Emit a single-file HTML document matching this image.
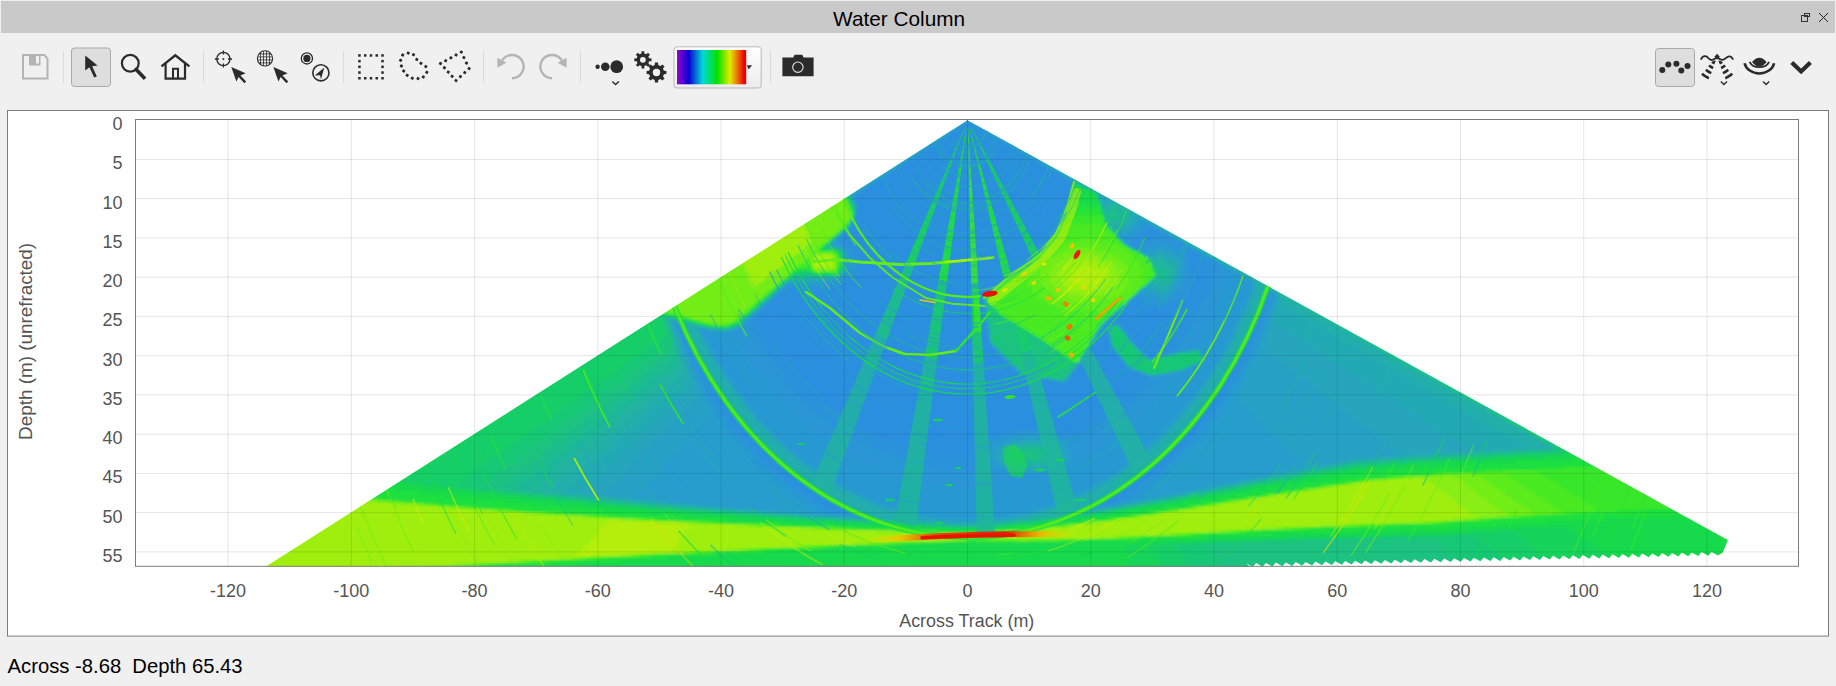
<!DOCTYPE html>
<html><head><meta charset="utf-8"><title>Water Column</title>
<style>
html,body{margin:0;padding:0;background:#f0f0f0;width:1836px;height:686px;overflow:hidden}
svg{display:block;font-family:"Liberation Sans",sans-serif}
</style></head><body>
<svg width="1836" height="686" viewBox="0 0 1836 686">
<defs><clipPath id="globeclip"><circle cx="265" cy="58.4" r="7.4"/></clipPath></defs>
<rect width="1836" height="686" fill="#f0f0f0"/>
<rect x="1" y="1" width="1834" height="32" fill="#c9c9c9"/>
<text x="899.1" y="25.9" font-size="21" text-anchor="middle" fill="#000" textLength="132" lengthAdjust="spacingAndGlyphs">Water Column</text>
<g fill="none" stroke="#333" stroke-width="1"><rect x="1804.5" y="13.5" width="5" height="3"/><rect x="1801.5" y="15.5" width="6" height="6"/></g>
<path d="M1819 13L1828 22M1828 13L1819 22" stroke="#222" stroke-width="1" fill="none"/>
<rect x="63" y="51" width="1" height="32" fill="#dadada"/>
<rect x="203" y="51" width="1" height="32" fill="#dadada"/>
<rect x="343" y="51" width="1" height="32" fill="#dadada"/>
<rect x="483" y="51" width="1" height="32" fill="#dadada"/>
<rect x="580" y="51" width="1" height="32" fill="#dadada"/>
<rect x="770" y="51" width="1" height="32" fill="#dadada"/>
<path d="M23 55H44.5L47.5 58.5V78.5H23Z" fill="none" stroke="#b4b4b4" stroke-width="2"/>
<rect x="29" y="55" width="11.5" height="10.5" fill="#b4b4b4"/><rect x="36" y="56" width="3" height="7.5" fill="#f0f0f0"/>
<rect x="71.5" y="48" width="39" height="38.5" rx="3" fill="#dedede" stroke="#a9a9a9" stroke-width="1"/>
<path d="M85.2 55.5L85.2 70.6L89.4 67.2L94.2 77.6L96.8 76.4L92.2 66.2L97.6 65.6Z" fill="#2b2b2b"/>
<circle cx="130.3" cy="63.3" r="8.4" fill="none" stroke="#2b2b2b" stroke-width="2.2"/>
<path d="M136.2 69.6L143.8 77.4" stroke="#2b2b2b" stroke-width="3.6" stroke-linecap="square"/>
<path d="M162.4 65.6L175.3 55.2L188.4 65.6" fill="none" stroke="#2b2b2b" stroke-width="2.4" stroke-linecap="square"/>
<path d="M165.6 63V78.6H185V63" fill="none" stroke="#2b2b2b" stroke-width="2.2"/>
<path d="M173 78.6V68.8H178V78.6" fill="none" stroke="#2b2b2b" stroke-width="2"/>
<circle cx="223.4" cy="59" r="6.6" fill="none" stroke="#2b2b2b" stroke-width="1.3"/>
<path d="M223.4 50.4V54.4M223.4 63.6V67.6M214.8 59H218.8M228 59H232" stroke="#2b2b2b" stroke-width="1.3"/>
<circle cx="223.4" cy="59" r="1" fill="#2b2b2b"/>
<path d="M231.30 66.90L236.40 81.40L238.60 76.90L244.40 83.20L246.20 81.40L240.40 75.40L245.70 73.20Z" fill="#2b2b2b"/>
<circle cx="265" cy="58.4" r="7.6" fill="none" stroke="#2b2b2b" stroke-width="1.1"/>
<path d="M260.5 51V66M263.5 51V66M266.5 51V66M269.5 51V66M257.5 53.9H272.5M257.5 56.9H272.5M257.5 59.9H272.5M257.5 62.9H272.5" stroke="#2b2b2b" stroke-width="0.8" clip-path="url(#globeclip)"/>
<path d="M273.35 66.90L278.45 81.40L280.65 76.90L286.45 83.20L288.25 81.40L282.45 75.40L287.75 73.20Z" fill="#2b2b2b"/>
<circle cx="306.9" cy="58.4" r="5.6" fill="none" stroke="#2b2b2b" stroke-width="1.3"/><circle cx="306.9" cy="58.4" r="3.6" fill="#2b2b2b"/>
<circle cx="320.9" cy="72.8" r="8.1" fill="none" stroke="#2b2b2b" stroke-width="1.6"/>
<path d="M324.3 67.6L314.8 75.4L320.1 75.2L320.9 79.4Z" fill="#2b2b2b"/>
<g fill="#2b2b2b"><rect x="358.20" y="54.20" width="2.5" height="2.5"/><rect x="358.20" y="59.90" width="2.5" height="2.5"/><rect x="358.20" y="65.60" width="2.5" height="2.5"/><rect x="358.20" y="71.30" width="2.5" height="2.5"/><rect x="358.20" y="77.00" width="2.5" height="2.5"/><rect x="363.97" y="54.20" width="2.5" height="2.5"/><rect x="363.97" y="77.00" width="2.5" height="2.5"/><rect x="369.74" y="54.20" width="2.5" height="2.5"/><rect x="369.74" y="77.00" width="2.5" height="2.5"/><rect x="375.51" y="54.20" width="2.5" height="2.5"/><rect x="375.51" y="77.00" width="2.5" height="2.5"/><rect x="381.28" y="54.20" width="2.5" height="2.5"/><rect x="381.28" y="59.90" width="2.5" height="2.5"/><rect x="381.28" y="65.60" width="2.5" height="2.5"/><rect x="381.28" y="71.30" width="2.5" height="2.5"/><rect x="381.28" y="77.00" width="2.5" height="2.5"/></g>
<g fill="#2b2b2b"><rect x="406.80" y="51.70" width="2.8" height="2.8" rx="0.5" transform="rotate(30 408.20 53.10)"/><rect x="412.10" y="53.30" width="2.8" height="2.8" rx="0.5" transform="rotate(30 413.50 54.70)"/><rect x="415.40" y="58.00" width="2.8" height="2.8" rx="0.5" transform="rotate(30 416.80 59.40)"/><rect x="419.50" y="61.90" width="2.8" height="2.8" rx="0.5" transform="rotate(30 420.90 63.30)"/><rect x="424.40" y="65.20" width="2.8" height="2.8" rx="0.5" transform="rotate(30 425.80 66.60)"/><rect x="425.40" y="70.90" width="2.8" height="2.8" rx="0.5" transform="rotate(30 426.80 72.30)"/><rect x="421.90" y="75.50" width="2.8" height="2.8" rx="0.5" transform="rotate(30 423.30 76.90)"/><rect x="416.60" y="77.20" width="2.8" height="2.8" rx="0.5" transform="rotate(30 418.00 78.60)"/><rect x="410.90" y="76.80" width="2.8" height="2.8" rx="0.5" transform="rotate(30 412.30 78.20)"/><rect x="405.80" y="73.90" width="2.8" height="2.8" rx="0.5" transform="rotate(30 407.20 75.30)"/><rect x="402.30" y="69.60" width="2.8" height="2.8" rx="0.5" transform="rotate(30 403.70 71.00)"/><rect x="400.00" y="64.60" width="2.8" height="2.8" rx="0.5" transform="rotate(30 401.40 66.00)"/><rect x="399.20" y="58.90" width="2.8" height="2.8" rx="0.5" transform="rotate(30 400.60 60.30)"/><rect x="401.30" y="53.60" width="2.8" height="2.8" rx="0.5" transform="rotate(30 402.70 55.00)"/></g>
<g fill="#2b2b2b"><rect x="439.10" y="62.10" width="2.8" height="2.8" rx="0.5" transform="rotate(30 440.50 63.50)"/><rect x="444.30" y="59.25" width="2.8" height="2.8" rx="0.5" transform="rotate(30 445.70 60.65)"/><rect x="449.50" y="56.40" width="2.8" height="2.8" rx="0.5" transform="rotate(30 450.90 57.80)"/><rect x="454.70" y="53.55" width="2.8" height="2.8" rx="0.5" transform="rotate(30 456.10 54.95)"/><rect x="459.90" y="50.70" width="2.8" height="2.8" rx="0.5" transform="rotate(30 461.30 52.10)"/><rect x="462.50" y="56.20" width="2.8" height="2.8" rx="0.5" transform="rotate(30 463.90 57.60)"/><rect x="465.10" y="61.70" width="2.8" height="2.8" rx="0.5" transform="rotate(30 466.50 63.10)"/><rect x="467.70" y="67.20" width="2.8" height="2.8" rx="0.5" transform="rotate(30 469.10 68.60)"/><rect x="463.33" y="71.20" width="2.8" height="2.8" rx="0.5" transform="rotate(30 464.73 72.60)"/><rect x="458.97" y="75.20" width="2.8" height="2.8" rx="0.5" transform="rotate(30 460.37 76.60)"/><rect x="454.60" y="79.20" width="2.8" height="2.8" rx="0.5" transform="rotate(30 456.00 80.60)"/><rect x="450.73" y="74.92" width="2.8" height="2.8" rx="0.5" transform="rotate(30 452.12 76.32)"/><rect x="446.85" y="70.65" width="2.8" height="2.8" rx="0.5" transform="rotate(30 448.25 72.05)"/><rect x="442.98" y="66.38" width="2.8" height="2.8" rx="0.5" transform="rotate(30 444.38 67.78)"/></g>
<path d="M502.2 60.4A11.6 11.6 0 1 1 512 78.2" fill="none" stroke="#b4b4b4" stroke-width="2.4"/>
<path d="M497.4 57.8L497.4 67.8L506.4 62.8Z" fill="#b4b4b4"/>
<path d="M561.8 60.4A11.6 11.6 0 1 0 552 78.2" fill="none" stroke="#b4b4b4" stroke-width="2.4"/>
<path d="M566.6 57.8L566.6 67.8L557.6 62.8Z" fill="#b4b4b4"/>
<circle cx="597.6" cy="66.7" r="2.2" fill="#2b2b2b"/><circle cx="605.3" cy="66.7" r="4.3" fill="#2b2b2b"/><circle cx="616.7" cy="66.7" r="6.4" fill="#2b2b2b"/>
<path d="M612.3 81.4L615.6 84.6L618.9 81.4" fill="none" stroke="#2b2b2b" stroke-width="1.4"/>
<path d="M649.12 58.31L651.49 58.44L651.49 61.16L649.12 61.29L648.36 63.14L649.94 64.91L648.01 66.84L646.24 65.26L644.39 66.02L644.26 68.39L641.54 68.39L641.41 66.02L639.56 65.26L637.79 66.84L635.86 64.91L637.44 63.14L636.68 61.29L634.31 61.16L634.31 58.44L636.68 58.31L637.44 56.46L635.86 54.69L637.79 52.76L639.56 54.34L641.41 53.58L641.54 51.21L644.26 51.21L644.39 53.58L646.24 54.34L648.01 52.76L649.94 54.69L648.36 56.46ZM645.80 59.80A2.9 2.9 0 1 0 640.00 59.80A2.9 2.9 0 1 0 645.80 59.80Z" fill="#2b2b2b" fill-rule="evenodd"/>
<path d="M663.89 70.73L666.38 70.94L666.38 74.06L663.89 74.27L662.98 76.47L664.59 78.38L662.38 80.59L660.47 78.98L658.27 79.89L658.06 82.38L654.94 82.38L654.73 79.89L652.53 78.98L650.62 80.59L648.41 78.38L650.02 76.47L649.11 74.27L646.62 74.06L646.62 70.94L649.11 70.73L650.02 68.53L648.41 66.62L650.62 64.41L652.53 66.02L654.73 65.11L654.94 62.62L658.06 62.62L658.27 65.11L660.47 66.02L662.38 64.41L664.59 66.62L662.98 68.53ZM660.20 72.50A3.7 3.7 0 1 0 652.80 72.50A3.7 3.7 0 1 0 660.20 72.50Z" fill="#2b2b2b" fill-rule="evenodd"/>
<defs><linearGradient id="cmapg" x1="0" x2="1" y1="0" y2="0"><stop offset="0" stop-color="#9a00d0"/><stop offset="0.17" stop-color="#0a00d4"/><stop offset="0.37" stop-color="#00d8d8"/><stop offset="0.58" stop-color="#00e000"/><stop offset="0.765" stop-color="#e0ec00"/><stop offset="0.97" stop-color="#f00000"/><stop offset="1" stop-color="#f00000"/></linearGradient><linearGradient id="btng" x1="0" x2="0" y1="0" y2="1"><stop offset="0" stop-color="#ffffff"/><stop offset="1" stop-color="#ececec"/></linearGradient></defs>
<rect x="674" y="46.8" width="87.2" height="41.2" rx="3" fill="url(#btng)" stroke="#b9b9b9" stroke-width="1"/>
<rect x="677" y="50" width="69.2" height="34.3" fill="url(#cmapg)"/>
<path d="M746.7 65.3H752.2L748.6 69.6Z" fill="#333"/>
<path d="M782.4 57.4H793.2L794.6 54.8H802.2L803.6 57.4H813.6V76.2H782.4Z" fill="#2b2b2b"/>
<circle cx="797.9" cy="67.2" r="5.2" fill="none" stroke="#e6e6e6" stroke-width="1.1"/>
<rect x="1655.5" y="48.5" width="39" height="38" rx="3" fill="#dedede" stroke="#a9a9a9" stroke-width="1"/>
<circle cx="1662.3" cy="69.9" r="3" fill="#2b2b2b"/>
<circle cx="1668.3" cy="64.6" r="3" fill="#2b2b2b"/>
<circle cx="1676.4" cy="63.7" r="3" fill="#2b2b2b"/>
<circle cx="1681.3" cy="70.4" r="3" fill="#2b2b2b"/>
<circle cx="1687.5" cy="65.9" r="3" fill="#2b2b2b"/>
<path d="M1700.8 59.6C1703 55 1706.5 55.5 1708.5 58.2S1713.5 60.5 1717 57.2C1720.5 60.5 1723.5 60.5 1725.8 58.2S1731 55 1733.2 59.6" fill="none" stroke="#2b2b2b" stroke-width="1.8"/>
<path d="M1717.1 53.8L1719.8 56.8L1717.1 59.8L1714.4 56.8Z" fill="#2b2b2b"/>
<path d="M1712.13 61.81Q1713.27 62.84 1714.67 63.39M1722.07 61.81Q1720.93 62.84 1719.53 63.39M1709.06 65.53Q1710.90 67.18 1713.14 68.07M1725.14 65.53Q1723.30 67.18 1721.06 68.07M1705.89 69.70Q1708.33 71.91 1711.31 73.10M1728.31 69.70Q1725.87 71.91 1722.89 73.10M1701.92 73.83Q1705.05 76.65 1708.88 78.17M1732.28 73.83Q1729.15 76.65 1725.32 78.17" fill="none" stroke="#2b2b2b" stroke-width="2.6"/>
<path d="M1713.2 60.8L1716 60.8L1714.4 63.6Z M1721 60.8L1718.2 60.8L1719.8 63.6Z" fill="#2b2b2b"/>
<path d="M1720.8 81.6L1723.9 84.6L1727 81.6" fill="none" stroke="#2b2b2b" stroke-width="1.4"/>
<path d="M1752 62Q1759.3 53.5 1766.6 62Q1759.3 71 1752 62Z" fill="#2b2b2b"/>
<path d="M1749.6 61.8A10.5 8.5 0 0 0 1769.1 61.8" fill="none" stroke="#2b2b2b" stroke-width="1.8"/>
<path d="M1744.6 63.2A15 12.5 0 0 0 1774.1 63.2" fill="none" stroke="#2b2b2b" stroke-width="2.6"/>
<path d="M1763 81.6L1766.1 84.6L1769.2 81.6" fill="none" stroke="#2b2b2b" stroke-width="1.4"/>
<path d="M1791.8 62.4L1801.1 71.4L1810.4 62.4" fill="none" stroke="#2b2b2b" stroke-width="4.2"/>
<rect x="7.5" y="110.5" width="1821" height="525.6" fill="#fff" stroke="#7c7c7c" stroke-width="1"/>
<defs><clipPath id="fanclip"><path d="M967.5 120.2L1727.9 540.1L1722.8 552.5L1718.0 555.5L1711.5 551.9L1708.1 555.7L1701.6 552.1L1698.2 556.0L1691.7 552.4L1688.3 556.2L1681.8 552.6L1678.4 556.5L1671.9 552.9L1668.5 556.7L1662.0 553.1L1658.6 557.0L1652.1 553.4L1648.7 557.2L1642.2 553.6L1638.8 557.4L1632.3 553.8L1628.9 557.7L1622.4 554.1L1619.0 557.9L1612.5 554.3L1609.1 558.2L1602.6 554.6L1599.2 558.4L1592.7 554.8L1589.3 558.7L1582.8 555.1L1579.4 558.9L1572.9 555.3L1569.5 559.2L1563.0 555.6L1559.6 559.4L1553.1 555.8L1549.7 559.6L1543.2 556.0L1539.8 559.9L1533.3 556.3L1529.9 560.1L1523.4 556.5L1520.0 560.4L1513.5 556.8L1510.1 560.6L1503.6 557.0L1500.2 560.9L1493.7 557.3L1490.3 561.1L1483.8 557.5L1480.4 561.3L1473.9 557.7L1470.5 561.6L1464.0 558.0L1460.6 561.8L1454.1 558.2L1450.7 562.1L1444.2 558.5L1440.8 562.3L1434.3 558.7L1430.9 562.6L1424.4 559.0L1421.0 562.8L1414.5 559.2L1411.1 563.0L1404.6 559.4L1401.2 563.3L1394.7 559.7L1391.3 563.5L1384.8 559.9L1381.4 563.8L1374.9 560.2L1371.5 564.0L1365.0 560.4L1361.6 564.3L1355.1 560.7L1351.7 564.5L1345.2 560.9L1341.8 564.8L1335.3 561.2L1331.9 565.0L1325.4 561.4L1322.0 565.2L1315.5 561.6L1312.1 565.5L1305.6 561.9L1302.2 565.7L1295.7 562.1L1292.3 566.0L1285.8 562.4L1282.4 566.2L1275.9 562.6L1272.5 566.5L1266.0 562.9L1262.6 566.7L1256.1 563.1L1252.7 566.9L1246.2 563.3L1250.0 567.0L266.0 566.5Z"/></clipPath><filter id="fblur" x="0" y="0" width="1" height="1"><feGaussianBlur stdDeviation="1.2"/></filter></defs>
<g clip-path="url(#fanclip)">
<g filter="url(#fblur)" shape-rendering="crispEdges">
<rect x="258" y="116" width="1476" height="453" fill="#72ed18"/>
<path fill="#2a8fdf" d="M966 122h3v3h-3zM963 125h12v3h-12zM957 128h21v3h-21zM954 131h30v3h-30zM948 134h42v3h-42zM945 137h51v3h-51zM939 140h60v3h-60zM933 143h72v3h-72zM930 146h81v3h-81zM924 149h93v3h-93zM921 152h99v3h-99zM915 155h111v3h-111zM912 158h120v3h-120zM906 161h132v3h-132zM903 164h138v3h-138zM897 167h150v3h-150zM894 170h159v3h-159zM888 173h171v3h-171zM885 176h177v3h-177zM879 179h189v3h-189zM876 182h195v3h-195zM870 185h201v3h-201zM867 188h204v3h-204zM861 191h210v3h-210zM858 194h210v3h-210zM855 197h213v3h-213zM858 200h210v3h-210zM858 203h210v3h-210zM858 206h207v3h-207zM858 209h207v3h-207zM858 212h204v3h-204zM858 215h204v3h-204zM855 218h207v3h-207zM855 221h204v3h-204zM852 224h207v3h-207zM852 227h204v3h-204zM849 230h207v3h-207zM1149 230h9v3h-9zM846 233h207v3h-207zM1146 233h12v3h-12zM843 236h207v3h-207zM1143 236h3v3h-3zM843 239h207v3h-207zM1140 239h3v3h-3zM849 242h198v3h-198zM1134 242h6v3h-6zM852 245h192v3h-192zM1131 245h6v3h-6zM855 248h186v3h-186zM1185 248h3v3h-3zM858 251h180v3h-180zM1188 251h6v3h-6zM858 254h177v3h-177zM1188 254h12v3h-12zM861 257h171v3h-171zM1191 257h12v3h-12zM861 260h168v3h-168zM1191 260h15v3h-15zM861 263h162v3h-162zM1191 263h15v3h-15zM861 266h159v3h-159zM1191 266h15v3h-15zM858 269h156v3h-156zM1191 269h12v3h-12zM855 272h156v3h-156zM1191 272h12v3h-12zM855 275h153v3h-153zM1191 275h9v3h-9zM849 278h156v3h-156zM1191 278h9v3h-9zM846 281h153v3h-153zM1191 281h9v3h-9zM840 284h156v3h-156zM1191 284h6v3h-6zM831 287h162v3h-162zM1188 287h9v3h-9zM783 290h15v3h-15zM813 290h177v3h-177zM1188 290h6v3h-6zM780 293h207v3h-207zM1185 293h9v3h-9zM777 296h207v3h-207zM1134 296h3v3h-3zM1182 296h9v3h-9zM1263 296h6v3h-6zM774 299h210v3h-210zM1131 299h9v3h-9zM1182 299h9v3h-9zM1263 299h3v3h-3zM771 302h213v3h-213zM1128 302h15v3h-15zM1176 302h12v3h-12zM1263 302h3v3h-3zM768 305h216v3h-216zM1125 305h21v3h-21zM1173 305h15v3h-15zM1260 305h6v3h-6zM762 308h222v3h-222zM1122 308h36v3h-36zM1164 308h21v3h-21zM1260 308h3v3h-3zM759 311h225v3h-225zM1116 311h69v3h-69zM1260 311h3v3h-3zM756 314h231v3h-231zM1113 314h69v3h-69zM1257 314h3v3h-3zM753 317h234v3h-234zM1110 317h72v3h-72zM1257 317h3v3h-3zM756 320h231v3h-231zM1107 320h72v3h-72zM1254 320h6v3h-6zM759 323h228v3h-228zM1104 323h9v3h-9zM1119 323h57v3h-57zM1254 323h3v3h-3zM681 326h3v3h-3zM759 326h228v3h-228zM1101 326h6v3h-6zM1122 326h54v3h-54zM1251 326h6v3h-6zM681 329h3v3h-3zM762 329h225v3h-225zM1101 329h6v3h-6zM1125 329h48v3h-48zM1251 329h3v3h-3zM684 332h3v3h-3zM762 332h225v3h-225zM1098 332h9v3h-9zM1128 332h45v3h-45zM1248 332h6v3h-6zM684 335h3v3h-3zM765 335h222v3h-222zM1095 335h15v3h-15zM1128 335h42v3h-42zM1248 335h6v3h-6zM687 338h3v3h-3zM768 338h222v3h-222zM1095 338h15v3h-15zM1131 338h36v3h-36zM1248 338h3v3h-3zM687 341h3v3h-3zM768 341h222v3h-222zM1092 341h18v3h-18zM1134 341h33v3h-33zM1245 341h6v3h-6zM771 344h219v3h-219zM1092 344h18v3h-18zM1137 344h27v3h-27zM1245 344h3v3h-3zM690 347h3v3h-3zM774 347h219v3h-219zM1089 347h24v3h-24zM1140 347h21v3h-21zM1242 347h6v3h-6zM693 350h3v3h-3zM777 350h219v3h-219zM1086 350h30v3h-30zM1143 350h15v3h-15zM1242 350h3v3h-3zM693 353h3v3h-3zM777 353h222v3h-222zM1086 353h30v3h-30zM1146 353h12v3h-12zM1239 353h6v3h-6zM696 356h3v3h-3zM780 356h222v3h-222zM1083 356h36v3h-36zM1149 356h6v3h-6zM1236 356h6v3h-6zM696 359h3v3h-3zM783 359h222v3h-222zM1083 359h39v3h-39zM1236 359h6v3h-6zM699 362h3v3h-3zM786 362h222v3h-222zM1080 362h45v3h-45zM1233 362h6v3h-6zM699 365h3v3h-3zM789 365h222v3h-222zM1077 365h51v3h-51zM1233 365h6v3h-6zM702 368h3v3h-3zM789 368h225v3h-225zM1077 368h54v3h-54zM1230 368h6v3h-6zM702 371h3v3h-3zM792 371h225v3h-225zM1074 371h66v3h-66zM1230 371h3v3h-3zM705 374h3v3h-3zM795 374h228v3h-228zM1071 374h69v3h-69zM1227 374h6v3h-6zM705 377h6v3h-6zM798 377h240v3h-240zM1068 377h69v3h-69zM1224 377h6v3h-6zM708 380h3v3h-3zM801 380h255v3h-255zM1065 380h69v3h-69zM1224 380h6v3h-6zM708 383h6v3h-6zM804 383h327v3h-327zM1221 383h6v3h-6zM711 386h6v3h-6zM807 386h321v3h-321zM1218 386h9v3h-9zM711 389h6v3h-6zM810 389h315v3h-315zM1218 389h6v3h-6zM714 392h6v3h-6zM813 392h309v3h-309zM1215 392h6v3h-6zM717 395h6v3h-6zM816 395h303v3h-303zM1212 395h9v3h-9zM717 398h6v3h-6zM822 398h294v3h-294zM1212 398h6v3h-6zM720 401h6v3h-6zM825 401h285v3h-285zM1209 401h6v3h-6zM723 404h6v3h-6zM828 404h279v3h-279zM1206 404h9v3h-9zM723 407h6v3h-6zM831 407h273v3h-273zM1206 407h6v3h-6zM726 410h6v3h-6zM837 410h261v3h-261zM1203 410h6v3h-6zM729 413h6v3h-6zM840 413h255v3h-255zM1200 413h6v3h-6zM729 416h9v3h-9zM843 416h249v3h-249zM1197 416h9v3h-9zM732 419h9v3h-9zM849 419h237v3h-237zM1194 419h9v3h-9zM735 422h6v3h-6zM855 422h228v3h-228zM1194 422h6v3h-6zM738 425h6v3h-6zM858 425h219v3h-219zM1191 425h6v3h-6zM741 428h6v3h-6zM864 428h147v3h-147zM1050 428h21v3h-21zM1188 428h6v3h-6zM741 431h9v3h-9zM870 431h129v3h-129zM1062 431h3v3h-3zM1185 431h9v3h-9zM744 434h9v3h-9zM876 434h114v3h-114zM1182 434h9v3h-9zM747 437h9v3h-9zM882 437h102v3h-102zM1179 437h9v3h-9zM750 440h9v3h-9zM891 440h87v3h-87zM1176 440h9v3h-9zM753 443h9v3h-9zM897 443h78v3h-78zM1173 443h9v3h-9zM756 446h9v3h-9zM906 446h66v3h-66zM1170 446h9v3h-9zM759 449h9v3h-9zM918 449h54v3h-54zM1167 449h9v3h-9zM762 452h9v3h-9zM933 452h39v3h-39zM1164 452h9v3h-9zM765 455h9v3h-9zM1161 455h9v3h-9zM768 458h9v3h-9zM1158 458h9v3h-9zM771 461h9v3h-9zM1155 461h9v3h-9zM774 464h9v3h-9zM1152 464h9v3h-9zM777 467h9v3h-9zM1149 467h9v3h-9zM780 470h9v3h-9zM1146 470h9v3h-9zM783 473h12v3h-12zM1140 473h12v3h-12zM789 476h9v3h-9zM1137 476h9v3h-9zM792 479h9v3h-9zM1134 479h9v3h-9zM795 482h12v3h-12zM1128 482h12v3h-12zM798 485h12v3h-12zM1125 485h12v3h-12zM804 488h12v3h-12zM1119 488h12v3h-12zM807 491h12v3h-12zM1116 491h12v3h-12zM813 494h12v3h-12zM1110 494h12v3h-12zM816 497h12v3h-12zM1107 497h12v3h-12zM822 500h12v3h-12zM1101 500h12v3h-12zM825 503h15v3h-15zM1095 503h3v3h-3zM831 506h15v3h-15zM837 509h15v3h-15zM852 512h6v3h-6z"/>
<path fill="#2992db" d="M969 122h3v3h-3zM960 125h3v3h-3zM978 128h3v3h-3zM951 131h3v3h-3zM984 131h3v3h-3zM990 134h3v3h-3zM942 137h3v3h-3zM936 140h3v3h-3zM999 140h3v3h-3zM1005 143h3v3h-3zM927 146h3v3h-3zM1011 146h3v3h-3zM918 152h3v3h-3zM1020 152h3v3h-3zM1026 155h3v3h-3zM909 158h3v3h-3zM1032 158h3v3h-3zM1038 161h3v3h-3zM900 164h3v3h-3zM1041 164h3v3h-3zM1047 167h3v3h-3zM891 170h3v3h-3zM1053 170h3v3h-3zM885 173h3v3h-3zM1059 173h3v3h-3zM882 176h3v3h-3zM1062 176h3v3h-3zM876 179h3v3h-3zM1068 179h3v3h-3zM873 182h3v3h-3zM867 185h3v3h-3zM864 188h3v3h-3zM858 191h3v3h-3zM855 194h3v3h-3zM855 200h3v3h-3zM855 215h3v3h-3zM852 221h3v3h-3zM1146 224h3v3h-3zM849 227h3v3h-3zM1146 227h9v3h-9zM846 230h3v3h-3zM1143 230h6v3h-6zM1158 230h3v3h-3zM843 233h3v3h-3zM1140 233h6v3h-6zM1158 233h9v3h-9zM840 236h3v3h-3zM1134 236h9v3h-9zM1146 236h24v3h-24zM837 239h6v3h-6zM1128 239h12v3h-12zM1143 239h9v3h-9zM1167 239h9v3h-9zM840 242h9v3h-9zM1125 242h9v3h-9zM1140 242h6v3h-6zM1173 242h9v3h-9zM846 245h6v3h-6zM1137 245h6v3h-6zM1176 245h12v3h-12zM849 248h6v3h-6zM1137 248h3v3h-3zM1179 248h6v3h-6zM1188 248h3v3h-3zM852 251h6v3h-6zM1182 251h6v3h-6zM1194 251h3v3h-3zM852 254h6v3h-6zM1185 254h3v3h-3zM1200 254h3v3h-3zM855 257h6v3h-6zM1185 257h6v3h-6zM1203 257h6v3h-6zM855 260h6v3h-6zM1185 260h6v3h-6zM1206 260h6v3h-6zM855 263h6v3h-6zM1188 263h3v3h-3zM1206 263h12v3h-12zM855 266h6v3h-6zM1188 266h3v3h-3zM1206 266h12v3h-12zM852 269h6v3h-6zM1188 269h3v3h-3zM1203 269h15v3h-15zM849 272h6v3h-6zM1188 272h3v3h-3zM1203 272h12v3h-12zM846 275h9v3h-9zM1188 275h3v3h-3zM1200 275h15v3h-15zM843 278h6v3h-6zM1188 278h3v3h-3zM1200 278h12v3h-12zM837 281h9v3h-9zM1185 281h6v3h-6zM1200 281h12v3h-12zM828 284h12v3h-12zM1185 284h6v3h-6zM1197 284h15v3h-15zM783 287h48v3h-48zM1185 287h3v3h-3zM1197 287h12v3h-12zM780 290h3v3h-3zM798 290h15v3h-15zM1182 290h6v3h-6zM1194 290h15v3h-15zM777 293h3v3h-3zM1137 293h3v3h-3zM1179 293h6v3h-6zM1194 293h12v3h-12zM1263 293h6v3h-6zM774 296h3v3h-3zM1137 296h6v3h-6zM1176 296h6v3h-6zM1191 296h15v3h-15zM771 299h3v3h-3zM1140 299h6v3h-6zM1173 299h9v3h-9zM1191 299h12v3h-12zM1266 299h3v3h-3zM768 302h3v3h-3zM1143 302h9v3h-9zM1167 302h9v3h-9zM1188 302h15v3h-15zM1260 302h3v3h-3zM1266 302h3v3h-3zM765 305h3v3h-3zM1146 305h27v3h-27zM1188 305h12v3h-12zM1158 308h6v3h-6zM1185 308h15v3h-15zM1263 308h3v3h-3zM1185 311h12v3h-12zM1257 311h3v3h-3zM1263 311h3v3h-3zM1182 314h15v3h-15zM1260 314h3v3h-3zM1182 317h12v3h-12zM1254 317h3v3h-3zM1260 317h3v3h-3zM750 320h6v3h-6zM1179 320h15v3h-15zM1260 320h3v3h-3zM678 323h3v3h-3zM747 323h12v3h-12zM1176 323h15v3h-15zM1251 323h3v3h-3zM1257 323h3v3h-3zM678 326h3v3h-3zM744 326h15v3h-15zM1176 326h15v3h-15zM1257 326h3v3h-3zM747 329h15v3h-15zM1173 329h15v3h-15zM1254 329h3v3h-3zM681 332h3v3h-3zM747 332h15v3h-15zM1173 332h15v3h-15zM1254 332h3v3h-3zM750 335h15v3h-15zM1170 335h15v3h-15zM1254 335h3v3h-3zM684 338h3v3h-3zM753 338h15v3h-15zM1167 338h15v3h-15zM1245 338h3v3h-3zM1251 338h3v3h-3zM684 341h3v3h-3zM753 341h15v3h-15zM1167 341h15v3h-15zM1251 341h3v3h-3zM687 344h6v3h-6zM756 344h15v3h-15zM1164 344h15v3h-15zM1242 344h3v3h-3zM1248 344h3v3h-3zM687 347h3v3h-3zM759 347h15v3h-15zM1161 347h15v3h-15zM1248 347h3v3h-3zM690 350h3v3h-3zM759 350h18v3h-18zM1158 350h18v3h-18zM1239 350h3v3h-3zM1245 350h3v3h-3zM690 353h3v3h-3zM762 353h15v3h-15zM1158 353h9v3h-9zM1245 353h3v3h-3zM693 356h3v3h-3zM765 356h15v3h-15zM1242 356h3v3h-3zM693 359h3v3h-3zM699 359h3v3h-3zM765 359h18v3h-18zM1242 359h3v3h-3zM696 362h3v3h-3zM768 362h18v3h-18zM1239 362h3v3h-3zM696 365h3v3h-3zM702 365h3v3h-3zM771 365h18v3h-18zM1230 365h3v3h-3zM1239 365h3v3h-3zM699 368h3v3h-3zM774 368h15v3h-15zM1236 368h3v3h-3zM699 371h3v3h-3zM705 371h3v3h-3zM777 371h15v3h-15zM1227 371h3v3h-3zM1233 371h6v3h-6zM702 374h3v3h-3zM777 374h18v3h-18zM1140 374h6v3h-6zM1233 374h3v3h-3zM702 377h3v3h-3zM780 377h18v3h-18zM1137 377h18v3h-18zM1230 377h6v3h-6zM705 380h3v3h-3zM711 380h3v3h-3zM783 380h18v3h-18zM1134 380h18v3h-18zM1221 380h3v3h-3zM1230 380h3v3h-3zM705 383h3v3h-3zM786 383h18v3h-18zM1131 383h18v3h-18zM1227 383h3v3h-3zM708 386h3v3h-3zM789 386h18v3h-18zM1128 386h18v3h-18zM1227 386h3v3h-3zM708 389h3v3h-3zM717 389h3v3h-3zM792 389h18v3h-18zM1125 389h18v3h-18zM1215 389h3v3h-3zM1224 389h3v3h-3zM711 392h3v3h-3zM795 392h18v3h-18zM1122 392h18v3h-18zM1221 392h6v3h-6zM711 395h6v3h-6zM798 395h18v3h-18zM1119 395h18v3h-18zM1221 395h3v3h-3zM714 398h3v3h-3zM723 398h3v3h-3zM801 398h21v3h-21zM1116 398h18v3h-18zM1209 398h3v3h-3zM1218 398h3v3h-3zM717 401h3v3h-3zM804 401h21v3h-21zM1110 401h21v3h-21zM1215 401h6v3h-6zM717 404h6v3h-6zM807 404h21v3h-21zM1107 404h21v3h-21zM1215 404h3v3h-3zM720 407h3v3h-3zM729 407h3v3h-3zM810 407h21v3h-21zM1104 407h21v3h-21zM1203 407h3v3h-3zM1212 407h3v3h-3zM723 410h3v3h-3zM732 410h3v3h-3zM813 410h24v3h-24zM1098 410h24v3h-24zM1200 410h3v3h-3zM1209 410h3v3h-3zM723 413h6v3h-6zM816 413h24v3h-24zM1095 413h24v3h-24zM1206 413h6v3h-6zM726 416h3v3h-3zM822 416h21v3h-21zM1092 416h24v3h-24zM1206 416h3v3h-3zM729 419h3v3h-3zM825 419h24v3h-24zM1086 419h24v3h-24zM1203 419h3v3h-3zM729 422h6v3h-6zM741 422h3v3h-3zM828 422h27v3h-27zM1083 422h24v3h-24zM1191 422h3v3h-3zM1200 422h3v3h-3zM732 425h6v3h-6zM744 425h3v3h-3zM831 425h27v3h-27zM1077 425h27v3h-27zM1188 425h3v3h-3zM1197 425h6v3h-6zM735 428h6v3h-6zM747 428h3v3h-3zM837 428h27v3h-27zM1011 428h39v3h-39zM1071 428h27v3h-27zM1185 428h3v3h-3zM1194 428h6v3h-6zM738 431h3v3h-3zM840 431h30v3h-30zM999 431h18v3h-18zM1044 431h18v3h-18zM1065 431h30v3h-30zM1194 431h3v3h-3zM741 434h3v3h-3zM846 434h30v3h-30zM990 434h12v3h-12zM1059 434h30v3h-30zM1191 434h3v3h-3zM744 437h3v3h-3zM852 437h30v3h-30zM984 437h9v3h-9zM1068 437h15v3h-15zM1188 437h3v3h-3zM744 440h6v3h-6zM855 440h36v3h-36zM978 440h9v3h-9zM1071 440h9v3h-9zM1185 440h6v3h-6zM747 443h6v3h-6zM861 443h36v3h-36zM975 443h9v3h-9zM1182 443h6v3h-6zM750 446h6v3h-6zM867 446h39v3h-39zM972 446h9v3h-9zM1179 446h6v3h-6zM753 449h6v3h-6zM873 449h45v3h-45zM972 449h6v3h-6zM1176 449h6v3h-6zM756 452h6v3h-6zM879 452h54v3h-54zM972 452h6v3h-6zM1173 452h6v3h-6zM759 455h6v3h-6zM888 455h90v3h-90zM1170 455h6v3h-6zM762 458h6v3h-6zM897 458h81v3h-81zM1167 458h6v3h-6zM765 461h6v3h-6zM780 461h3v3h-3zM906 461h75v3h-75zM1164 461h6v3h-6zM768 464h6v3h-6zM783 464h3v3h-3zM918 464h66v3h-66zM1149 464h3v3h-3zM1161 464h6v3h-6zM771 467h6v3h-6zM786 467h3v3h-3zM930 467h57v3h-57zM1146 467h3v3h-3zM1158 467h6v3h-6zM774 470h6v3h-6zM789 470h3v3h-3zM963 470h9v3h-9zM1143 470h3v3h-3zM1155 470h6v3h-6zM780 473h3v3h-3zM1152 473h3v3h-3zM783 476h6v3h-6zM798 476h3v3h-3zM1134 476h3v3h-3zM1146 476h6v3h-6zM786 479h6v3h-6zM801 479h3v3h-3zM1131 479h3v3h-3zM1143 479h6v3h-6zM789 482h6v3h-6zM1140 482h6v3h-6zM792 485h6v3h-6zM810 485h3v3h-3zM1122 485h3v3h-3zM1137 485h6v3h-6zM798 488h6v3h-6zM1131 488h6v3h-6zM801 491h6v3h-6zM819 491h3v3h-3zM1113 491h3v3h-3zM1128 491h6v3h-6zM804 494h9v3h-9zM1122 494h9v3h-9zM810 497h6v3h-6zM828 497h3v3h-3zM1104 497h3v3h-3zM1119 497h6v3h-6zM813 500h9v3h-9zM834 500h3v3h-3zM1098 500h3v3h-3zM1113 500h6v3h-6zM819 503h6v3h-6zM840 503h3v3h-3zM1092 503h3v3h-3zM1098 503h9v3h-9zM825 506h6v3h-6zM846 506h3v3h-3zM828 509h9v3h-9zM852 509h3v3h-3zM837 512h15v3h-15zM858 512h3v3h-3z"/>
<path fill="#2996d6" d="M963 122h3v3h-3zM975 125h3v3h-3zM954 128h3v3h-3zM945 134h3v3h-3zM996 137h3v3h-3zM1017 149h3v3h-3zM1023 152h3v3h-3zM912 155h3v3h-3zM903 161h3v3h-3zM1044 164h3v3h-3zM894 167h3v3h-3zM1065 176h3v3h-3zM1071 179h3v3h-3zM1071 182h3v3h-3zM861 188h3v3h-3zM852 194h3v3h-3zM855 203h3v3h-3zM855 212h3v3h-3zM1062 212h3v3h-3zM1143 224h3v3h-3zM1149 224h3v3h-3zM1140 227h6v3h-6zM1155 227h3v3h-3zM1137 230h6v3h-6zM1161 230h3v3h-3zM1134 233h6v3h-6zM1128 236h6v3h-6zM1170 236h3v3h-3zM1122 239h6v3h-6zM1152 239h15v3h-15zM1176 239h3v3h-3zM834 242h6v3h-6zM1146 242h12v3h-12zM1164 242h9v3h-9zM1182 242h3v3h-3zM843 245h3v3h-3zM1143 245h6v3h-6zM1170 245h6v3h-6zM846 248h3v3h-3zM1140 248h6v3h-6zM1176 248h3v3h-3zM1191 248h3v3h-3zM849 251h3v3h-3zM1179 251h3v3h-3zM1197 251h3v3h-3zM849 254h3v3h-3zM1179 254h6v3h-6zM1203 254h3v3h-3zM849 257h6v3h-6zM1182 257h3v3h-3zM852 260h3v3h-3zM1182 260h3v3h-3zM1212 260h3v3h-3zM852 263h3v3h-3zM1185 263h3v3h-3zM1218 263h3v3h-3zM849 266h6v3h-6zM1185 266h3v3h-3zM1218 266h6v3h-6zM849 269h3v3h-3zM1185 269h3v3h-3zM1218 269h12v3h-12zM846 272h3v3h-3zM1185 272h3v3h-3zM1215 272h15v3h-15zM1185 275h3v3h-3zM1215 275h15v3h-15zM840 278h3v3h-3zM1185 278h3v3h-3zM1212 278h15v3h-15zM831 281h6v3h-6zM1182 281h3v3h-3zM1212 281h15v3h-15zM786 284h6v3h-6zM816 284h12v3h-12zM1182 284h3v3h-3zM1212 284h15v3h-15zM1179 287h6v3h-6zM1209 287h15v3h-15zM1140 290h3v3h-3zM1179 290h3v3h-3zM1209 290h15v3h-15zM1266 290h3v3h-3zM1140 293h6v3h-6zM1176 293h3v3h-3zM1206 293h15v3h-15zM1269 293h3v3h-3zM1143 296h6v3h-6zM1170 296h6v3h-6zM1206 296h15v3h-15zM1269 296h3v3h-3zM1146 299h12v3h-12zM1164 299h9v3h-9zM1203 299h15v3h-15zM1269 299h3v3h-3zM1152 302h15v3h-15zM1203 302h15v3h-15zM1200 305h18v3h-18zM1266 305h3v3h-3zM759 308h3v3h-3zM1200 308h15v3h-15zM1257 308h3v3h-3zM1266 308h3v3h-3zM756 311h3v3h-3zM1197 311h18v3h-18zM753 314h3v3h-3zM1197 314h15v3h-15zM1263 314h3v3h-3zM750 317h3v3h-3zM1194 317h18v3h-18zM1263 317h3v3h-3zM747 320h3v3h-3zM1194 320h15v3h-15zM675 323h3v3h-3zM681 323h3v3h-3zM744 323h3v3h-3zM1191 323h18v3h-18zM1260 323h3v3h-3zM741 326h3v3h-3zM1191 326h15v3h-15zM1260 326h3v3h-3zM678 329h3v3h-3zM684 329h3v3h-3zM735 329h12v3h-12zM1188 329h18v3h-18zM1248 329h3v3h-3zM1257 329h3v3h-3zM732 332h15v3h-15zM1125 332h3v3h-3zM1188 332h15v3h-15zM1257 332h3v3h-3zM681 335h3v3h-3zM687 335h3v3h-3zM735 335h15v3h-15zM1185 335h15v3h-15zM1245 335h3v3h-3zM735 338h18v3h-18zM1182 338h18v3h-18zM1254 338h3v3h-3zM690 341h3v3h-3zM738 341h15v3h-15zM1131 341h3v3h-3zM1182 341h15v3h-15zM1242 341h3v3h-3zM684 344h3v3h-3zM738 344h18v3h-18zM990 344h3v3h-3zM1134 344h3v3h-3zM1179 344h18v3h-18zM1251 344h3v3h-3zM693 347h3v3h-3zM741 347h18v3h-18zM993 347h3v3h-3zM1137 347h3v3h-3zM1176 347h18v3h-18zM1239 347h3v3h-3zM1251 347h3v3h-3zM687 350h3v3h-3zM744 350h15v3h-15zM996 350h3v3h-3zM1140 350h3v3h-3zM1176 350h6v3h-6zM1248 350h3v3h-3zM696 353h3v3h-3zM744 353h18v3h-18zM999 353h3v3h-3zM1116 353h3v3h-3zM1236 353h3v3h-3zM1248 353h3v3h-3zM690 356h3v3h-3zM747 356h18v3h-18zM1002 356h3v3h-3zM1245 356h3v3h-3zM750 359h15v3h-15zM1005 359h3v3h-3zM1233 359h3v3h-3zM1245 359h3v3h-3zM693 362h3v3h-3zM750 362h18v3h-18zM1008 362h3v3h-3zM1242 362h3v3h-3zM693 365h3v3h-3zM753 365h18v3h-18zM1011 365h3v3h-3zM1242 365h3v3h-3zM696 368h3v3h-3zM756 368h18v3h-18zM1014 368h3v3h-3zM1074 368h3v3h-3zM1239 368h3v3h-3zM696 371h3v3h-3zM756 371h21v3h-21zM1017 371h3v3h-3zM1071 371h3v3h-3zM1176 371h3v3h-3zM1239 371h3v3h-3zM699 374h3v3h-3zM708 374h3v3h-3zM759 374h18v3h-18zM1023 374h3v3h-3zM1146 374h3v3h-3zM1161 374h15v3h-15zM1224 374h3v3h-3zM1236 374h3v3h-3zM699 377h3v3h-3zM762 377h18v3h-18zM1038 377h3v3h-3zM1155 377h18v3h-18zM1236 377h3v3h-3zM702 380h3v3h-3zM765 380h18v3h-18zM1152 380h18v3h-18zM1233 380h3v3h-3zM702 383h3v3h-3zM714 383h3v3h-3zM765 383h21v3h-21zM1149 383h21v3h-21zM1230 383h3v3h-3zM705 386h3v3h-3zM768 386h21v3h-21zM1146 386h21v3h-21zM1230 386h3v3h-3zM705 389h3v3h-3zM771 389h21v3h-21zM1143 389h21v3h-21zM1227 389h3v3h-3zM708 392h3v3h-3zM720 392h3v3h-3zM774 392h21v3h-21zM1140 392h21v3h-21zM1227 392h3v3h-3zM708 395h3v3h-3zM777 395h21v3h-21zM1137 395h21v3h-21zM1224 395h3v3h-3zM711 398h3v3h-3zM780 398h21v3h-21zM1134 398h21v3h-21zM1221 398h3v3h-3zM714 401h3v3h-3zM726 401h3v3h-3zM783 401h21v3h-21zM1131 401h21v3h-21zM1206 401h3v3h-3zM1221 401h3v3h-3zM714 404h3v3h-3zM786 404h21v3h-21zM1128 404h21v3h-21zM1218 404h3v3h-3zM717 407h3v3h-3zM789 407h21v3h-21zM1125 407h21v3h-21zM1215 407h3v3h-3zM717 410h6v3h-6zM792 410h21v3h-21zM1122 410h21v3h-21zM1212 410h6v3h-6zM720 413h3v3h-3zM735 413h3v3h-3zM795 413h21v3h-21zM1119 413h21v3h-21zM1197 413h3v3h-3zM1212 413h3v3h-3zM723 416h3v3h-3zM798 416h24v3h-24zM1116 416h21v3h-21zM1209 416h3v3h-3zM723 419h6v3h-6zM801 419h24v3h-24zM1110 419h24v3h-24zM1206 419h3v3h-3zM726 422h3v3h-3zM804 422h24v3h-24zM1107 422h24v3h-24zM1203 422h6v3h-6zM729 425h3v3h-3zM807 425h24v3h-24zM1104 425h24v3h-24zM1203 425h3v3h-3zM732 428h3v3h-3zM810 428h27v3h-27zM1098 428h27v3h-27zM1200 428h3v3h-3zM732 431h6v3h-6zM750 431h3v3h-3zM816 431h24v3h-24zM1017 431h27v3h-27zM1095 431h24v3h-24zM1182 431h3v3h-3zM1197 431h3v3h-3zM735 434h6v3h-6zM753 434h3v3h-3zM819 434h27v3h-27zM1002 434h12v3h-12zM1047 434h12v3h-12zM1089 434h27v3h-27zM1179 434h3v3h-3zM1194 434h6v3h-6zM738 437h6v3h-6zM756 437h3v3h-3zM822 437h30v3h-30zM993 437h9v3h-9zM1059 437h9v3h-9zM1083 437h30v3h-30zM1191 437h6v3h-6zM741 440h3v3h-3zM828 440h27v3h-27zM987 440h9v3h-9zM1065 440h6v3h-6zM1080 440h27v3h-27zM1191 440h3v3h-3zM744 443h3v3h-3zM831 443h30v3h-30zM984 443h6v3h-6zM1071 443h33v3h-33zM1188 443h3v3h-3zM747 446h3v3h-3zM834 446h33v3h-33zM981 446h6v3h-6zM1074 446h27v3h-27zM1185 446h3v3h-3zM750 449h3v3h-3zM840 449h33v3h-33zM978 449h6v3h-6zM1074 449h21v3h-21zM1182 449h3v3h-3zM753 452h3v3h-3zM846 452h33v3h-33zM978 452h6v3h-6zM1077 452h12v3h-12zM1179 452h3v3h-3zM756 455h3v3h-3zM774 455h3v3h-3zM849 455h39v3h-39zM978 455h6v3h-6zM1077 455h9v3h-9zM1158 455h3v3h-3zM1176 455h3v3h-3zM759 458h3v3h-3zM777 458h3v3h-3zM855 458h42v3h-42zM978 458h6v3h-6zM1077 458h3v3h-3zM1155 458h3v3h-3zM1173 458h3v3h-3zM762 461h3v3h-3zM861 461h45v3h-45zM981 461h6v3h-6zM1152 461h3v3h-3zM1170 461h3v3h-3zM765 464h3v3h-3zM867 464h51v3h-51zM984 464h6v3h-6zM1167 464h3v3h-3zM768 467h3v3h-3zM873 467h57v3h-57zM987 467h9v3h-9zM1164 467h3v3h-3zM771 470h3v3h-3zM882 470h81v3h-81zM972 470h30v3h-30zM1161 470h3v3h-3zM774 473h6v3h-6zM795 473h3v3h-3zM888 473h126v3h-126zM1137 473h3v3h-3zM1155 473h6v3h-6zM777 476h6v3h-6zM897 476h141v3h-141zM1152 476h6v3h-6zM780 479h6v3h-6zM909 479h117v3h-117zM1149 479h6v3h-6zM783 482h6v3h-6zM807 482h3v3h-3zM921 482h93v3h-93zM1125 482h3v3h-3zM1146 482h6v3h-6zM789 485h3v3h-3zM939 485h57v3h-57zM1143 485h3v3h-3zM792 488h6v3h-6zM816 488h3v3h-3zM1116 488h3v3h-3zM1137 488h6v3h-6zM795 491h6v3h-6zM1134 491h6v3h-6zM801 494h3v3h-3zM825 494h3v3h-3zM1107 494h3v3h-3zM1131 494h3v3h-3zM804 497h6v3h-6zM1125 497h6v3h-6zM807 500h6v3h-6zM1119 500h6v3h-6zM813 503h6v3h-6zM1107 503h6v3h-6zM816 506h9v3h-9zM1086 506h9v3h-9zM822 509h6v3h-6zM828 512h9v3h-9z"/>
<path fill="#2899d2" d="M981 128h3v3h-3zM1002 140h3v3h-3zM930 143h3v3h-3zM921 149h3v3h-3zM1029 155h3v3h-3zM1050 167h3v3h-3zM879 176h3v3h-3zM870 182h3v3h-3zM852 197h3v3h-3zM855 206h3v3h-3zM855 209h3v3h-3zM1140 221h9v3h-9zM1140 224h3v3h-3zM1137 227h3v3h-3zM1134 230h3v3h-3zM1053 233h3v3h-3zM1128 233h6v3h-6zM1167 233h3v3h-3zM1050 236h3v3h-3zM1119 236h9v3h-9zM1158 242h6v3h-6zM1149 245h9v3h-9zM1161 245h9v3h-9zM1188 245h3v3h-3zM1146 248h3v3h-3zM1170 248h6v3h-6zM1194 248h3v3h-3zM846 251h3v3h-3zM1038 251h3v3h-3zM1143 251h3v3h-3zM1173 251h6v3h-6zM846 254h3v3h-3zM1035 254h3v3h-3zM1176 254h3v3h-3zM1179 257h3v3h-3zM1209 257h3v3h-3zM849 260h3v3h-3zM1179 260h3v3h-3zM1215 260h3v3h-3zM849 263h3v3h-3zM1023 263h3v3h-3zM1182 263h3v3h-3zM846 266h3v3h-3zM1182 266h3v3h-3zM1224 266h3v3h-3zM846 269h3v3h-3zM1014 269h3v3h-3zM1182 269h3v3h-3zM1230 269h3v3h-3zM1182 272h3v3h-3zM1230 272h9v3h-9zM843 275h3v3h-3zM1182 275h3v3h-3zM1230 275h12v3h-12zM834 278h6v3h-6zM1182 278h3v3h-3zM1227 278h21v3h-21zM822 281h9v3h-9zM999 281h3v3h-3zM1179 281h3v3h-3zM1227 281h27v3h-27zM792 284h24v3h-24zM996 284h3v3h-3zM1179 284h3v3h-3zM1227 284h24v3h-24zM1176 287h3v3h-3zM1224 287h27v3h-27zM1143 290h3v3h-3zM1173 290h6v3h-6zM1224 290h27v3h-27zM1146 293h3v3h-3zM1170 293h6v3h-6zM1221 293h27v3h-27zM1272 293h3v3h-3zM1149 296h9v3h-9zM1161 296h9v3h-9zM1221 296h27v3h-27zM1272 296h3v3h-3zM1158 299h6v3h-6zM1218 299h27v3h-27zM1260 299h3v3h-3zM765 302h3v3h-3zM1218 302h27v3h-27zM1269 302h3v3h-3zM762 305h3v3h-3zM1122 305h3v3h-3zM1218 305h27v3h-27zM1269 305h3v3h-3zM1119 308h3v3h-3zM1215 308h27v3h-27zM984 311h3v3h-3zM1215 311h27v3h-27zM1266 311h3v3h-3zM1212 314h27v3h-27zM1254 314h3v3h-3zM1266 314h3v3h-3zM1212 317h27v3h-27zM1209 320h27v3h-27zM1263 320h3v3h-3zM1113 323h3v3h-3zM1209 323h27v3h-27zM1263 323h3v3h-3zM675 326h3v3h-3zM1206 326h30v3h-30zM702 329h3v3h-3zM1098 329h3v3h-3zM1122 329h3v3h-3zM1206 329h27v3h-27zM1260 329h3v3h-3zM678 332h3v3h-3zM702 332h30v3h-30zM1203 332h30v3h-30zM1260 332h3v3h-3zM705 335h30v3h-30zM1200 335h30v3h-30zM1257 335h3v3h-3zM681 338h3v3h-3zM705 338h30v3h-30zM1200 338h30v3h-30zM1257 338h3v3h-3zM708 341h30v3h-30zM1197 341h30v3h-30zM1254 341h3v3h-3zM711 344h27v3h-27zM1089 344h3v3h-3zM1197 344h27v3h-27zM1254 344h3v3h-3zM684 347h3v3h-3zM711 347h30v3h-30zM1194 347h30v3h-30zM714 350h30v3h-30zM1200 350h21v3h-21zM1251 350h3v3h-3zM687 353h3v3h-3zM714 353h30v3h-30zM1203 353h18v3h-18zM1251 353h3v3h-3zM717 356h30v3h-30zM1119 356h3v3h-3zM1155 356h3v3h-3zM1203 356h15v3h-15zM1248 356h3v3h-3zM690 359h3v3h-3zM717 359h33v3h-33zM1080 359h3v3h-3zM1206 359h12v3h-12zM1248 359h3v3h-3zM690 362h3v3h-3zM720 362h30v3h-30zM1200 362h15v3h-15zM1245 362h3v3h-3zM723 365h30v3h-30zM1194 365h18v3h-18zM1245 365h3v3h-3zM693 368h3v3h-3zM705 368h3v3h-3zM723 368h33v3h-33zM1185 368h27v3h-27zM1227 368h3v3h-3zM1242 368h3v3h-3zM726 371h30v3h-30zM1179 371h30v3h-30zM1242 371h3v3h-3zM696 374h3v3h-3zM726 374h33v3h-33zM1176 374h33v3h-33zM1239 374h3v3h-3zM729 377h33v3h-33zM1173 377h33v3h-33zM1239 377h3v3h-3zM699 380h3v3h-3zM732 380h33v3h-33zM1170 380h33v3h-33zM1236 380h3v3h-3zM732 383h33v3h-33zM1170 383h33v3h-33zM1218 383h3v3h-3zM1233 383h6v3h-6zM702 386h3v3h-3zM735 386h33v3h-33zM1167 386h33v3h-33zM1233 386h3v3h-3zM738 389h33v3h-33zM1164 389h33v3h-33zM1230 389h3v3h-3zM705 392h3v3h-3zM741 392h33v3h-33zM1161 392h33v3h-33zM1212 392h3v3h-3zM1230 392h3v3h-3zM705 395h3v3h-3zM741 395h36v3h-36zM1158 395h36v3h-36zM1227 395h3v3h-3zM708 398h3v3h-3zM744 398h36v3h-36zM1155 398h36v3h-36zM1224 398h6v3h-6zM711 401h3v3h-3zM747 401h36v3h-36zM1152 401h36v3h-36zM1224 401h3v3h-3zM711 404h3v3h-3zM729 404h3v3h-3zM750 404h36v3h-36zM1149 404h36v3h-36zM1221 404h3v3h-3zM714 407h3v3h-3zM753 407h36v3h-36zM1146 407h36v3h-36zM1218 407h6v3h-6zM714 410h3v3h-3zM753 410h39v3h-39zM1143 410h39v3h-39zM1218 410h3v3h-3zM717 413h3v3h-3zM756 413h39v3h-39zM1140 413h39v3h-39zM1215 413h3v3h-3zM717 416h6v3h-6zM738 416h3v3h-3zM759 416h39v3h-39zM1137 416h39v3h-39zM1194 416h3v3h-3zM1212 416h6v3h-6zM720 419h3v3h-3zM762 419h39v3h-39zM1134 419h39v3h-39zM1209 419h6v3h-6zM723 422h3v3h-3zM765 422h39v3h-39zM1131 422h39v3h-39zM1209 422h3v3h-3zM723 425h6v3h-6zM768 425h39v3h-39zM1128 425h39v3h-39zM1206 425h3v3h-3zM726 428h6v3h-6zM771 428h39v3h-39zM1125 428h39v3h-39zM1203 428h6v3h-6zM729 431h3v3h-3zM774 431h42v3h-42zM1119 431h42v3h-42zM1200 431h6v3h-6zM732 434h3v3h-3zM777 434h42v3h-42zM1014 434h33v3h-33zM1116 434h42v3h-42zM1200 434h3v3h-3zM732 437h6v3h-6zM780 437h42v3h-42zM1002 437h9v3h-9zM1050 437h9v3h-9zM1113 437h42v3h-42zM1176 437h3v3h-3zM1197 437h3v3h-3zM735 440h6v3h-6zM759 440h3v3h-3zM783 440h45v3h-45zM996 440h6v3h-6zM1059 440h6v3h-6zM1107 440h45v3h-45zM1173 440h3v3h-3zM1194 440h3v3h-3zM738 443h6v3h-6zM762 443h3v3h-3zM786 443h45v3h-45zM990 443h6v3h-6zM1065 443h6v3h-6zM1104 443h45v3h-45zM1170 443h3v3h-3zM1191 443h6v3h-6zM741 446h6v3h-6zM765 446h3v3h-3zM789 446h45v3h-45zM987 446h6v3h-6zM1068 446h6v3h-6zM1101 446h45v3h-45zM1167 446h3v3h-3zM1188 446h6v3h-6zM744 449h6v3h-6zM768 449h3v3h-3zM792 449h48v3h-48zM984 449h6v3h-6zM1071 449h3v3h-3zM1095 449h48v3h-48zM1164 449h3v3h-3zM1185 449h6v3h-6zM747 452h6v3h-6zM771 452h3v3h-3zM795 452h51v3h-51zM984 452h6v3h-6zM1071 452h6v3h-6zM1089 452h51v3h-51zM1161 452h3v3h-3zM1182 452h6v3h-6zM750 455h6v3h-6zM801 455h48v3h-48zM984 455h6v3h-6zM1071 455h6v3h-6zM1086 455h48v3h-48zM1179 455h6v3h-6zM753 458h6v3h-6zM804 458h51v3h-51zM984 458h6v3h-6zM1071 458h6v3h-6zM1080 458h51v3h-51zM1176 458h6v3h-6zM756 461h6v3h-6zM807 461h54v3h-54zM987 461h6v3h-6zM1068 461h60v3h-60zM1173 461h6v3h-6zM759 464h6v3h-6zM810 464h57v3h-57zM990 464h6v3h-6zM1065 464h60v3h-60zM1170 464h6v3h-6zM762 467h6v3h-6zM816 467h57v3h-57zM996 467h6v3h-6zM1059 467h60v3h-60zM1167 467h6v3h-6zM765 470h6v3h-6zM792 470h3v3h-3zM819 470h63v3h-63zM1002 470h9v3h-9zM1050 470h66v3h-66zM1140 470h3v3h-3zM1164 470h6v3h-6zM768 473h6v3h-6zM825 473h63v3h-63zM1014 473h96v3h-96zM1161 473h6v3h-6zM771 476h6v3h-6zM828 476h69v3h-69zM1038 476h69v3h-69zM1158 476h6v3h-6zM774 479h6v3h-6zM834 479h75v3h-75zM1026 479h75v3h-75zM1155 479h6v3h-6zM777 482h6v3h-6zM840 482h81v3h-81zM1014 482h81v3h-81zM1152 482h6v3h-6zM780 485h9v3h-9zM843 485h96v3h-96zM996 485h96v3h-96zM1146 485h9v3h-9zM786 488h6v3h-6zM849 488h237v3h-237zM1143 488h6v3h-6zM789 491h6v3h-6zM855 491h225v3h-225zM1140 491h6v3h-6zM792 494h9v3h-9zM861 494h213v3h-213zM1134 494h9v3h-9zM795 497h9v3h-9zM831 497h3v3h-3zM870 497h195v3h-195zM1101 497h3v3h-3zM1131 497h6v3h-6zM801 500h6v3h-6zM876 500h183v3h-183zM1125 500h6v3h-6zM804 503h9v3h-9zM885 503h165v3h-165zM1113 503h3v3h-3zM810 506h6v3h-6zM894 506h147v3h-147zM1095 506h3v3h-3zM813 509h9v3h-9zM903 509h129v3h-129zM822 512h6v3h-6zM861 512h3v3h-3zM918 512h99v3h-99zM855 515h15v3h-15zM936 515h66v3h-66z"/>
<path fill="#289dcd" d="M948 131h3v3h-3zM987 131h3v3h-3zM939 137h3v3h-3zM1008 143h3v3h-3zM906 158h3v3h-3zM1035 158h3v3h-3zM897 164h3v3h-3zM888 170h3v3h-3zM1056 170h3v3h-3zM855 191h3v3h-3zM1068 194h3v3h-3zM1140 218h3v3h-3zM1137 221h3v3h-3zM1137 224h3v3h-3zM1152 224h3v3h-3zM1134 227h3v3h-3zM1128 230h6v3h-6zM1116 233h12v3h-12zM837 236h3v3h-3zM1173 236h3v3h-3zM834 239h3v3h-3zM1179 239h3v3h-3zM831 242h3v3h-3zM840 245h3v3h-3zM1158 245h3v3h-3zM843 248h3v3h-3zM1149 248h9v3h-9zM1164 248h6v3h-6zM1146 251h3v3h-3zM1170 251h3v3h-3zM1200 251h3v3h-3zM1173 254h3v3h-3zM846 257h3v3h-3zM1176 257h3v3h-3zM846 260h3v3h-3zM1176 260h3v3h-3zM846 263h3v3h-3zM1179 263h3v3h-3zM1221 263h3v3h-3zM1179 266h3v3h-3zM1227 266h3v3h-3zM1179 269h3v3h-3zM1179 272h3v3h-3zM1179 275h3v3h-3zM1242 275h3v3h-3zM828 278h6v3h-6zM1179 278h3v3h-3zM1248 278h3v3h-3zM789 281h6v3h-6zM816 281h6v3h-6zM1176 281h3v3h-3zM1176 284h3v3h-3zM1251 284h3v3h-3zM1143 287h3v3h-3zM1173 287h3v3h-3zM1251 287h3v3h-3zM1146 290h3v3h-3zM1170 290h3v3h-3zM1263 290h3v3h-3zM1269 290h3v3h-3zM1149 293h9v3h-9zM1164 293h6v3h-6zM1248 293h3v3h-3zM771 296h3v3h-3zM1158 296h3v3h-3zM768 299h3v3h-3zM1245 299h3v3h-3zM1272 299h3v3h-3zM1245 302h3v3h-3zM1272 302h3v3h-3zM984 305h3v3h-3zM984 308h3v3h-3zM1242 308h3v3h-3zM1269 308h3v3h-3zM1269 311h3v3h-3zM1239 314h3v3h-3zM1266 317h3v3h-3zM1236 320h3v3h-3zM1251 320h3v3h-3zM1266 320h3v3h-3zM1236 323h3v3h-3zM738 326h3v3h-3zM1263 326h3v3h-3zM699 329h3v3h-3zM705 329h3v3h-3zM732 329h3v3h-3zM987 329h3v3h-3zM1233 329h3v3h-3zM1263 329h3v3h-3zM987 332h3v3h-3zM678 335h3v3h-3zM702 335h3v3h-3zM987 335h3v3h-3zM1230 335h3v3h-3zM1260 335h3v3h-3zM1260 338h3v3h-3zM681 341h3v3h-3zM705 341h3v3h-3zM1227 341h3v3h-3zM1257 341h3v3h-3zM708 344h3v3h-3zM1224 344h3v3h-3zM1257 344h3v3h-3zM1224 347h3v3h-3zM1254 347h3v3h-3zM684 350h3v3h-3zM711 350h3v3h-3zM1221 350h3v3h-3zM1254 350h3v3h-3zM1254 353h3v3h-3zM687 356h3v3h-3zM714 356h3v3h-3zM1218 356h3v3h-3zM1251 356h3v3h-3zM1203 359h3v3h-3zM1251 359h3v3h-3zM702 362h3v3h-3zM717 362h3v3h-3zM1215 362h3v3h-3zM1230 362h3v3h-3zM1248 362h3v3h-3zM690 365h3v3h-3zM720 365h3v3h-3zM1191 365h3v3h-3zM1212 365h3v3h-3zM1248 365h3v3h-3zM1245 368h3v3h-3zM693 371h3v3h-3zM723 371h3v3h-3zM1209 371h3v3h-3zM1245 371h3v3h-3zM1026 374h3v3h-3zM1068 374h3v3h-3zM1158 374h3v3h-3zM1242 374h6v3h-6zM696 377h3v3h-3zM711 377h3v3h-3zM1041 377h3v3h-3zM1221 377h3v3h-3zM1242 377h3v3h-3zM696 380h3v3h-3zM729 380h3v3h-3zM1056 380h3v3h-3zM1203 380h3v3h-3zM1239 380h6v3h-6zM699 383h3v3h-3zM1239 383h3v3h-3zM699 386h3v3h-3zM1236 386h6v3h-6zM702 389h3v3h-3zM735 389h3v3h-3zM1197 389h3v3h-3zM1233 389h6v3h-6zM702 392h3v3h-3zM738 392h3v3h-3zM1194 392h3v3h-3zM1233 392h6v3h-6zM702 395h3v3h-3zM723 395h3v3h-3zM1230 395h6v3h-6zM705 398h3v3h-3zM1230 398h9v3h-9zM705 401h6v3h-6zM744 401h3v3h-3zM1188 401h3v3h-3zM1227 401h15v3h-15zM708 404h3v3h-3zM747 404h3v3h-3zM1185 404h3v3h-3zM1203 404h3v3h-3zM1224 404h21v3h-21zM708 407h6v3h-6zM750 407h3v3h-3zM1182 407h3v3h-3zM1224 407h24v3h-24zM708 410h6v3h-6zM1221 410h30v3h-30zM708 413h9v3h-9zM1218 413h36v3h-36zM705 416h12v3h-12zM756 416h3v3h-3zM1176 416h3v3h-3zM1218 416h39v3h-39zM705 419h15v3h-15zM741 419h3v3h-3zM759 419h3v3h-3zM1173 419h3v3h-3zM1191 419h3v3h-3zM1215 419h45v3h-45zM702 422h21v3h-21zM762 422h3v3h-3zM1170 422h3v3h-3zM1212 422h51v3h-51zM699 425h24v3h-24zM765 425h3v3h-3zM1167 425h3v3h-3zM1209 425h54v3h-54zM696 428h30v3h-30zM768 428h3v3h-3zM1164 428h3v3h-3zM1209 428h57v3h-57zM693 431h36v3h-36zM771 431h3v3h-3zM1161 431h3v3h-3zM1206 431h63v3h-63zM690 434h42v3h-42zM774 434h3v3h-3zM1158 434h3v3h-3zM1203 434h69v3h-69zM687 437h45v3h-45zM777 437h3v3h-3zM1011 437h12v3h-12zM1038 437h12v3h-12zM1155 437h3v3h-3zM1200 437h75v3h-75zM684 440h51v3h-51zM780 440h3v3h-3zM1002 440h6v3h-6zM1053 440h6v3h-6zM1152 440h3v3h-3zM1197 440h81v3h-81zM681 443h57v3h-57zM783 443h3v3h-3zM996 443h6v3h-6zM1059 443h6v3h-6zM1149 443h3v3h-3zM1197 443h84v3h-84zM681 446h60v3h-60zM786 446h3v3h-3zM993 446h3v3h-3zM1065 446h3v3h-3zM1146 446h3v3h-3zM1194 446h90v3h-90zM678 449h66v3h-66zM789 449h3v3h-3zM990 449h3v3h-3zM1065 449h6v3h-6zM1143 449h3v3h-3zM1191 449h96v3h-96zM675 452h72v3h-72zM990 452h3v3h-3zM1068 452h3v3h-3zM1188 452h102v3h-102zM672 455h78v3h-78zM798 455h3v3h-3zM990 455h3v3h-3zM1068 455h3v3h-3zM1134 455h3v3h-3zM1185 455h108v3h-108zM669 458h84v3h-84zM801 458h3v3h-3zM990 458h3v3h-3zM1065 458h6v3h-6zM1131 458h3v3h-3zM1182 458h114v3h-114zM666 461h90v3h-90zM804 461h3v3h-3zM993 461h3v3h-3zM1065 461h3v3h-3zM1128 461h3v3h-3zM1179 461h120v3h-120zM663 464h96v3h-96zM996 464h6v3h-6zM1059 464h6v3h-6zM1176 464h126v3h-126zM660 467h102v3h-102zM789 467h3v3h-3zM813 467h3v3h-3zM1002 467h6v3h-6zM1053 467h6v3h-6zM1119 467h3v3h-3zM1173 467h123v3h-123zM660 470h105v3h-105zM816 470h3v3h-3zM1011 470h12v3h-12zM1038 470h12v3h-12zM1116 470h3v3h-3zM1170 470h111v3h-111zM657 473h111v3h-111zM822 473h3v3h-3zM1110 473h3v3h-3zM1167 473h102v3h-102zM654 476h117v3h-117zM825 476h3v3h-3zM1107 476h3v3h-3zM1164 476h90v3h-90zM651 479h123v3h-123zM804 479h3v3h-3zM831 479h3v3h-3zM1101 479h3v3h-3zM1128 479h3v3h-3zM1161 479h78v3h-78zM648 482h129v3h-129zM837 482h3v3h-3zM1095 482h3v3h-3zM1158 482h66v3h-66zM645 485h135v3h-135zM813 485h3v3h-3zM840 485h3v3h-3zM1092 485h3v3h-3zM1155 485h54v3h-54zM642 488h144v3h-144zM846 488h3v3h-3zM1086 488h3v3h-3zM1149 488h48v3h-48zM639 491h150v3h-150zM822 491h3v3h-3zM852 491h3v3h-3zM1080 491h3v3h-3zM1110 491h3v3h-3zM1146 491h36v3h-36zM639 494h153v3h-153zM858 494h3v3h-3zM1074 494h3v3h-3zM1143 494h21v3h-21zM645 497h150v3h-150zM864 497h6v3h-6zM1065 497h6v3h-6zM1137 497h12v3h-12zM669 500h132v3h-132zM837 500h3v3h-3zM873 500h3v3h-3zM1059 500h3v3h-3zM1095 500h3v3h-3zM1131 500h3v3h-3zM702 503h102v3h-102zM843 503h3v3h-3zM879 503h6v3h-6zM1050 503h6v3h-6zM1089 503h3v3h-3zM1116 503h3v3h-3zM735 506h75v3h-75zM849 506h3v3h-3zM888 506h6v3h-6zM1041 506h6v3h-6zM1098 506h3v3h-3zM771 509h42v3h-42zM855 509h3v3h-3zM897 509h6v3h-6zM1032 509h6v3h-6zM1080 509h3v3h-3zM810 512h12v3h-12zM909 512h9v3h-9zM1017 512h9v3h-9zM846 515h9v3h-9zM924 515h12v3h-12zM1002 515h9v3h-9zM948 518h39v3h-39z"/>
<path fill="#27a1c5" d="M957 125h3v3h-3zM993 134h3v3h-3zM1014 146h3v3h-3zM915 152h3v3h-3zM1041 161h3v3h-3zM1062 173h3v3h-3zM873 179h3v3h-3zM864 185h3v3h-3zM1098 194h3v3h-3zM1101 197h6v3h-6zM852 218h3v3h-3zM1137 218h3v3h-3zM1134 221h3v3h-3zM849 224h3v3h-3zM1131 224h6v3h-6zM1056 227h3v3h-3zM1128 227h6v3h-6zM1158 227h3v3h-3zM1122 230h6v3h-6zM1164 230h3v3h-3zM840 233h3v3h-3zM1185 242h3v3h-3zM837 245h3v3h-3zM1041 248h3v3h-3zM1134 248h3v3h-3zM1158 248h6v3h-6zM1149 251h6v3h-6zM1164 251h6v3h-6zM1170 254h3v3h-3zM1206 254h3v3h-3zM1032 257h3v3h-3zM1173 257h3v3h-3zM1212 257h3v3h-3zM1176 263h3v3h-3zM1176 266h3v3h-3zM1176 269h3v3h-3zM1233 269h3v3h-3zM843 272h3v3h-3zM1011 272h3v3h-3zM1176 272h3v3h-3zM840 275h3v3h-3zM1176 275h3v3h-3zM822 278h6v3h-6zM1176 278h3v3h-3zM795 281h21v3h-21zM1173 284h3v3h-3zM1146 287h3v3h-3zM1170 287h3v3h-3zM777 290h3v3h-3zM1149 290h6v3h-6zM1164 290h6v3h-6zM1251 290h3v3h-3zM774 293h3v3h-3zM1158 293h6v3h-6zM1275 293h3v3h-3zM1248 296h3v3h-3zM1275 296h3v3h-3zM1275 299h3v3h-3zM1245 305h3v3h-3zM1257 305h3v3h-3zM1272 305h3v3h-3zM1272 308h3v3h-3zM1242 311h3v3h-3zM1269 314h3v3h-3zM747 317h3v3h-3zM1239 317h3v3h-3zM1269 317h3v3h-3zM672 320h6v3h-6zM744 320h3v3h-3zM1269 320h3v3h-3zM672 323h3v3h-3zM741 323h3v3h-3zM1266 323h3v3h-3zM684 326h3v3h-3zM1107 326h3v3h-3zM1248 326h3v3h-3zM1266 326h3v3h-3zM675 329h3v3h-3zM708 329h6v3h-6zM729 329h3v3h-3zM1266 329h3v3h-3zM687 332h3v3h-3zM1107 332h3v3h-3zM1233 332h3v3h-3zM1263 332h3v3h-3zM1263 335h3v3h-3zM678 338h3v3h-3zM1092 338h3v3h-3zM1230 338h3v3h-3zM1263 338h3v3h-3zM1260 341h6v3h-6zM681 344h3v3h-3zM1110 344h3v3h-3zM1260 344h3v3h-3zM708 347h3v3h-3zM1257 347h6v3h-6zM696 350h3v3h-3zM1257 350h12v3h-12zM684 353h3v3h-3zM711 353h3v3h-3zM1083 353h3v3h-3zM1143 353h3v3h-3zM1167 353h3v3h-3zM1200 353h3v3h-3zM1221 353h3v3h-3zM1257 353h15v3h-15zM699 356h3v3h-3zM1146 356h3v3h-3zM1233 356h3v3h-3zM1254 356h21v3h-21zM687 359h3v3h-3zM714 359h3v3h-3zM1122 359h3v3h-3zM1218 359h3v3h-3zM1254 359h27v3h-27zM687 362h3v3h-3zM1197 362h3v3h-3zM1251 362h33v3h-33zM1251 365h36v3h-36zM690 368h3v3h-3zM720 368h3v3h-3zM1131 368h3v3h-3zM1212 368h3v3h-3zM1248 368h42v3h-42zM1173 371h3v3h-3zM1248 371h48v3h-48zM693 374h3v3h-3zM723 374h3v3h-3zM1155 374h3v3h-3zM1209 374h3v3h-3zM1248 374h51v3h-51zM693 377h3v3h-3zM726 377h3v3h-3zM1044 377h3v3h-3zM1206 377h3v3h-3zM1245 377h57v3h-57zM1059 380h3v3h-3zM1245 380h63v3h-63zM696 383h3v3h-3zM729 383h3v3h-3zM1203 383h3v3h-3zM1242 383h69v3h-69zM696 386h3v3h-3zM717 386h3v3h-3zM732 386h3v3h-3zM1200 386h3v3h-3zM1215 386h3v3h-3zM1242 386h72v3h-72zM696 389h6v3h-6zM1239 389h78v3h-78zM699 392h3v3h-3zM1239 392h84v3h-84zM699 395h3v3h-3zM738 395h3v3h-3zM1194 395h3v3h-3zM1209 395h3v3h-3zM1236 395h90v3h-90zM696 398h9v3h-9zM741 398h3v3h-3zM1191 398h3v3h-3zM1239 398h90v3h-90zM693 401h12v3h-12zM1242 401h93v3h-93zM690 404h18v3h-18zM1245 404h93v3h-93zM687 407h21v3h-21zM732 407h3v3h-3zM747 407h3v3h-3zM1185 407h3v3h-3zM1200 407h3v3h-3zM1248 407h93v3h-93zM684 410h24v3h-24zM750 410h3v3h-3zM1182 410h3v3h-3zM1251 410h96v3h-96zM681 413h27v3h-27zM753 413h3v3h-3zM1179 413h3v3h-3zM1254 413h96v3h-96zM678 416h27v3h-27zM1257 416h96v3h-96zM675 419h30v3h-30zM1260 419h96v3h-96zM672 422h30v3h-30zM744 422h3v3h-3zM1188 422h3v3h-3zM1263 422h99v3h-99zM669 425h30v3h-30zM1263 425h102v3h-102zM666 428h30v3h-30zM1266 428h102v3h-102zM663 431h30v3h-30zM1164 431h3v3h-3zM1269 431h105v3h-105zM660 434h30v3h-30zM771 434h3v3h-3zM1161 434h3v3h-3zM1272 434h105v3h-105zM657 437h30v3h-30zM774 437h3v3h-3zM1023 437h15v3h-15zM1158 437h3v3h-3zM1275 437h105v3h-105zM654 440h30v3h-30zM1008 440h6v3h-6zM1047 440h6v3h-6zM1155 440h3v3h-3zM1278 440h108v3h-108zM651 443h30v3h-30zM1002 443h3v3h-3zM1053 443h6v3h-6zM1281 443h108v3h-108zM648 446h33v3h-33zM996 446h6v3h-6zM1059 446h6v3h-6zM1284 446h108v3h-108zM645 449h33v3h-33zM993 449h6v3h-6zM1062 449h3v3h-3zM1287 449h108v3h-108zM642 452h33v3h-33zM792 452h3v3h-3zM993 452h3v3h-3zM1065 452h3v3h-3zM1140 452h3v3h-3zM1290 452h111v3h-111zM639 455h33v3h-33zM795 455h3v3h-3zM993 455h3v3h-3zM1065 455h3v3h-3zM1137 455h3v3h-3zM1293 455h87v3h-87zM636 458h33v3h-33zM798 458h3v3h-3zM993 458h6v3h-6zM1062 458h3v3h-3zM1134 458h3v3h-3zM1296 458h54v3h-54zM633 461h33v3h-33zM996 461h6v3h-6zM1059 461h6v3h-6zM1299 461h36v3h-36zM630 464h33v3h-33zM786 464h3v3h-3zM807 464h3v3h-3zM1002 464h3v3h-3zM1053 464h6v3h-6zM1125 464h3v3h-3zM1302 464h18v3h-18zM627 467h33v3h-33zM810 467h3v3h-3zM1008 467h6v3h-6zM1047 467h6v3h-6zM1122 467h3v3h-3zM1143 467h3v3h-3zM1296 467h9v3h-9zM627 470h33v3h-33zM1023 470h15v3h-15zM1281 470h9v3h-9zM624 473h33v3h-33zM819 473h3v3h-3zM1113 473h3v3h-3zM1269 473h6v3h-6zM621 476h33v3h-33zM801 476h3v3h-3zM1131 476h3v3h-3zM1254 476h6v3h-6zM618 479h33v3h-33zM828 479h3v3h-3zM1104 479h3v3h-3zM1239 479h6v3h-6zM615 482h33v3h-33zM834 482h3v3h-3zM1098 482h3v3h-3zM1224 482h6v3h-6zM612 485h33v3h-33zM1095 485h3v3h-3zM1119 485h3v3h-3zM1209 485h6v3h-6zM609 488h33v3h-33zM843 488h3v3h-3zM1089 488h3v3h-3zM1197 488h3v3h-3zM606 491h33v3h-33zM849 491h3v3h-3zM1083 491h3v3h-3zM1182 491h3v3h-3zM609 494h30v3h-30zM855 494h3v3h-3zM1077 494h3v3h-3zM1164 494h6v3h-6zM630 497h15v3h-15zM861 497h3v3h-3zM1071 497h3v3h-3zM1149 497h6v3h-6zM660 500h9v3h-9zM870 500h3v3h-3zM1062 500h3v3h-3zM1134 500h6v3h-6zM690 503h12v3h-12zM876 503h3v3h-3zM1056 503h3v3h-3zM1119 503h3v3h-3zM723 506h12v3h-12zM885 506h3v3h-3zM1047 506h3v3h-3zM1083 506h3v3h-3zM1101 506h3v3h-3zM759 509h12v3h-12zM894 509h3v3h-3zM1038 509h3v3h-3zM1077 509h3v3h-3zM1083 509h3v3h-3zM798 512h12v3h-12zM903 512h6v3h-6zM1026 512h6v3h-6zM840 515h6v3h-6zM870 515h3v3h-3zM918 515h6v3h-6zM1011 515h6v3h-6zM936 518h12v3h-12zM987 518h12v3h-12z"/>
<path fill="#25a5bd" d="M966 119h3v3h-3zM972 122h3v3h-3zM942 134h3v3h-3zM999 137h3v3h-3zM933 140h3v3h-3zM924 146h3v3h-3zM1020 149h3v3h-3zM1047 164h3v3h-3zM891 167h3v3h-3zM882 173h3v3h-3zM1068 176h3v3h-3zM1071 185h3v3h-3zM852 200h3v3h-3zM1101 200h6v3h-6zM1065 206h3v3h-3zM1134 215h6v3h-6zM1134 218h3v3h-3zM1143 218h3v3h-3zM1131 221h3v3h-3zM1128 224h3v3h-3zM1122 227h6v3h-6zM843 230h3v3h-3zM1116 230h6v3h-6zM1170 233h3v3h-3zM834 245h3v3h-3zM1191 245h3v3h-3zM843 251h3v3h-3zM1140 251h3v3h-3zM1155 251h9v3h-9zM1146 254h9v3h-9zM1164 254h6v3h-6zM1170 257h3v3h-3zM1173 260h3v3h-3zM1218 260h3v3h-3zM1173 263h3v3h-3zM1173 266h3v3h-3zM1239 272h3v3h-3zM1173 275h3v3h-3zM1245 275h3v3h-3zM816 278h6v3h-6zM1173 278h3v3h-3zM1173 281h3v3h-3zM1254 281h3v3h-3zM783 284h3v3h-3zM1170 284h3v3h-3zM1254 284h3v3h-3zM780 287h3v3h-3zM1149 287h6v3h-6zM1164 287h6v3h-6zM1266 287h3v3h-3zM1155 290h9v3h-9zM1251 293h3v3h-3zM1260 296h3v3h-3zM1248 299h3v3h-3zM1275 302h3v3h-3zM1275 305h3v3h-3zM1245 308h3v3h-3zM1275 308h3v3h-3zM1254 311h3v3h-3zM1272 311h3v3h-3zM750 314h3v3h-3zM1242 314h3v3h-3zM1272 314h3v3h-3zM1272 317h3v3h-3zM678 320h3v3h-3zM1239 320h3v3h-3zM1272 320h3v3h-3zM1116 323h3v3h-3zM1269 323h9v3h-9zM672 326h3v3h-3zM696 326h6v3h-6zM1236 326h3v3h-3zM1269 326h15v3h-15zM714 329h3v3h-3zM726 329h3v3h-3zM1107 329h3v3h-3zM1269 329h18v3h-18zM675 332h3v3h-3zM699 332h3v3h-3zM1245 332h3v3h-3zM1266 332h27v3h-27zM1266 335h30v3h-30zM690 338h3v3h-3zM702 338h3v3h-3zM1128 338h3v3h-3zM1242 338h3v3h-3zM1266 338h36v3h-36zM678 341h3v3h-3zM1266 341h39v3h-39zM693 344h3v3h-3zM705 344h3v3h-3zM1227 344h3v3h-3zM1239 344h3v3h-3zM1263 344h48v3h-48zM681 347h3v3h-3zM1263 347h51v3h-51zM681 350h3v3h-3zM708 350h3v3h-3zM1182 350h6v3h-6zM1224 350h3v3h-3zM1236 350h3v3h-3zM1269 350h51v3h-51zM1272 353h51v3h-51zM684 356h3v3h-3zM711 356h3v3h-3zM1221 356h3v3h-3zM1275 356h54v3h-54zM1281 359h51v3h-51zM714 362h3v3h-3zM1218 362h3v3h-3zM1284 362h54v3h-54zM687 365h3v3h-3zM717 365h3v3h-3zM1215 365h3v3h-3zM1287 365h57v3h-57zM1290 368h57v3h-57zM690 371h3v3h-3zM708 371h3v3h-3zM720 371h3v3h-3zM1140 371h3v3h-3zM1170 371h3v3h-3zM1212 371h3v3h-3zM1224 371h3v3h-3zM1296 371h57v3h-57zM690 374h3v3h-3zM1149 374h3v3h-3zM1299 374h57v3h-57zM690 377h3v3h-3zM1302 377h60v3h-60zM693 380h3v3h-3zM726 380h3v3h-3zM1206 380h3v3h-3zM1308 380h57v3h-57zM693 383h3v3h-3zM1311 383h60v3h-60zM690 386h6v3h-6zM1314 386h60v3h-60zM687 389h9v3h-9zM732 389h3v3h-3zM1200 389h3v3h-3zM1317 389h63v3h-63zM684 392h15v3h-15zM735 392h3v3h-3zM1197 392h3v3h-3zM1323 392h60v3h-60zM681 395h18v3h-18zM1326 395h63v3h-63zM678 398h18v3h-18zM726 398h3v3h-3zM1194 398h3v3h-3zM1206 398h3v3h-3zM1329 398h63v3h-63zM675 401h18v3h-18zM741 401h3v3h-3zM1191 401h3v3h-3zM1335 401h63v3h-63zM672 404h18v3h-18zM744 404h3v3h-3zM1188 404h3v3h-3zM1338 404h63v3h-63zM669 407h18v3h-18zM1341 407h66v3h-66zM666 410h18v3h-18zM735 410h3v3h-3zM1197 410h3v3h-3zM1347 410h63v3h-63zM663 413h18v3h-18zM1182 413h3v3h-3zM1350 413h66v3h-66zM660 416h18v3h-18zM753 416h3v3h-3zM1179 416h3v3h-3zM1353 416h66v3h-66zM657 419h18v3h-18zM756 419h3v3h-3zM1176 419h3v3h-3zM1356 419h69v3h-69zM654 422h18v3h-18zM759 422h3v3h-3zM1173 422h3v3h-3zM1362 422h66v3h-66zM651 425h18v3h-18zM747 425h3v3h-3zM762 425h3v3h-3zM1170 425h3v3h-3zM1185 425h3v3h-3zM1365 425h69v3h-69zM648 428h18v3h-18zM750 428h3v3h-3zM765 428h3v3h-3zM1167 428h3v3h-3zM1368 428h69v3h-69zM645 431h18v3h-18zM768 431h3v3h-3zM1374 431h69v3h-69zM642 434h18v3h-18zM1377 434h72v3h-72zM639 437h18v3h-18zM1380 437h72v3h-72zM636 440h18v3h-18zM777 440h3v3h-3zM1014 440h12v3h-12zM1035 440h12v3h-12zM1386 440h72v3h-72zM633 443h18v3h-18zM780 443h3v3h-3zM1005 443h6v3h-6zM1050 443h3v3h-3zM1152 443h3v3h-3zM1389 443h72v3h-72zM630 446h18v3h-18zM783 446h3v3h-3zM1002 446h3v3h-3zM1056 446h3v3h-3zM1149 446h3v3h-3zM1392 446h75v3h-75zM627 449h18v3h-18zM786 449h3v3h-3zM999 449h3v3h-3zM1059 449h3v3h-3zM1146 449h3v3h-3zM1395 449h72v3h-72zM621 452h21v3h-21zM789 452h3v3h-3zM996 452h3v3h-3zM1059 452h6v3h-6zM1143 452h3v3h-3zM1401 452h33v3h-33zM618 455h21v3h-21zM792 455h3v3h-3zM996 455h3v3h-3zM1059 455h6v3h-6zM1140 455h3v3h-3zM1380 455h15v3h-15zM615 458h21v3h-21zM999 458h3v3h-3zM1059 458h3v3h-3zM1350 458h9v3h-9zM612 461h21v3h-21zM783 461h3v3h-3zM801 461h3v3h-3zM1002 461h3v3h-3zM1056 461h3v3h-3zM1131 461h3v3h-3zM1149 461h3v3h-3zM1335 461h6v3h-6zM609 464h21v3h-21zM804 464h3v3h-3zM1005 464h6v3h-6zM1050 464h3v3h-3zM1128 464h3v3h-3zM1146 464h3v3h-3zM1320 464h6v3h-6zM606 467h21v3h-21zM1014 467h12v3h-12zM1035 467h12v3h-12zM1125 467h3v3h-3zM1305 467h6v3h-6zM603 470h24v3h-24zM813 470h3v3h-3zM1119 470h3v3h-3zM1290 470h6v3h-6zM600 473h24v3h-24zM816 473h3v3h-3zM1116 473h3v3h-3zM1275 473h6v3h-6zM597 476h24v3h-24zM822 476h3v3h-3zM1110 476h3v3h-3zM1260 476h6v3h-6zM594 479h24v3h-24zM825 479h3v3h-3zM1107 479h3v3h-3zM1245 479h6v3h-6zM591 482h24v3h-24zM810 482h3v3h-3zM831 482h3v3h-3zM1101 482h3v3h-3zM1122 482h3v3h-3zM1230 482h6v3h-6zM588 485h24v3h-24zM837 485h3v3h-3zM1215 485h6v3h-6zM585 488h24v3h-24zM819 488h3v3h-3zM840 488h3v3h-3zM1092 488h3v3h-3zM1200 488h6v3h-6zM582 491h24v3h-24zM846 491h3v3h-3zM1086 491h3v3h-3zM1185 491h6v3h-6zM597 494h12v3h-12zM828 494h3v3h-3zM852 494h3v3h-3zM1080 494h3v3h-3zM1104 494h3v3h-3zM1170 494h3v3h-3zM621 497h9v3h-9zM858 497h3v3h-3zM1074 497h3v3h-3zM1155 497h3v3h-3zM651 500h9v3h-9zM864 500h6v3h-6zM1065 500h6v3h-6zM1140 500h3v3h-3zM681 503h9v3h-9zM873 503h3v3h-3zM1059 503h3v3h-3zM1122 503h3v3h-3zM714 506h9v3h-9zM879 506h6v3h-6zM1050 506h6v3h-6zM1104 506h6v3h-6zM750 509h9v3h-9zM888 509h6v3h-6zM1041 509h6v3h-6zM1086 509h6v3h-6zM789 512h9v3h-9zM864 512h3v3h-3zM900 512h3v3h-3zM1032 512h3v3h-3zM831 515h9v3h-9zM909 515h9v3h-9zM1017 515h9v3h-9zM924 518h12v3h-12zM999 518h12v3h-12zM951 521h33v3h-33z"/>
<path fill="#24aab4" d="M960 122h3v3h-3zM978 125h3v3h-3zM951 128h3v3h-3zM1005 140h3v3h-3zM1026 152h3v3h-3zM909 155h3v3h-3zM900 161h3v3h-3zM1053 167h3v3h-3zM1074 179h3v3h-3zM1077 182h3v3h-3zM1083 185h3v3h-3zM858 188h3v3h-3zM1101 194h3v3h-3zM1068 197h3v3h-3zM1107 200h6v3h-6zM1101 203h6v3h-6zM1131 212h3v3h-3zM1131 215h3v3h-3zM1131 218h3v3h-3zM1128 221h3v3h-3zM1149 221h3v3h-3zM1125 224h3v3h-3zM846 227h3v3h-3zM1113 227h9v3h-9zM1113 230h3v3h-3zM1176 236h3v3h-3zM831 245h3v3h-3zM1044 245h3v3h-3zM1128 245h3v3h-3zM1197 248h3v3h-3zM1203 251h3v3h-3zM843 254h3v3h-3zM1155 254h9v3h-9zM1152 257h3v3h-3zM1167 257h3v3h-3zM1170 260h3v3h-3zM1170 263h3v3h-3zM1224 263h3v3h-3zM843 266h3v3h-3zM1020 266h3v3h-3zM843 269h3v3h-3zM1173 269h3v3h-3zM1173 272h3v3h-3zM837 275h3v3h-3zM792 278h24v3h-24zM1170 278h3v3h-3zM1251 278h3v3h-3zM786 281h3v3h-3zM1170 281h3v3h-3zM1146 284h9v3h-9zM1167 284h3v3h-3zM993 287h3v3h-3zM1155 287h9v3h-9zM1254 287h3v3h-3zM1263 287h3v3h-3zM990 290h3v3h-3zM1272 290h3v3h-3zM1251 296h3v3h-3zM1278 296h3v3h-3zM1128 299h3v3h-3zM1278 299h3v3h-3zM984 302h3v3h-3zM1125 302h3v3h-3zM1248 302h3v3h-3zM1257 302h3v3h-3zM1278 302h3v3h-3zM1248 305h3v3h-3zM1278 305h9v3h-9zM756 308h3v3h-3zM1278 308h12v3h-12zM753 311h3v3h-3zM1245 311h3v3h-3zM1275 311h21v3h-21zM1275 314h27v3h-27zM1242 317h3v3h-3zM1251 317h3v3h-3zM1275 317h30v3h-30zM669 320h3v3h-3zM1104 320h3v3h-3zM1275 320h36v3h-36zM684 323h3v3h-3zM1101 323h3v3h-3zM1239 323h3v3h-3zM1278 323h39v3h-39zM735 326h3v3h-3zM1119 326h3v3h-3zM1284 326h39v3h-39zM672 329h3v3h-3zM696 329h3v3h-3zM717 329h9v3h-9zM1236 329h3v3h-3zM1287 329h39v3h-39zM1236 332h3v3h-3zM1293 332h39v3h-39zM675 335h3v3h-3zM699 335h3v3h-3zM1233 335h3v3h-3zM1296 335h42v3h-42zM1233 338h3v3h-3zM1302 338h39v3h-39zM702 341h3v3h-3zM1230 341h3v3h-3zM1305 341h42v3h-42zM678 344h3v3h-3zM1311 344h42v3h-42zM705 347h3v3h-3zM1227 347h3v3h-3zM1314 347h45v3h-45zM1320 350h42v3h-42zM681 353h3v3h-3zM708 353h3v3h-3zM1224 353h3v3h-3zM1323 353h45v3h-45zM1329 356h45v3h-45zM684 359h3v3h-3zM702 359h3v3h-3zM711 359h3v3h-3zM1221 359h3v3h-3zM1332 359h45v3h-45zM684 362h3v3h-3zM1338 362h45v3h-45zM705 365h3v3h-3zM714 365h3v3h-3zM1218 365h3v3h-3zM1227 365h3v3h-3zM1344 365h45v3h-45zM687 368h3v3h-3zM717 368h3v3h-3zM1182 368h3v3h-3zM1215 368h3v3h-3zM1347 368h48v3h-48zM687 371h3v3h-3zM1353 371h45v3h-45zM687 374h3v3h-3zM720 374h3v3h-3zM1029 374h3v3h-3zM1212 374h3v3h-3zM1356 374h48v3h-48zM687 377h3v3h-3zM723 377h3v3h-3zM1209 377h3v3h-3zM1362 377h48v3h-48zM684 380h9v3h-9zM714 380h3v3h-3zM1062 380h3v3h-3zM1218 380h3v3h-3zM1365 380h48v3h-48zM681 383h12v3h-12zM726 383h3v3h-3zM1206 383h3v3h-3zM1371 383h48v3h-48zM678 386h12v3h-12zM729 386h3v3h-3zM1203 386h3v3h-3zM1374 386h51v3h-51zM675 389h12v3h-12zM720 389h3v3h-3zM1212 389h3v3h-3zM1380 389h51v3h-51zM672 392h12v3h-12zM732 392h3v3h-3zM1200 392h3v3h-3zM1383 392h51v3h-51zM666 395h15v3h-15zM735 395h3v3h-3zM1197 395h3v3h-3zM1389 395h51v3h-51zM663 398h15v3h-15zM738 398h3v3h-3zM1392 398h54v3h-54zM660 401h15v3h-15zM729 401h3v3h-3zM1398 401h51v3h-51zM657 404h15v3h-15zM741 404h3v3h-3zM1191 404h3v3h-3zM1401 404h54v3h-54zM654 407h15v3h-15zM744 407h3v3h-3zM1188 407h3v3h-3zM1407 407h54v3h-54zM651 410h15v3h-15zM747 410h3v3h-3zM1185 410h3v3h-3zM1410 410h54v3h-54zM648 413h15v3h-15zM738 413h3v3h-3zM750 413h3v3h-3zM1194 413h3v3h-3zM1416 413h54v3h-54zM645 416h15v3h-15zM1419 416h57v3h-57zM642 419h15v3h-15zM1179 419h3v3h-3zM1425 419h57v3h-57zM639 422h15v3h-15zM756 422h3v3h-3zM1176 422h3v3h-3zM1428 422h57v3h-57zM636 425h15v3h-15zM759 425h3v3h-3zM1173 425h3v3h-3zM1434 425h57v3h-57zM633 428h15v3h-15zM762 428h3v3h-3zM1170 428h3v3h-3zM1182 428h3v3h-3zM1437 428h60v3h-60zM627 431h18v3h-18zM753 431h3v3h-3zM765 431h3v3h-3zM1167 431h3v3h-3zM1179 431h3v3h-3zM1443 431h57v3h-57zM624 434h18v3h-18zM756 434h3v3h-3zM768 434h3v3h-3zM1164 434h3v3h-3zM1176 434h3v3h-3zM1449 434h57v3h-57zM621 437h18v3h-18zM771 437h3v3h-3zM1161 437h3v3h-3zM1452 437h60v3h-60zM618 440h18v3h-18zM774 440h3v3h-3zM1026 440h9v3h-9zM1158 440h3v3h-3zM1458 440h60v3h-60zM615 443h18v3h-18zM777 443h3v3h-3zM1011 443h6v3h-6zM1044 443h6v3h-6zM1155 443h3v3h-3zM1461 443h60v3h-60zM612 446h18v3h-18zM780 446h3v3h-3zM1005 446h3v3h-3zM1050 446h6v3h-6zM1152 446h3v3h-3zM1467 446h60v3h-60zM609 449h18v3h-18zM783 449h3v3h-3zM1002 449h3v3h-3zM1056 449h3v3h-3zM1149 449h3v3h-3zM1467 449h27v3h-27zM606 452h15v3h-15zM774 452h3v3h-3zM786 452h3v3h-3zM999 452h6v3h-6zM1056 452h3v3h-3zM1146 452h3v3h-3zM1434 452h15v3h-15zM603 455h15v3h-15zM777 455h3v3h-3zM999 455h6v3h-6zM1056 455h3v3h-3zM1155 455h3v3h-3zM1395 455h12v3h-12zM600 458h15v3h-15zM780 458h3v3h-3zM795 458h3v3h-3zM1002 458h3v3h-3zM1056 458h3v3h-3zM1137 458h3v3h-3zM1152 458h3v3h-3zM1359 458h12v3h-12zM597 461h15v3h-15zM798 461h3v3h-3zM1005 461h3v3h-3zM1050 461h6v3h-6zM1134 461h3v3h-3zM1341 461h6v3h-6zM591 464h18v3h-18zM801 464h3v3h-3zM1011 464h6v3h-6zM1044 464h6v3h-6zM1131 464h3v3h-3zM1326 464h3v3h-3zM588 467h18v3h-18zM807 467h3v3h-3zM1026 467h9v3h-9zM1311 467h3v3h-3zM585 470h18v3h-18zM810 470h3v3h-3zM1122 470h3v3h-3zM1296 470h3v3h-3zM582 473h18v3h-18zM798 473h3v3h-3zM813 473h3v3h-3zM1119 473h3v3h-3zM1134 473h3v3h-3zM1281 473h3v3h-3zM579 476h18v3h-18zM819 476h3v3h-3zM1113 476h3v3h-3zM1266 476h3v3h-3zM576 479h18v3h-18zM822 479h3v3h-3zM1110 479h3v3h-3zM1251 479h3v3h-3zM573 482h18v3h-18zM828 482h3v3h-3zM1104 482h3v3h-3zM1236 482h3v3h-3zM570 485h18v3h-18zM834 485h3v3h-3zM1098 485h6v3h-6zM1221 485h3v3h-3zM567 488h18v3h-18zM837 488h3v3h-3zM1095 488h3v3h-3zM1113 488h3v3h-3zM1206 488h3v3h-3zM567 491h15v3h-15zM843 491h3v3h-3zM1089 491h3v3h-3zM1191 491h3v3h-3zM585 494h12v3h-12zM849 494h3v3h-3zM1083 494h3v3h-3zM1173 494h6v3h-6zM612 497h9v3h-9zM834 497h3v3h-3zM855 497h3v3h-3zM1077 497h3v3h-3zM1098 497h3v3h-3zM1158 497h3v3h-3zM642 500h9v3h-9zM840 500h3v3h-3zM861 500h3v3h-3zM1071 500h3v3h-3zM1092 500h3v3h-3zM1143 500h3v3h-3zM672 503h9v3h-9zM846 503h3v3h-3zM867 503h6v3h-6zM1062 503h6v3h-6zM1086 503h3v3h-3zM1125 503h3v3h-3zM705 506h9v3h-9zM852 506h3v3h-3zM876 506h3v3h-3zM1056 506h3v3h-3zM1080 506h3v3h-3zM1110 506h3v3h-3zM741 509h9v3h-9zM858 509h3v3h-3zM885 509h3v3h-3zM1047 509h3v3h-3zM1074 509h3v3h-3zM1092 509h3v3h-3zM780 512h9v3h-9zM894 512h6v3h-6zM1035 512h6v3h-6zM1071 512h3v3h-3zM822 515h9v3h-9zM873 515h3v3h-3zM903 515h6v3h-6zM1026 515h6v3h-6zM870 518h12v3h-12zM915 518h9v3h-9zM1011 518h9v3h-9zM933 521h18v3h-18zM984 521h12v3h-12z"/>
<path fill="#22aeab" d="M969 119h3v3h-3zM984 128h3v3h-3zM990 131h3v3h-3zM936 137h3v3h-3zM927 143h3v3h-3zM1011 143h3v3h-3zM918 149h3v3h-3zM1032 155h3v3h-3zM1038 158h3v3h-3zM885 170h3v3h-3zM1059 170h3v3h-3zM876 176h3v3h-3zM867 182h3v3h-3zM1080 182h3v3h-3zM1086 185h3v3h-3zM1089 188h3v3h-3zM849 194h3v3h-3zM1098 197h3v3h-3zM1107 197h3v3h-3zM1107 203h9v3h-9zM1104 206h3v3h-3zM1128 212h3v3h-3zM1128 215h3v3h-3zM1128 218h3v3h-3zM1125 221h3v3h-3zM1110 224h15v3h-15zM1155 224h3v3h-3zM1161 227h3v3h-3zM1182 239h3v3h-3zM828 245h3v3h-3zM840 248h3v3h-3zM1209 254h3v3h-3zM843 257h3v3h-3zM1155 257h12v3h-12zM843 260h3v3h-3zM1152 260h3v3h-3zM1164 260h6v3h-6zM843 263h3v3h-3zM1167 263h3v3h-3zM1170 266h3v3h-3zM1230 266h3v3h-3zM1170 269h3v3h-3zM1236 269h3v3h-3zM1170 272h3v3h-3zM1170 275h3v3h-3zM789 278h3v3h-3zM1167 278h3v3h-3zM1152 281h3v3h-3zM1164 281h6v3h-6zM1155 284h12v3h-12zM1257 284h6v3h-6zM1257 287h6v3h-6zM1254 290h9v3h-9zM1254 293h9v3h-9zM1278 293h3v3h-3zM1254 296h6v3h-6zM1281 296h3v3h-3zM1251 299h9v3h-9zM1281 299h9v3h-9zM762 302h3v3h-3zM1251 302h6v3h-6zM1281 302h15v3h-15zM759 305h3v3h-3zM1251 305h6v3h-6zM1287 305h15v3h-15zM1248 308h9v3h-9zM1290 308h15v3h-15zM1248 311h6v3h-6zM1296 311h15v3h-15zM1245 314h9v3h-9zM1302 314h15v3h-15zM1245 317h6v3h-6zM1305 317h18v3h-18zM681 320h3v3h-3zM1242 320h9v3h-9zM1311 320h18v3h-18zM669 323h3v3h-3zM687 323h3v3h-3zM987 323h3v3h-3zM1242 323h9v3h-9zM1317 323h15v3h-15zM687 326h9v3h-9zM702 326h3v3h-3zM987 326h3v3h-3zM1239 326h9v3h-9zM1323 326h15v3h-15zM687 329h9v3h-9zM1239 329h9v3h-9zM1326 329h18v3h-18zM672 332h3v3h-3zM690 332h9v3h-9zM1239 332h6v3h-6zM1332 332h18v3h-18zM690 335h9v3h-9zM1236 335h9v3h-9zM1338 335h15v3h-15zM675 338h3v3h-3zM693 338h9v3h-9zM1236 338h6v3h-6zM1341 338h18v3h-18zM693 341h9v3h-9zM1233 341h9v3h-9zM1347 341h18v3h-18zM696 344h9v3h-9zM1230 344h9v3h-9zM1353 344h18v3h-18zM678 347h3v3h-3zM696 347h9v3h-9zM1230 347h9v3h-9zM1359 347h18v3h-18zM699 350h9v3h-9zM1197 350h3v3h-3zM1227 350h9v3h-9zM1362 350h18v3h-18zM699 353h9v3h-9zM1227 353h9v3h-9zM1368 353h18v3h-18zM681 356h3v3h-3zM702 356h9v3h-9zM1158 356h3v3h-3zM1224 356h9v3h-9zM1374 356h18v3h-18zM681 359h3v3h-3zM705 359h6v3h-6zM1224 359h9v3h-9zM1377 359h21v3h-21zM705 362h9v3h-9zM1077 362h3v3h-3zM1221 362h9v3h-9zM1383 362h21v3h-21zM684 365h3v3h-3zM708 365h6v3h-6zM1074 365h3v3h-3zM1188 365h3v3h-3zM1221 365h6v3h-6zM1389 365h18v3h-18zM684 368h3v3h-3zM708 368h9v3h-9zM1218 368h9v3h-9zM1395 368h18v3h-18zM681 371h6v3h-6zM711 371h9v3h-9zM1215 371h9v3h-9zM1398 371h21v3h-21zM678 374h9v3h-9zM711 374h9v3h-9zM1032 374h3v3h-3zM1215 374h9v3h-9zM1404 374h21v3h-21zM675 377h12v3h-12zM714 377h9v3h-9zM1047 377h3v3h-3zM1065 377h3v3h-3zM1212 377h9v3h-9zM1410 377h18v3h-18zM672 380h12v3h-12zM717 380h9v3h-9zM1209 380h9v3h-9zM1413 380h21v3h-21zM669 383h12v3h-12zM717 383h9v3h-9zM1209 383h9v3h-9zM1419 383h21v3h-21zM666 386h12v3h-12zM720 386h9v3h-9zM1206 386h9v3h-9zM1425 386h21v3h-21zM660 389h15v3h-15zM723 389h9v3h-9zM1203 389h9v3h-9zM1431 389h21v3h-21zM657 392h15v3h-15zM723 392h9v3h-9zM1203 392h9v3h-9zM1434 392h21v3h-21zM654 395h12v3h-12zM726 395h9v3h-9zM1200 395h9v3h-9zM1440 395h21v3h-21zM651 398h12v3h-12zM729 398h9v3h-9zM1197 398h9v3h-9zM1446 398h21v3h-21zM648 401h12v3h-12zM732 401h9v3h-9zM1194 401h12v3h-12zM1449 401h24v3h-24zM645 404h12v3h-12zM732 404h9v3h-9zM1194 404h9v3h-9zM1455 404h21v3h-21zM642 407h12v3h-12zM735 407h9v3h-9zM1191 407h9v3h-9zM1461 407h21v3h-21zM636 410h15v3h-15zM738 410h9v3h-9zM1188 410h9v3h-9zM1464 410h24v3h-24zM633 413h15v3h-15zM741 413h9v3h-9zM1185 413h9v3h-9zM1470 413h24v3h-24zM630 416h15v3h-15zM741 416h12v3h-12zM1182 416h12v3h-12zM1476 416h24v3h-24zM627 419h15v3h-15zM744 419h12v3h-12zM1182 419h9v3h-9zM1482 419h21v3h-21zM624 422h15v3h-15zM747 422h9v3h-9zM1179 422h9v3h-9zM1485 422h24v3h-24zM621 425h15v3h-15zM750 425h9v3h-9zM1176 425h9v3h-9zM1491 425h24v3h-24zM618 428h15v3h-15zM753 428h9v3h-9zM1173 428h9v3h-9zM1497 428h24v3h-24zM615 431h12v3h-12zM756 431h9v3h-9zM1170 431h9v3h-9zM1500 431h27v3h-27zM609 434h15v3h-15zM759 434h9v3h-9zM1167 434h9v3h-9zM1506 434h24v3h-24zM606 437h15v3h-15zM759 437h12v3h-12zM1164 437h12v3h-12zM1512 437h24v3h-24zM603 440h15v3h-15zM762 440h12v3h-12zM1161 440h12v3h-12zM1518 440h24v3h-24zM600 443h15v3h-15zM765 443h12v3h-12zM1017 443h27v3h-27zM1158 443h12v3h-12zM1521 443h27v3h-27zM597 446h15v3h-15zM768 446h12v3h-12zM1008 446h6v3h-6zM1047 446h3v3h-3zM1155 446h12v3h-12zM1527 446h24v3h-24zM594 449h15v3h-15zM771 449h12v3h-12zM1005 449h3v3h-3zM1050 449h6v3h-6zM1152 449h12v3h-12zM1494 449h18v3h-18zM591 452h15v3h-15zM777 452h9v3h-9zM1005 452h3v3h-3zM1053 452h3v3h-3zM1149 452h12v3h-12zM1449 452h15v3h-15zM585 455h18v3h-18zM780 455h12v3h-12zM1005 455h3v3h-3zM1053 455h3v3h-3zM1143 455h12v3h-12zM1407 455h12v3h-12zM582 458h18v3h-18zM783 458h12v3h-12zM1005 458h3v3h-3zM1050 458h6v3h-6zM1140 458h12v3h-12zM1371 458h9v3h-9zM579 461h18v3h-18zM786 461h12v3h-12zM1008 461h6v3h-6zM1047 461h3v3h-3zM1137 461h12v3h-12zM1347 461h3v3h-3zM576 464h15v3h-15zM789 464h12v3h-12zM1017 464h27v3h-27zM1134 464h12v3h-12zM1329 464h6v3h-6zM573 467h15v3h-15zM792 467h15v3h-15zM1128 467h15v3h-15zM1314 467h6v3h-6zM570 470h15v3h-15zM795 470h15v3h-15zM1125 470h15v3h-15zM1299 470h6v3h-6zM567 473h15v3h-15zM801 473h12v3h-12zM1122 473h12v3h-12zM1284 473h3v3h-3zM564 476h15v3h-15zM804 476h15v3h-15zM1116 476h15v3h-15zM1269 476h3v3h-3zM558 479h18v3h-18zM807 479h15v3h-15zM1113 479h15v3h-15zM1254 479h3v3h-3zM555 482h18v3h-18zM813 482h15v3h-15zM1107 482h15v3h-15zM1239 482h3v3h-3zM552 485h18v3h-18zM816 485h18v3h-18zM1104 485h15v3h-15zM1224 485h3v3h-3zM549 488h18v3h-18zM822 488h15v3h-15zM1098 488h15v3h-15zM1209 488h3v3h-3zM555 491h12v3h-12zM825 491h18v3h-18zM1092 491h18v3h-18zM1194 491h3v3h-3zM579 494h6v3h-6zM831 494h18v3h-18zM1086 494h18v3h-18zM1179 494h3v3h-3zM606 497h6v3h-6zM837 497h18v3h-18zM1080 497h18v3h-18zM1161 497h6v3h-6zM633 500h9v3h-9zM843 500h18v3h-18zM1074 500h18v3h-18zM1146 500h3v3h-3zM666 503h6v3h-6zM849 503h18v3h-18zM1068 503h18v3h-18zM1128 503h6v3h-6zM699 506h6v3h-6zM855 506h21v3h-21zM1059 506h21v3h-21zM1113 506h3v3h-3zM735 509h6v3h-6zM861 509h24v3h-24zM1050 509h24v3h-24zM1095 509h3v3h-3zM771 512h9v3h-9zM867 512h27v3h-27zM1041 512h30v3h-30zM1074 512h3v3h-3zM816 515h6v3h-6zM876 515h27v3h-27zM1032 515h18v3h-18zM861 518h9v3h-9zM882 518h33v3h-33zM1020 518h9v3h-9zM921 521h12v3h-12zM996 521h6v3h-6z"/>
<path fill="#21b2a2" d="M906 116h123v3h-123zM906 119h60v3h-60zM972 119h57v3h-57zM906 122h54v3h-54zM975 122h54v3h-54zM906 125h51v3h-51zM981 125h48v3h-48zM906 128h45v3h-45zM987 128h42v3h-42zM906 131h42v3h-42zM993 131h36v3h-36zM906 134h36v3h-36zM996 134h33v3h-33zM909 137h27v3h-27zM1002 137h24v3h-24zM909 140h24v3h-24zM1008 140h18v3h-18zM909 143h18v3h-18zM1014 143h12v3h-12zM909 146h15v3h-15zM1017 146h9v3h-9zM912 149h6v3h-6zM1023 149h3v3h-3zM912 152h3v3h-3zM1029 152h3v3h-3zM903 158h3v3h-3zM1044 161h3v3h-3zM894 164h3v3h-3zM1050 164h3v3h-3zM1065 173h3v3h-3zM1071 176h3v3h-3zM870 179h3v3h-3zM861 185h3v3h-3zM1092 188h3v3h-3zM852 191h3v3h-3zM1095 191h3v3h-3zM1113 200h3v3h-3zM852 203h3v3h-3zM1116 203h3v3h-3zM1107 206h6v3h-6zM1116 206h9v3h-9zM1104 209h3v3h-3zM1122 209h9v3h-9zM1125 212h3v3h-3zM1134 212h3v3h-3zM1125 215h3v3h-3zM1140 215h3v3h-3zM1122 218h6v3h-6zM1059 221h3v3h-3zM1107 221h6v3h-6zM1116 221h9v3h-9zM1107 224h3v3h-3zM1110 227h3v3h-3zM1167 230h3v3h-3zM1188 242h3v3h-3zM1215 257h3v3h-3zM1155 260h9v3h-9zM1152 263h3v3h-3zM1164 263h3v3h-3zM1167 266h3v3h-3zM1167 269h3v3h-3zM840 272h3v3h-3zM1167 272h3v3h-3zM1242 272h3v3h-3zM831 275h6v3h-6zM1167 275h3v3h-3zM1164 278h3v3h-3zM1149 281h3v3h-3zM1155 281h9v3h-9zM1257 281h3v3h-3zM1263 284h3v3h-3zM1284 296h3v3h-3zM765 299h3v3h-3zM1290 299h3v3h-3zM1305 308h3v3h-3zM1311 311h3v3h-3zM666 317h6v3h-6zM1107 317h3v3h-3zM987 320h3v3h-3zM690 323h3v3h-3zM738 323h3v3h-3zM1332 323h3v3h-3zM669 326h3v3h-3zM1338 326h3v3h-3zM1095 332h3v3h-3zM672 335h3v3h-3zM1125 335h3v3h-3zM1353 335h3v3h-3zM1359 338h3v3h-3zM675 341h3v3h-3zM1110 341h3v3h-3zM1365 341h3v3h-3zM675 344h3v3h-3zM1086 347h3v3h-3zM1113 347h3v3h-3zM678 350h3v3h-3zM1188 350h6v3h-6zM1380 350h3v3h-3zM678 353h3v3h-3zM1170 353h3v3h-3zM1386 353h3v3h-3zM678 356h3v3h-3zM1149 359h3v3h-3zM681 362h3v3h-3zM1125 362h3v3h-3zM1194 362h3v3h-3zM678 365h6v3h-6zM1128 365h3v3h-3zM1407 365h3v3h-3zM675 368h9v3h-9zM1134 368h3v3h-3zM1413 368h3v3h-3zM669 371h12v3h-12zM1167 371h3v3h-3zM666 374h12v3h-12zM1152 374h3v3h-3zM663 377h12v3h-12zM1428 377h3v3h-3zM660 380h12v3h-12zM1434 380h3v3h-3zM657 383h12v3h-12zM1440 383h3v3h-3zM654 386h12v3h-12zM648 389h12v3h-12zM645 392h12v3h-12zM1455 392h3v3h-3zM642 395h12v3h-12zM1461 395h3v3h-3zM639 398h12v3h-12zM636 401h12v3h-12zM630 404h15v3h-15zM1476 404h3v3h-3zM627 407h15v3h-15zM1482 407h3v3h-3zM624 410h12v3h-12zM1488 410h3v3h-3zM621 413h12v3h-12zM618 416h12v3h-12zM615 419h12v3h-12zM1503 419h3v3h-3zM609 422h15v3h-15zM1509 422h3v3h-3zM606 425h15v3h-15zM1515 425h3v3h-3zM603 428h15v3h-15zM600 431h15v3h-15zM597 434h12v3h-12zM1530 434h3v3h-3zM594 437h12v3h-12zM1536 437h3v3h-3zM588 440h15v3h-15zM585 443h15v3h-15zM582 446h15v3h-15zM1014 446h6v3h-6zM1041 446h6v3h-6zM1551 446h3v3h-3zM579 449h15v3h-15zM1008 449h6v3h-6zM1047 449h3v3h-3zM1512 449h15v3h-15zM576 452h15v3h-15zM1008 452h3v3h-3zM1050 452h3v3h-3zM1464 452h12v3h-12zM570 455h15v3h-15zM1008 455h3v3h-3zM1050 455h3v3h-3zM1419 455h12v3h-12zM567 458h15v3h-15zM1008 458h6v3h-6zM1047 458h3v3h-3zM1380 458h12v3h-12zM564 461h15v3h-15zM1014 461h6v3h-6zM1041 461h6v3h-6zM1350 461h6v3h-6zM561 464h15v3h-15zM1335 464h6v3h-6zM558 467h15v3h-15zM1320 467h3v3h-3zM555 470h15v3h-15zM1305 470h3v3h-3zM549 473h18v3h-18zM1287 473h6v3h-6zM546 476h18v3h-18zM1272 476h6v3h-6zM543 479h15v3h-15zM1257 479h6v3h-6zM540 482h15v3h-15zM1242 482h6v3h-6zM537 485h15v3h-15zM1227 485h3v3h-3zM531 488h18v3h-18zM1212 488h3v3h-3zM543 491h12v3h-12zM1197 491h3v3h-3zM570 494h9v3h-9zM1182 494h3v3h-3zM597 497h9v3h-9zM1167 497h3v3h-3zM624 500h9v3h-9zM1149 500h3v3h-3zM657 503h9v3h-9zM1134 503h3v3h-3zM690 506h9v3h-9zM1116 506h3v3h-3zM726 509h9v3h-9zM1098 509h3v3h-3zM765 512h6v3h-6zM1077 512h6v3h-6zM807 515h9v3h-9zM1050 515h9v3h-9zM852 518h9v3h-9zM1029 518h6v3h-6zM906 521h15v3h-15zM1002 521h6v3h-6zM960 524h12v3h-12z"/>
<path fill="#1fb798" d="M837 116h69v3h-69zM1029 116h87v3h-87zM837 119h69v3h-69zM1029 119h87v3h-87zM837 122h69v3h-69zM1029 122h87v3h-87zM837 125h69v3h-69zM1029 125h87v3h-87zM837 128h69v3h-69zM1029 128h87v3h-87zM837 131h69v3h-69zM1029 131h87v3h-87zM837 134h69v3h-69zM1029 134h87v3h-87zM837 137h72v3h-72zM1026 137h90v3h-90zM837 140h72v3h-72zM1026 140h90v3h-90zM837 143h72v3h-72zM1026 143h90v3h-90zM837 146h72v3h-72zM1026 146h90v3h-90zM837 149h75v3h-75zM1026 149h90v3h-90zM840 152h72v3h-72zM1032 152h84v3h-84zM840 155h69v3h-69zM1035 155h78v3h-78zM840 158h63v3h-63zM1041 158h72v3h-72zM840 161h60v3h-60zM1047 161h66v3h-66zM840 164h54v3h-54zM1053 164h60v3h-60zM840 167h51v3h-51zM1056 167h57v3h-57zM843 170h42v3h-42zM1062 170h51v3h-51zM843 173h39v3h-39zM1068 173h42v3h-42zM843 176h33v3h-33zM1074 176h36v3h-36zM846 179h24v3h-24zM1077 179h33v3h-33zM846 182h21v3h-21zM1083 182h27v3h-27zM846 185h15v3h-15zM1089 185h18v3h-18zM849 188h9v3h-9zM1095 188h12v3h-12zM849 191h3v3h-3zM1098 191h9v3h-9zM1104 194h3v3h-3zM849 197h3v3h-3zM1110 197h3v3h-3zM1119 203h3v3h-3zM1101 206h3v3h-3zM1113 206h3v3h-3zM1125 206h3v3h-3zM1107 209h15v3h-15zM1131 209h3v3h-3zM1104 212h6v3h-6zM1119 212h6v3h-6zM1062 215h3v3h-3zM1104 215h6v3h-6zM1119 215h6v3h-6zM1107 218h15v3h-15zM1146 218h3v3h-3zM1113 221h3v3h-3zM1152 221h3v3h-3zM1173 233h3v3h-3zM1179 236h3v3h-3zM828 242h3v3h-3zM1194 245h3v3h-3zM1200 248h3v3h-3zM1149 257h3v3h-3zM1221 260h3v3h-3zM1155 263h9v3h-9zM1227 263h3v3h-3zM1155 266h3v3h-3zM1161 266h6v3h-6zM1164 269h3v3h-3zM1164 272h3v3h-3zM792 275h39v3h-39zM1161 275h6v3h-6zM1248 275h3v3h-3zM1152 278h12v3h-12zM1269 287h3v3h-3zM1275 290h3v3h-3zM771 293h3v3h-3zM768 296h3v3h-3zM1296 302h3v3h-3zM1317 314h3v3h-3zM672 317h3v3h-3zM744 317h3v3h-3zM1323 317h3v3h-3zM666 320h3v3h-3zM741 320h3v3h-3zM693 323h3v3h-3zM705 326h3v3h-3zM732 326h3v3h-3zM1110 326h3v3h-3zM669 329h3v3h-3zM1344 329h3v3h-3zM1350 332h3v3h-3zM672 338h3v3h-3zM1110 338h3v3h-3zM990 341h3v3h-3zM993 344h3v3h-3zM1371 344h3v3h-3zM675 347h3v3h-3zM996 347h3v3h-3zM675 350h3v3h-3zM999 350h3v3h-3zM1002 353h3v3h-3zM1173 353h3v3h-3zM675 356h3v3h-3zM1005 356h3v3h-3zM1161 356h3v3h-3zM1392 356h3v3h-3zM672 359h9v3h-9zM1008 359h3v3h-3zM1398 359h3v3h-3zM669 362h12v3h-12zM1011 362h3v3h-3zM666 365h12v3h-12zM1014 365h3v3h-3zM663 368h12v3h-12zM1017 368h3v3h-3zM1071 368h3v3h-3zM660 371h9v3h-9zM1020 371h3v3h-3zM1143 371h3v3h-3zM1419 371h3v3h-3zM654 374h12v3h-12zM1425 374h3v3h-3zM651 377h12v3h-12zM1050 377h3v3h-3zM648 380h12v3h-12zM645 383h12v3h-12zM639 386h15v3h-15zM1446 386h3v3h-3zM636 389h12v3h-12zM633 392h12v3h-12zM630 395h12v3h-12zM627 398h12v3h-12zM1467 398h3v3h-3zM621 401h15v3h-15zM1473 401h3v3h-3zM618 404h12v3h-12zM615 407h12v3h-12zM612 410h12v3h-12zM606 413h15v3h-15zM1494 413h3v3h-3zM603 416h15v3h-15zM1500 416h3v3h-3zM600 419h15v3h-15zM597 422h12v3h-12zM594 425h12v3h-12zM588 428h15v3h-15zM1521 428h3v3h-3zM585 431h15v3h-15zM582 434h15v3h-15zM579 437h15v3h-15zM573 440h15v3h-15zM1542 440h3v3h-3zM570 443h15v3h-15zM1548 443h3v3h-3zM567 446h15v3h-15zM1020 446h21v3h-21zM564 449h15v3h-15zM1014 449h6v3h-6zM1041 449h6v3h-6zM1527 449h18v3h-18zM561 452h15v3h-15zM1011 452h3v3h-3zM1044 452h6v3h-6zM1476 452h15v3h-15zM555 455h15v3h-15zM1011 455h3v3h-3zM1044 455h6v3h-6zM1431 455h15v3h-15zM552 458h15v3h-15zM1014 458h6v3h-6zM1041 458h6v3h-6zM1392 458h12v3h-12zM549 461h15v3h-15zM1020 461h21v3h-21zM1356 461h12v3h-12zM546 464h15v3h-15zM1341 464h6v3h-6zM540 467h18v3h-18zM1323 467h6v3h-6zM537 470h18v3h-18zM1308 470h6v3h-6zM534 473h15v3h-15zM1293 473h6v3h-6zM531 476h15v3h-15zM1278 476h3v3h-3zM525 479h18v3h-18zM1263 479h3v3h-3zM522 482h18v3h-18zM1248 482h3v3h-3zM519 485h18v3h-18zM1230 485h6v3h-6zM516 488h15v3h-15zM1215 488h6v3h-6zM534 491h9v3h-9zM1200 491h3v3h-3zM561 494h9v3h-9zM1185 494h3v3h-3zM588 497h9v3h-9zM1170 497h3v3h-3zM615 500h9v3h-9zM1152 500h6v3h-6zM648 503h9v3h-9zM1137 503h3v3h-3zM681 506h9v3h-9zM1119 506h3v3h-3zM717 509h9v3h-9zM1101 509h3v3h-3zM756 512h9v3h-9zM1083 512h3v3h-3zM798 515h9v3h-9zM1059 515h6v3h-6zM843 518h9v3h-9zM1035 518h6v3h-6zM894 521h12v3h-12zM1008 521h6v3h-6zM948 524h12v3h-12zM972 524h6v3h-6z"/>
<path fill="#1dbd8c" d="M834 116h3v3h-3zM1116 116h90v3h-90zM834 119h3v3h-3zM1116 119h90v3h-90zM834 122h3v3h-3zM1116 122h90v3h-90zM834 125h3v3h-3zM1116 125h90v3h-90zM834 128h3v3h-3zM1116 128h90v3h-90zM834 131h3v3h-3zM1116 131h90v3h-90zM1116 134h90v3h-90zM1116 137h90v3h-90zM1116 140h90v3h-90zM1116 143h87v3h-87zM1116 146h87v3h-87zM1116 149h87v3h-87zM837 152h3v3h-3zM1116 152h87v3h-87zM837 155h3v3h-3zM1113 155h90v3h-90zM1113 158h90v3h-90zM1113 161h90v3h-90zM1113 164h90v3h-90zM1113 167h90v3h-90zM840 170h3v3h-3zM1113 170h90v3h-90zM1110 173h90v3h-90zM1110 176h90v3h-90zM843 179h3v3h-3zM1110 179h90v3h-90zM1110 182h90v3h-90zM1107 185h93v3h-93zM846 188h3v3h-3zM1071 188h3v3h-3zM1107 188h93v3h-93zM1107 191h90v3h-90zM1107 194h90v3h-90zM1113 197h84v3h-84zM1116 200h81v3h-81zM1122 203h75v3h-75zM1128 206h66v3h-66zM1134 209h60v3h-60zM1110 212h9v3h-9zM1137 212h57v3h-57zM852 215h3v3h-3zM1110 215h9v3h-9zM1143 215h51v3h-51zM1149 218h42v3h-42zM1155 221h36v3h-36zM1158 224h33v3h-33zM1164 227h24v3h-24zM1170 230h18v3h-18zM1176 233h12v3h-12zM1182 236h6v3h-6zM831 239h3v3h-3zM1185 239h3v3h-3zM1191 242h3v3h-3zM825 245h3v3h-3zM837 248h3v3h-3zM840 251h3v3h-3zM1206 251h3v3h-3zM1212 254h3v3h-3zM1158 266h3v3h-3zM1233 266h3v3h-3zM1155 269h9v3h-9zM1239 269h3v3h-3zM1155 272h9v3h-9zM1008 275h3v3h-3zM1155 275h6v3h-6zM1254 278h3v3h-3zM1260 281h3v3h-3zM774 290h3v3h-3zM1281 293h3v3h-3zM1287 296h3v3h-3zM984 299h3v3h-3zM1302 305h3v3h-3zM1308 308h3v3h-3zM747 314h3v3h-3zM663 317h3v3h-3zM684 320h3v3h-3zM1329 320h3v3h-3zM666 323h3v3h-3zM1335 323h3v3h-3zM1098 326h3v3h-3zM669 332h3v3h-3zM1356 335h3v3h-3zM672 341h3v3h-3zM672 344h3v3h-3zM672 347h3v3h-3zM1377 347h3v3h-3zM672 350h3v3h-3zM1383 350h3v3h-3zM669 353h9v3h-9zM666 356h9v3h-9zM1200 356h3v3h-3zM663 359h9v3h-9zM1200 359h3v3h-3zM657 362h12v3h-12zM1404 362h3v3h-3zM654 365h12v3h-12zM1410 365h3v3h-3zM651 368h12v3h-12zM1179 368h3v3h-3zM645 371h15v3h-15zM1164 371h3v3h-3zM642 374h12v3h-12zM639 377h12v3h-12zM1431 377h3v3h-3zM636 380h12v3h-12zM630 383h15v3h-15zM627 386h12v3h-12zM624 389h12v3h-12zM1452 389h3v3h-3zM621 392h12v3h-12zM1458 392h3v3h-3zM615 395h15v3h-15zM612 398h15v3h-15zM609 401h12v3h-12zM603 404h15v3h-15zM1479 404h3v3h-3zM600 407h15v3h-15zM1485 407h3v3h-3zM597 410h15v3h-15zM594 413h12v3h-12zM588 416h15v3h-15zM585 419h15v3h-15zM1506 419h3v3h-3zM582 422h15v3h-15zM579 425h15v3h-15zM573 428h15v3h-15zM570 431h15v3h-15zM1527 431h3v3h-3zM567 434h15v3h-15zM1533 434h3v3h-3zM561 437h18v3h-18zM558 440h15v3h-15zM555 443h15v3h-15zM552 446h15v3h-15zM1554 446h3v3h-3zM546 449h18v3h-18zM1020 449h21v3h-21zM1545 449h15v3h-15zM543 452h18v3h-18zM1014 452h6v3h-6zM1038 452h6v3h-6zM1491 452h18v3h-18zM540 455h15v3h-15zM1014 455h6v3h-6zM1038 455h6v3h-6zM1446 455h15v3h-15zM537 458h15v3h-15zM1020 458h21v3h-21zM1404 458h12v3h-12zM531 461h18v3h-18zM1368 461h12v3h-12zM528 464h18v3h-18zM1347 464h3v3h-3zM525 467h15v3h-15zM1329 467h6v3h-6zM519 470h18v3h-18zM1314 470h6v3h-6zM516 473h18v3h-18zM1299 473h3v3h-3zM513 476h18v3h-18zM1281 476h6v3h-6zM510 479h15v3h-15zM1266 479h6v3h-6zM504 482h18v3h-18zM1251 482h3v3h-3zM501 485h18v3h-18zM1236 485h3v3h-3zM504 488h12v3h-12zM1221 488h3v3h-3zM525 491h9v3h-9zM1203 491h6v3h-6zM549 494h12v3h-12zM1188 494h6v3h-6zM576 497h12v3h-12zM1173 497h3v3h-3zM606 500h9v3h-9zM1158 500h3v3h-3zM636 503h12v3h-12zM1140 503h3v3h-3zM672 506h9v3h-9zM1122 506h3v3h-3zM708 509h9v3h-9zM1104 509h3v3h-3zM747 512h9v3h-9zM1086 512h3v3h-3zM789 515h9v3h-9zM1065 515h3v3h-3zM834 518h9v3h-9zM1041 518h3v3h-3zM885 521h9v3h-9zM1014 521h6v3h-6zM939 524h9v3h-9zM978 524h6v3h-6z"/>
<path fill="#1bc280" d="M1206 116h87v3h-87zM1206 119h87v3h-87zM1206 122h87v3h-87zM1206 125h87v3h-87zM1206 128h87v3h-87zM1206 131h87v3h-87zM834 134h3v3h-3zM1206 134h87v3h-87zM834 137h3v3h-3zM1206 137h87v3h-87zM834 140h3v3h-3zM1206 140h87v3h-87zM1203 143h90v3h-90zM1203 146h90v3h-90zM1203 149h90v3h-90zM1203 152h90v3h-90zM1203 155h90v3h-90zM837 158h3v3h-3zM1203 158h90v3h-90zM1203 161h90v3h-90zM1203 164h87v3h-87zM1203 167h87v3h-87zM1203 170h87v3h-87zM840 173h3v3h-3zM1200 173h90v3h-90zM1200 176h90v3h-90zM1200 179h90v3h-90zM843 182h3v3h-3zM1200 182h90v3h-90zM1200 185h90v3h-90zM1200 188h90v3h-90zM846 191h3v3h-3zM1197 191h90v3h-90zM1197 194h90v3h-90zM1197 197h90v3h-90zM1197 200h90v3h-90zM1197 203h90v3h-90zM852 206h3v3h-3zM1194 206h93v3h-93zM1065 209h3v3h-3zM1194 209h90v3h-90zM1194 212h90v3h-90zM1194 215h90v3h-90zM1104 218h3v3h-3zM1191 218h93v3h-93zM849 221h3v3h-3zM1191 221h93v3h-93zM1191 224h93v3h-93zM1188 227h93v3h-93zM1188 230h93v3h-93zM1188 233h93v3h-93zM834 236h3v3h-3zM1188 236h93v3h-93zM1188 239h90v3h-90zM1194 242h84v3h-84zM1197 245h81v3h-81zM1203 248h75v3h-75zM1209 251h66v3h-66zM1215 254h60v3h-60zM1218 257h57v3h-57zM1029 260h3v3h-3zM1224 260h51v3h-51zM1230 263h42v3h-42zM1236 266h36v3h-36zM840 269h3v3h-3zM1242 269h30v3h-30zM1245 272h24v3h-24zM1251 275h18v3h-18zM1257 278h12v3h-12zM1263 281h3v3h-3zM780 284h3v3h-3zM1266 284h3v3h-3zM777 287h3v3h-3zM1272 287h3v3h-3zM1278 290h3v3h-3zM1131 296h3v3h-3zM1293 299h3v3h-3zM1299 302h3v3h-3zM987 305h3v3h-3zM753 308h3v3h-3zM987 308h6v3h-6zM750 311h3v3h-3zM987 311h9v3h-9zM1314 311h3v3h-3zM987 314h15v3h-15zM1320 314h3v3h-3zM675 317h3v3h-3zM987 317h18v3h-18zM663 320h3v3h-3zM990 320h21v3h-21zM696 323h3v3h-3zM990 323h27v3h-27zM666 326h3v3h-3zM708 326h3v3h-3zM729 326h3v3h-3zM990 326h30v3h-30zM1341 326h3v3h-3zM666 329h3v3h-3zM990 329h36v3h-36zM990 332h42v3h-42zM1122 332h3v3h-3zM669 335h3v3h-3zM990 335h45v3h-45zM669 338h3v3h-3zM990 338h51v3h-51zM1362 338h3v3h-3zM669 341h3v3h-3zM993 341h51v3h-51zM1368 341h3v3h-3zM669 344h3v3h-3zM996 344h54v3h-54zM1131 344h3v3h-3zM663 347h9v3h-9zM999 347h54v3h-54zM1134 347h3v3h-3zM660 350h12v3h-12zM1002 350h57v3h-57zM1116 350h3v3h-3zM1137 350h3v3h-3zM1194 350h3v3h-3zM657 353h12v3h-12zM1005 353h57v3h-57zM1119 353h3v3h-3zM1389 353h3v3h-3zM651 356h15v3h-15zM1008 356h60v3h-60zM648 359h15v3h-15zM1011 359h60v3h-60zM645 362h12v3h-12zM1014 362h63v3h-63zM639 365h15v3h-15zM1017 365h57v3h-57zM636 368h15v3h-15zM1020 368h51v3h-51zM1416 368h3v3h-3zM633 371h12v3h-12zM1023 371h48v3h-48zM627 374h15v3h-15zM1035 374h33v3h-33zM624 377h15v3h-15zM1053 377h12v3h-12zM621 380h15v3h-15zM1437 380h3v3h-3zM615 383h15v3h-15zM1443 383h3v3h-3zM612 386h15v3h-15zM609 389h15v3h-15zM603 392h18v3h-18zM600 395h15v3h-15zM1464 395h3v3h-3zM597 398h15v3h-15zM591 401h18v3h-18zM588 404h15v3h-15zM585 407h15v3h-15zM579 410h18v3h-18zM1491 410h3v3h-3zM576 413h18v3h-18zM573 416h15v3h-15zM567 419h18v3h-18zM564 422h18v3h-18zM1512 422h3v3h-3zM561 425h18v3h-18zM1518 425h3v3h-3zM555 428h18v3h-18zM552 431h18v3h-18zM549 434h18v3h-18zM543 437h18v3h-18zM1539 437h3v3h-3zM540 440h18v3h-18zM537 443h18v3h-18zM531 446h21v3h-21zM528 449h18v3h-18zM1560 449h3v3h-3zM525 452h18v3h-18zM1020 452h18v3h-18zM1509 452h18v3h-18zM519 455h21v3h-21zM1020 455h18v3h-18zM1461 455h15v3h-15zM516 458h21v3h-21zM1416 458h15v3h-15zM513 461h18v3h-18zM1380 461h12v3h-12zM507 464h21v3h-21zM1350 464h9v3h-9zM504 467h21v3h-21zM1335 467h6v3h-6zM501 470h18v3h-18zM1320 470h3v3h-3zM495 473h21v3h-21zM1302 473h6v3h-6zM492 476h21v3h-21zM1287 476h6v3h-6zM489 479h21v3h-21zM1272 479h3v3h-3zM486 482h18v3h-18zM1254 482h6v3h-6zM480 485h21v3h-21zM1239 485h6v3h-6zM492 488h12v3h-12zM1224 488h3v3h-3zM513 491h12v3h-12zM1209 491h3v3h-3zM540 494h9v3h-9zM1194 494h3v3h-3zM567 497h9v3h-9zM1176 497h6v3h-6zM597 500h9v3h-9zM1161 500h3v3h-3zM627 503h9v3h-9zM1143 503h6v3h-6zM660 506h12v3h-12zM1125 506h6v3h-6zM696 509h12v3h-12zM1107 509h6v3h-6zM735 512h12v3h-12zM1089 512h3v3h-3zM777 515h12v3h-12zM1068 515h6v3h-6zM825 518h9v3h-9zM1044 518h6v3h-6zM876 521h9v3h-9zM1020 521h3v3h-3zM930 524h9v3h-9zM984 524h6v3h-6zM1302 539h135v3h-135zM1221 542h219v3h-219zM1209 545h234v3h-234zM1209 548h237v3h-237zM1212 551h237v3h-237zM1212 554h240v3h-240zM1215 557h240v3h-240zM1218 560h243v3h-243zM1218 563h246v3h-246zM1221 566h246v3h-246z"/>
<path fill="#19c874" d="M1293 116h6v3h-6zM1293 119h6v3h-6zM1293 122h6v3h-6zM1293 125h6v3h-6zM1293 128h6v3h-6zM1293 131h6v3h-6zM1293 134h6v3h-6zM1293 137h6v3h-6zM1293 140h6v3h-6zM834 143h3v3h-3zM1293 143h6v3h-6zM1293 146h6v3h-6zM1293 149h6v3h-6zM1293 152h6v3h-6zM1293 155h6v3h-6zM1293 158h6v3h-6zM837 161h3v3h-3zM1293 161h6v3h-6zM1290 164h9v3h-9zM1290 167h9v3h-9zM1290 170h9v3h-9zM1290 173h9v3h-9zM1290 176h9v3h-9zM1290 179h9v3h-9zM1074 182h3v3h-3zM1290 182h9v3h-9zM1080 185h3v3h-3zM1290 185h9v3h-9zM1086 188h3v3h-3zM1290 188h9v3h-9zM1287 191h12v3h-12zM1287 194h12v3h-12zM1287 197h12v3h-12zM849 200h3v3h-3zM1068 200h3v3h-3zM1098 200h3v3h-3zM1287 200h12v3h-12zM1287 203h12v3h-12zM1287 206h12v3h-12zM1101 209h3v3h-3zM1284 209h15v3h-15zM1284 212h15v3h-15zM1284 215h15v3h-15zM1284 218h15v3h-15zM1284 221h15v3h-15zM1284 224h12v3h-12zM1281 227h15v3h-15zM1056 230h3v3h-3zM1281 230h15v3h-15zM837 233h3v3h-3zM1281 233h15v3h-15zM1281 236h15v3h-15zM1278 239h18v3h-18zM1278 242h21v3h-21zM1278 245h21v3h-21zM834 248h3v3h-3zM1278 248h24v3h-24zM1275 251h36v3h-36zM840 254h3v3h-3zM1143 254h3v3h-3zM1275 254h45v3h-45zM840 257h3v3h-3zM1275 257h51v3h-51zM840 260h3v3h-3zM1275 260h60v3h-60zM840 263h3v3h-3zM1272 263h69v3h-69zM840 266h3v3h-3zM1152 266h3v3h-3zM1272 266h78v3h-78zM1272 269h84v3h-84zM795 272h15v3h-15zM837 272h3v3h-3zM1269 272h93v3h-93zM1269 275h93v3h-93zM1005 278h3v3h-3zM1269 278h93v3h-93zM783 281h3v3h-3zM1266 281h96v3h-96zM1269 284h90v3h-90zM1275 287h84v3h-84zM1281 290h78v3h-78zM987 293h3v3h-3zM1284 293h75v3h-75zM984 296h3v3h-3zM1290 296h66v3h-66zM1296 299h60v3h-60zM1302 302h54v3h-54zM756 305h3v3h-3zM1305 305h51v3h-51zM1311 308h42v3h-42zM1317 311h36v3h-36zM1110 314h3v3h-3zM1323 314h30v3h-30zM660 317h3v3h-3zM1326 317h24v3h-24zM687 320h3v3h-3zM1332 320h18v3h-18zM663 323h3v3h-3zM735 323h3v3h-3zM1338 323h12v3h-12zM663 326h3v3h-3zM711 326h3v3h-3zM1113 326h6v3h-6zM1344 326h3v3h-3zM1110 329h12v3h-12zM1347 329h3v3h-3zM666 332h3v3h-3zM1110 332h12v3h-12zM1353 332h3v3h-3zM663 335h6v3h-6zM1110 335h15v3h-15zM1359 335h3v3h-3zM660 338h9v3h-9zM1113 338h15v3h-15zM657 341h12v3h-12zM1044 341h3v3h-3zM1089 341h3v3h-3zM1113 341h18v3h-18zM651 344h18v3h-18zM1113 344h18v3h-18zM1374 344h3v3h-3zM648 347h15v3h-15zM1116 347h18v3h-18zM1380 347h3v3h-3zM642 350h18v3h-18zM1119 350h18v3h-18zM639 353h18v3h-18zM1122 353h21v3h-21zM1176 353h24v3h-24zM636 356h15v3h-15zM1080 356h3v3h-3zM1122 356h24v3h-24zM1164 356h36v3h-36zM1395 356h3v3h-3zM630 359h18v3h-18zM1125 359h24v3h-24zM1152 359h48v3h-48zM1401 359h3v3h-3zM627 362h18v3h-18zM1128 362h66v3h-66zM1407 362h3v3h-3zM621 365h18v3h-18zM1131 365h57v3h-57zM618 368h18v3h-18zM1137 368h42v3h-42zM615 371h18v3h-18zM1146 371h18v3h-18zM1422 371h3v3h-3zM609 374h18v3h-18zM1428 374h3v3h-3zM606 377h18v3h-18zM600 380h21v3h-21zM597 383h18v3h-18zM594 386h18v3h-18zM1449 386h3v3h-3zM588 389h21v3h-21zM585 392h18v3h-18zM579 395h21v3h-21zM576 398h21v3h-21zM1470 398h3v3h-3zM573 401h18v3h-18zM1476 401h3v3h-3zM567 404h21v3h-21zM564 407h21v3h-21zM558 410h21v3h-21zM555 413h21v3h-21zM1497 413h3v3h-3zM549 416h24v3h-24zM1503 416h3v3h-3zM546 419h21v3h-21zM543 422h21v3h-21zM537 425h24v3h-24zM534 428h21v3h-21zM1524 428h3v3h-3zM528 431h24v3h-24zM525 434h24v3h-24zM522 437h21v3h-21zM516 440h24v3h-24zM1545 440h3v3h-3zM513 443h24v3h-24zM1551 443h3v3h-3zM507 446h24v3h-24zM504 449h24v3h-24zM501 452h24v3h-24zM1527 452h21v3h-21zM495 455h24v3h-24zM1476 455h18v3h-18zM492 458h24v3h-24zM1431 458h15v3h-15zM486 461h27v3h-27zM1392 461h15v3h-15zM483 464h24v3h-24zM1359 464h9v3h-9zM480 467h24v3h-24zM1341 467h6v3h-6zM474 470h27v3h-27zM1323 470h9v3h-9zM471 473h24v3h-24zM1308 473h6v3h-6zM465 476h27v3h-27zM1293 476h6v3h-6zM462 479h27v3h-27zM1275 479h6v3h-6zM459 482h27v3h-27zM1260 482h6v3h-6zM459 485h21v3h-21zM1245 485h3v3h-3zM477 488h15v3h-15zM1227 488h6v3h-6zM501 491h12v3h-12zM1212 491h6v3h-6zM528 494h12v3h-12zM1197 494h3v3h-3zM555 497h12v3h-12zM1182 497h3v3h-3zM585 500h12v3h-12zM1164 500h6v3h-6zM615 503h12v3h-12zM1149 503h3v3h-3zM648 506h12v3h-12zM1131 506h3v3h-3zM684 509h12v3h-12zM1113 509h3v3h-3zM723 512h12v3h-12zM1092 512h6v3h-6zM768 515h9v3h-9zM1074 515h3v3h-3zM813 518h12v3h-12zM1050 518h6v3h-6zM864 521h12v3h-12zM1023 521h6v3h-6zM921 524h9v3h-9zM990 524h9v3h-9zM1371 536h105v3h-105zM1266 539h36v3h-36zM1437 539h42v3h-42zM1194 542h27v3h-27zM1440 542h45v3h-45zM1179 545h30v3h-30zM1443 545h45v3h-45zM1179 548h30v3h-30zM1446 548h45v3h-45zM1182 551h30v3h-30zM1449 551h45v3h-45zM1182 554h30v3h-30zM1452 554h45v3h-45zM1185 557h30v3h-30zM1455 557h48v3h-48zM1185 560h33v3h-33zM1461 560h45v3h-45zM1188 563h30v3h-30zM1464 563h45v3h-45zM1188 566h33v3h-33zM1467 566h45v3h-45z"/>
<path fill="#18ce68" d="M834 146h3v3h-3zM837 164h3v3h-3zM840 176h3v3h-3zM843 185h3v3h-3zM1092 191h3v3h-3zM846 194h3v3h-3zM1296 224h3v3h-3zM1296 227h3v3h-3zM840 230h3v3h-3zM1296 230h3v3h-3zM1296 233h3v3h-3zM1116 236h3v3h-3zM1296 236h3v3h-3zM1050 239h3v3h-3zM1119 239h3v3h-3zM1296 239h3v3h-3zM1047 242h3v3h-3zM1122 242h3v3h-3zM1299 242h6v3h-6zM1299 245h15v3h-15zM831 248h3v3h-3zM1302 248h18v3h-18zM1311 251h18v3h-18zM1320 254h18v3h-18zM1326 257h18v3h-18zM1335 260h18v3h-18zM1341 263h21v3h-21zM1350 266h21v3h-21zM1017 269h3v3h-3zM1356 269h21v3h-21zM1362 272h24v3h-24zM1362 275h33v3h-33zM786 278h3v3h-3zM1362 278h42v3h-42zM1362 281h48v3h-48zM1359 284h60v3h-60zM1359 287h69v3h-69zM1137 290h3v3h-3zM1359 290h78v3h-78zM1134 293h3v3h-3zM1359 293h84v3h-84zM1356 296h93v3h-93zM762 299h3v3h-3zM1356 299h93v3h-93zM759 302h3v3h-3zM987 302h3v3h-3zM1356 302h93v3h-93zM990 305h3v3h-3zM1356 305h93v3h-93zM993 308h3v3h-3zM1353 308h93v3h-93zM996 311h3v3h-3zM1113 311h3v3h-3zM1353 311h93v3h-93zM660 314h6v3h-6zM1353 314h93v3h-93zM654 317h6v3h-6zM678 317h3v3h-3zM1005 317h3v3h-3zM1350 317h96v3h-96zM648 320h15v3h-15zM1350 320h93v3h-93zM645 323h18v3h-18zM699 323h3v3h-3zM1350 323h93v3h-93zM639 326h24v3h-24zM714 326h3v3h-3zM726 326h3v3h-3zM1020 326h3v3h-3zM1347 326h96v3h-96zM633 329h33v3h-33zM1350 329h90v3h-90zM630 332h36v3h-36zM1356 332h84v3h-84zM624 335h39v3h-39zM1035 335h3v3h-3zM1362 335h78v3h-78zM621 338h39v3h-39zM1365 338h75v3h-75zM615 341h42v3h-42zM1371 341h66v3h-66zM612 344h39v3h-39zM1377 344h60v3h-60zM606 347h42v3h-42zM1053 347h3v3h-3zM1383 347h54v3h-54zM600 350h42v3h-42zM1386 350h48v3h-48zM597 353h42v3h-42zM1062 353h3v3h-3zM1392 353h42v3h-42zM591 356h45v3h-45zM1398 356h36v3h-36zM588 359h42v3h-42zM1404 359h27v3h-27zM582 362h45v3h-45zM1410 362h21v3h-21zM576 365h45v3h-45zM1413 365h18v3h-18zM573 368h45v3h-45zM1419 368h12v3h-12zM567 371h48v3h-48zM1425 371h3v3h-3zM564 374h45v3h-45zM558 377h48v3h-48zM1434 377h3v3h-3zM552 380h48v3h-48zM1440 380h3v3h-3zM549 383h48v3h-48zM1446 383h3v3h-3zM543 386h51v3h-51zM540 389h48v3h-48zM1455 389h3v3h-3zM534 392h51v3h-51zM1461 392h3v3h-3zM528 395h51v3h-51zM1467 395h3v3h-3zM525 398h51v3h-51zM519 401h54v3h-54zM516 404h51v3h-51zM1482 404h3v3h-3zM513 407h51v3h-51zM1488 407h3v3h-3zM510 410h48v3h-48zM507 413h48v3h-48zM501 416h48v3h-48zM498 419h48v3h-48zM1509 419h3v3h-3zM492 422h51v3h-51zM1515 422h3v3h-3zM489 425h48v3h-48zM483 428h51v3h-51zM477 431h51v3h-51zM1530 431h3v3h-3zM474 434h51v3h-51zM1536 434h3v3h-3zM468 437h54v3h-54zM465 440h51v3h-51zM459 443h54v3h-54zM456 446h51v3h-51zM1557 446h3v3h-3zM450 449h54v3h-54zM447 452h54v3h-54zM1548 452h18v3h-18zM441 455h54v3h-54zM1494 455h21v3h-21zM438 458h54v3h-54zM1446 458h21v3h-21zM432 461h54v3h-54zM1407 461h15v3h-15zM429 464h54v3h-54zM1368 464h15v3h-15zM423 467h57v3h-57zM1347 467h9v3h-9zM417 470h57v3h-57zM1332 470h6v3h-6zM414 473h57v3h-57zM1314 473h6v3h-6zM408 476h57v3h-57zM1299 476h6v3h-6zM405 479h57v3h-57zM1281 479h6v3h-6zM420 482h39v3h-39zM1266 482h6v3h-6zM441 485h18v3h-18zM1248 485h6v3h-6zM465 488h12v3h-12zM1233 488h6v3h-6zM489 491h12v3h-12zM1218 491h6v3h-6zM516 494h12v3h-12zM1200 494h6v3h-6zM543 497h12v3h-12zM1185 497h6v3h-6zM570 500h15v3h-15zM1170 500h3v3h-3zM603 503h12v3h-12zM1152 503h6v3h-6zM636 506h12v3h-12zM1134 506h6v3h-6zM672 509h12v3h-12zM1116 509h6v3h-6zM711 512h12v3h-12zM1098 512h6v3h-6zM753 515h15v3h-15zM1077 515h6v3h-6zM801 518h12v3h-12zM1056 518h6v3h-6zM852 521h12v3h-12zM1029 521h6v3h-6zM906 524h15v3h-15zM999 524h6v3h-6zM1500 530h12v3h-12zM1449 533h66v3h-66zM1329 536h42v3h-42zM1476 536h45v3h-45zM1242 539h24v3h-24zM1479 539h45v3h-45zM1170 542h24v3h-24zM1485 542h42v3h-42zM1152 545h27v3h-27zM1488 545h45v3h-45zM1155 548h24v3h-24zM1491 548h45v3h-45zM1155 551h27v3h-27zM1494 551h45v3h-45zM1158 554h24v3h-24zM1497 554h48v3h-48zM1158 557h27v3h-27zM1503 557h45v3h-45zM1161 560h24v3h-24zM1506 560h45v3h-45zM1161 563h27v3h-27zM1509 563h45v3h-45zM1161 566h27v3h-27zM1512 566h48v3h-48z"/>
<path fill="#19d35a" d="M834 149h3v3h-3zM852 209h3v3h-3zM852 212h3v3h-3zM1101 212h3v3h-3zM1104 221h3v3h-3zM1059 224h3v3h-3zM1299 236h6v3h-6zM1299 239h15v3h-15zM1305 242h15v3h-15zM1314 245h15v3h-15zM822 248h9v3h-9zM1320 248h18v3h-18zM1329 251h18v3h-18zM1338 254h18v3h-18zM1344 257h21v3h-21zM1353 260h21v3h-21zM1362 263h18v3h-18zM1371 266h18v3h-18zM1377 269h21v3h-21zM792 272h3v3h-3zM810 272h3v3h-3zM834 272h3v3h-3zM1386 272h21v3h-21zM789 275h3v3h-3zM1395 275h21v3h-21zM1404 278h21v3h-21zM1002 281h3v3h-3zM1410 281h24v3h-24zM1419 284h24v3h-24zM1140 287h3v3h-3zM1428 287h21v3h-21zM1437 290h21v3h-21zM1443 293h24v3h-24zM765 296h3v3h-3zM1449 296h27v3h-27zM1449 299h36v3h-36zM1449 302h45v3h-45zM1449 305h54v3h-54zM1446 308h63v3h-63zM1446 311h72v3h-72zM657 314h3v3h-3zM666 314h3v3h-3zM1446 314h81v3h-81zM651 317h3v3h-3zM741 317h3v3h-3zM1446 317h87v3h-87zM645 320h3v3h-3zM690 320h3v3h-3zM738 320h3v3h-3zM1443 320h93v3h-93zM642 323h3v3h-3zM1443 323h93v3h-93zM636 326h3v3h-3zM717 326h9v3h-9zM1443 326h90v3h-90zM1440 329h93v3h-93zM627 332h3v3h-3zM1440 332h93v3h-93zM621 335h3v3h-3zM1440 335h93v3h-93zM618 338h3v3h-3zM1440 338h93v3h-93zM612 341h3v3h-3zM1437 341h93v3h-93zM609 344h3v3h-3zM1437 344h93v3h-93zM603 347h3v3h-3zM1437 347h93v3h-93zM597 350h3v3h-3zM1434 350h96v3h-96zM594 353h3v3h-3zM1434 353h93v3h-93zM588 356h3v3h-3zM1434 356h93v3h-93zM585 359h3v3h-3zM1071 359h3v3h-3zM1431 359h96v3h-96zM579 362h3v3h-3zM1431 362h96v3h-96zM573 365h3v3h-3zM1431 365h93v3h-93zM570 368h3v3h-3zM1431 368h93v3h-93zM564 371h3v3h-3zM1428 371h96v3h-96zM561 374h3v3h-3zM1431 374h90v3h-90zM555 377h3v3h-3zM1437 377h84v3h-84zM549 380h3v3h-3zM1443 380h78v3h-78zM546 383h3v3h-3zM1449 383h72v3h-72zM540 386h3v3h-3zM1452 386h66v3h-66zM537 389h3v3h-3zM1458 389h60v3h-60zM531 392h3v3h-3zM1464 392h54v3h-54zM525 395h3v3h-3zM1470 395h45v3h-45zM522 398h3v3h-3zM1473 398h42v3h-42zM516 401h3v3h-3zM1479 401h36v3h-36zM513 404h3v3h-3zM1485 404h27v3h-27zM507 407h6v3h-6zM1491 407h21v3h-21zM504 410h6v3h-6zM1494 410h18v3h-18zM498 413h9v3h-9zM1500 413h9v3h-9zM492 416h9v3h-9zM1506 416h3v3h-3zM489 419h9v3h-9zM1512 419h3v3h-3zM483 422h9v3h-9zM480 425h9v3h-9zM1521 425h3v3h-3zM474 428h9v3h-9zM1527 428h3v3h-3zM468 431h9v3h-9zM465 434h9v3h-9zM459 437h9v3h-9zM1542 437h3v3h-3zM456 440h9v3h-9zM1548 440h3v3h-3zM450 443h9v3h-9zM447 446h9v3h-9zM441 449h9v3h-9zM1563 449h3v3h-3zM438 452h9v3h-9zM1566 452h3v3h-3zM438 455h3v3h-3zM1515 455h30v3h-30zM432 458h6v3h-6zM1467 458h24v3h-24zM429 461h3v3h-3zM1422 461h24v3h-24zM423 464h6v3h-6zM1383 464h21v3h-21zM420 467h3v3h-3zM1356 467h12v3h-12zM414 470h3v3h-3zM1338 470h9v3h-9zM411 473h3v3h-3zM1320 473h9v3h-9zM405 476h3v3h-3zM1305 476h9v3h-9zM402 479h3v3h-3zM1287 479h9v3h-9zM402 482h18v3h-18zM1272 482h9v3h-9zM423 485h18v3h-18zM1254 485h9v3h-9zM447 488h18v3h-18zM1239 488h9v3h-9zM471 491h18v3h-18zM1224 491h6v3h-6zM498 494h18v3h-18zM1206 494h9v3h-9zM525 497h18v3h-18zM1191 497h6v3h-6zM555 500h15v3h-15zM1173 500h9v3h-9zM585 503h18v3h-18zM1158 503h6v3h-6zM618 506h18v3h-18zM1140 506h6v3h-6zM654 509h18v3h-18zM1122 509h6v3h-6zM693 512h18v3h-18zM1104 512h6v3h-6zM738 515h15v3h-15zM1083 515h6v3h-6zM783 518h18v3h-18zM1062 518h6v3h-6zM834 521h18v3h-18zM1035 521h9v3h-9zM891 524h15v3h-15zM1005 524h9v3h-9zM951 527h24v3h-24zM1518 527h51v3h-51zM1470 530h30v3h-30zM1512 530h60v3h-60zM1395 533h54v3h-54zM1515 533h63v3h-63zM1287 536h42v3h-42zM1521 536h60v3h-60zM1212 539h30v3h-30zM1524 539h63v3h-63zM1143 542h27v3h-27zM1527 542h63v3h-63zM1125 545h27v3h-27zM1533 545h63v3h-63zM1125 548h30v3h-30zM1536 548h63v3h-63zM1125 551h30v3h-30zM1539 551h66v3h-66zM1128 554h30v3h-30zM1545 554h63v3h-63zM1128 557h30v3h-30zM1548 557h66v3h-66zM1131 560h30v3h-30zM1551 560h66v3h-66zM1131 563h30v3h-30zM1554 563h69v3h-69zM1131 566h30v3h-30zM1560 566h66v3h-66z"/>
<path fill="#19d94c" d="M1299 146h3v3h-3zM1299 149h3v3h-3zM834 152h3v3h-3zM1299 152h3v3h-3zM1299 155h3v3h-3zM1299 158h3v3h-3zM1299 161h3v3h-3zM1299 164h3v3h-3zM837 167h3v3h-3zM1299 167h3v3h-3zM1299 170h3v3h-3zM1299 173h3v3h-3zM1299 176h3v3h-3zM840 179h3v3h-3zM1299 179h3v3h-3zM1299 182h3v3h-3zM1074 185h6v3h-6zM1299 185h3v3h-3zM843 188h3v3h-3zM1074 188h12v3h-12zM1299 188h3v3h-3zM1071 191h21v3h-21zM1071 194h27v3h-27zM1071 197h27v3h-27zM1071 200h27v3h-27zM849 203h3v3h-3zM846 224h3v3h-3zM1299 224h3v3h-3zM843 227h3v3h-3zM1299 227h3v3h-3zM1299 230h3v3h-3zM1299 233h12v3h-12zM1305 236h15v3h-15zM1314 239h15v3h-15zM1320 242h18v3h-18zM1329 245h18v3h-18zM1131 248h3v3h-3zM1338 248h18v3h-18zM837 251h3v3h-3zM1137 251h3v3h-3zM1347 251h18v3h-18zM1356 254h18v3h-18zM1365 257h18v3h-18zM1149 260h3v3h-3zM1374 260h18v3h-18zM1026 263h3v3h-3zM1380 263h21v3h-21zM1389 266h21v3h-21zM798 269h12v3h-12zM1398 269h21v3h-21zM813 272h3v3h-3zM1407 272h21v3h-21zM1416 275h21v3h-21zM1425 278h21v3h-21zM1434 281h21v3h-21zM1443 284h21v3h-21zM1449 287h24v3h-24zM771 290h3v3h-3zM1458 290h24v3h-24zM768 293h3v3h-3zM1467 293h24v3h-24zM1476 296h24v3h-24zM1485 299h24v3h-24zM1494 302h24v3h-24zM1503 305h24v3h-24zM1509 308h27v3h-27zM1518 311h27v3h-27zM654 314h3v3h-3zM669 314h3v3h-3zM744 314h3v3h-3zM1527 314h27v3h-27zM681 317h3v3h-3zM1533 317h30v3h-30zM1011 320h3v3h-3zM1536 320h36v3h-36zM639 323h3v3h-3zM702 323h3v3h-3zM732 323h3v3h-3zM1536 323h45v3h-45zM1533 326h57v3h-57zM630 329h3v3h-3zM1026 329h3v3h-3zM1533 329h66v3h-66zM1533 332h75v3h-75zM1533 335h84v3h-84zM615 338h3v3h-3zM1041 338h3v3h-3zM1533 338h90v3h-90zM1530 341h93v3h-93zM606 344h3v3h-3zM1530 344h93v3h-93zM1530 347h90v3h-90zM1530 350h90v3h-90zM591 353h3v3h-3zM1527 353h93v3h-93zM1527 356h93v3h-93zM582 359h3v3h-3zM1527 359h93v3h-93zM1527 362h90v3h-90zM1524 365h93v3h-93zM567 368h3v3h-3zM1524 368h93v3h-93zM1524 371h93v3h-93zM558 374h3v3h-3zM1521 374h93v3h-93zM1521 377h93v3h-93zM1521 380h93v3h-93zM543 383h3v3h-3zM1521 383h93v3h-93zM1518 386h93v3h-93zM534 389h3v3h-3zM1518 389h93v3h-93zM528 392h3v3h-3zM1518 392h93v3h-93zM1515 395h96v3h-96zM519 398h3v3h-3zM1515 398h93v3h-93zM1515 401h93v3h-93zM510 404h3v3h-3zM1512 404h96v3h-96zM504 407h3v3h-3zM1512 407h93v3h-93zM501 410h3v3h-3zM1512 410h93v3h-93zM495 413h3v3h-3zM1509 413h96v3h-96zM1509 416h96v3h-96zM486 419h3v3h-3zM1515 419h87v3h-87zM480 422h3v3h-3zM1518 422h84v3h-84zM477 425h3v3h-3zM1524 425h78v3h-78zM471 428h3v3h-3zM1530 428h69v3h-69zM1533 431h66v3h-66zM462 434h3v3h-3zM1539 434h60v3h-60zM456 437h3v3h-3zM1545 437h54v3h-54zM453 440h3v3h-3zM1551 440h45v3h-45zM447 443h3v3h-3zM1554 443h42v3h-42zM444 446h3v3h-3zM1560 446h36v3h-36zM438 449h3v3h-3zM1566 449h27v3h-27zM432 452h6v3h-6zM1569 452h24v3h-24zM429 455h9v3h-9zM1545 455h48v3h-48zM423 458h9v3h-9zM1491 458h81v3h-81zM420 461h9v3h-9zM1446 461h69v3h-69zM414 464h9v3h-9zM1404 464h63v3h-63zM411 467h9v3h-9zM1368 467h54v3h-54zM405 470h9v3h-9zM1347 470h39v3h-39zM399 473h12v3h-12zM1329 473h30v3h-30zM396 476h9v3h-9zM1314 476h27v3h-27zM390 479h12v3h-12zM1296 479h27v3h-27zM387 482h15v3h-15zM1281 482h24v3h-24zM384 485h39v3h-39zM1263 485h24v3h-24zM396 488h51v3h-51zM1248 488h21v3h-21zM420 491h51v3h-51zM1230 491h21v3h-21zM447 494h51v3h-51zM1215 494h21v3h-21zM474 497h51v3h-51zM1197 497h21v3h-21zM504 500h51v3h-51zM1182 500h18v3h-18zM534 503h51v3h-51zM1164 503h21v3h-21zM567 506h51v3h-51zM1146 506h21v3h-21zM603 509h51v3h-51zM1128 509h21v3h-21zM642 512h51v3h-51zM1110 512h21v3h-21zM684 515h54v3h-54zM1089 515h21v3h-21zM1671 515h9v3h-9zM729 518h54v3h-54zM1068 518h21v3h-21zM1605 518h84v3h-84zM780 521h54v3h-54zM1044 521h24v3h-24zM1548 521h147v3h-147zM834 524h57v3h-57zM1014 524h27v3h-27zM1497 524h204v3h-204zM897 527h54v3h-54zM975 527h33v3h-33zM1452 527h66v3h-66zM1569 527h135v3h-135zM1359 530h111v3h-111zM1572 530h138v3h-138zM1272 533h123v3h-123zM1578 533h138v3h-138zM1206 536h81v3h-81zM1581 536h141v3h-141zM1137 539h75v3h-75zM1587 539h138v3h-138zM942 542h201v3h-201zM1590 542h141v3h-141zM876 545h249v3h-249zM1596 545h138v3h-138zM819 548h306v3h-306zM1599 548h135v3h-135zM765 551h360v3h-360zM1605 551h129v3h-129zM717 554h411v3h-411zM1608 554h126v3h-126zM666 557h462v3h-462zM1614 557h120v3h-120zM621 560h510v3h-510zM1617 560h117v3h-117zM576 563h555v3h-555zM1623 563h111v3h-111zM531 566h600v3h-600zM1626 566h108v3h-108z"/>
<path fill="#1adf3f" d="M831 116h3v3h-3zM831 119h3v3h-3zM831 122h3v3h-3zM831 125h3v3h-3zM1299 137h3v3h-3zM1299 140h3v3h-3zM1299 143h3v3h-3zM834 155h3v3h-3zM837 170h3v3h-3zM1299 191h3v3h-3zM1299 194h3v3h-3zM846 197h3v3h-3zM1299 197h3v3h-3zM1299 200h3v3h-3zM1068 203h33v3h-33zM1299 203h3v3h-3zM1068 206h33v3h-33zM1299 206h3v3h-3zM1299 209h3v3h-3zM1299 212h3v3h-3zM1299 215h3v3h-3zM1062 218h3v3h-3zM1299 218h3v3h-3zM1299 221h3v3h-3zM1302 227h6v3h-6zM1302 230h15v3h-15zM1113 233h3v3h-3zM1311 233h15v3h-15zM1320 236h15v3h-15zM1329 239h15v3h-15zM1338 242h18v3h-18zM822 245h3v3h-3zM1347 245h18v3h-18zM819 248h3v3h-3zM1356 248h18v3h-18zM1365 251h18v3h-18zM1374 254h18v3h-18zM1383 257h18v3h-18zM1392 260h18v3h-18zM1401 263h21v3h-21zM1410 266h21v3h-21zM795 269h3v3h-3zM837 269h3v3h-3zM1152 269h3v3h-3zM1419 269h21v3h-21zM816 272h18v3h-18zM1428 272h21v3h-21zM1437 275h21v3h-21zM1446 278h21v3h-21zM1455 281h21v3h-21zM1464 284h24v3h-24zM774 287h3v3h-3zM1473 287h24v3h-24zM1482 290h24v3h-24zM1491 293h24v3h-24zM1500 296h24v3h-24zM1509 299h24v3h-24zM1518 302h24v3h-24zM1527 305h24v3h-24zM750 308h3v3h-3zM1536 308h27v3h-27zM747 311h3v3h-3zM1545 311h27v3h-27zM672 314h3v3h-3zM1554 314h27v3h-27zM648 317h3v3h-3zM1563 317h27v3h-27zM693 320h3v3h-3zM1572 320h27v3h-27zM1581 323h27v3h-27zM633 326h3v3h-3zM1590 326h27v3h-27zM1599 329h30v3h-30zM624 332h3v3h-3zM1608 332h30v3h-30zM1617 335h30v3h-30zM1623 338h33v3h-33zM609 341h3v3h-3zM1623 341h42v3h-42zM1050 344h3v3h-3zM1623 344h51v3h-51zM600 347h3v3h-3zM1620 347h63v3h-63zM594 350h3v3h-3zM1059 350h3v3h-3zM1620 350h75v3h-75zM1620 353h84v3h-84zM585 356h3v3h-3zM1620 356h90v3h-90zM1620 359h90v3h-90zM576 362h3v3h-3zM1617 362h93v3h-93zM570 365h3v3h-3zM1617 365h93v3h-93zM1617 368h90v3h-90zM561 371h3v3h-3zM1617 371h90v3h-90zM1614 374h93v3h-93zM552 377h3v3h-3zM1614 377h93v3h-93zM546 380h3v3h-3zM1614 380h90v3h-90zM1614 383h90v3h-90zM537 386h3v3h-3zM1611 386h93v3h-93zM1611 389h93v3h-93zM1611 392h93v3h-93zM522 395h3v3h-3zM1611 395h90v3h-90zM1608 398h93v3h-93zM513 401h3v3h-3zM1608 401h93v3h-93zM1608 404h93v3h-93zM1605 407h93v3h-93zM498 410h3v3h-3zM1605 410h93v3h-93zM1605 413h93v3h-93zM489 416h3v3h-3zM1605 416h93v3h-93zM483 419h3v3h-3zM1602 419h93v3h-93zM1602 422h93v3h-93zM474 425h3v3h-3zM1602 425h93v3h-93zM1599 428h96v3h-96zM465 431h3v3h-3zM1599 431h93v3h-93zM459 434h3v3h-3zM1599 434h93v3h-93zM1599 437h93v3h-93zM450 440h3v3h-3zM1596 440h96v3h-96zM1596 443h93v3h-93zM441 446h3v3h-3zM1596 446h93v3h-93zM435 449h3v3h-3zM1593 449h96v3h-96zM1593 452h93v3h-93zM426 455h3v3h-3zM1593 455h93v3h-93zM1572 458h114v3h-114zM417 461h3v3h-3zM1515 461h144v3h-144zM411 464h3v3h-3zM1467 464h135v3h-135zM408 467h3v3h-3zM1422 467h114v3h-114zM402 470h3v3h-3zM1386 470h84v3h-84zM1359 473h60v3h-60zM393 476h3v3h-3zM1341 476h39v3h-39zM387 479h3v3h-3zM1323 479h33v3h-33zM384 482h3v3h-3zM1305 482h30v3h-30zM378 485h6v3h-6zM1287 485h30v3h-30zM375 488h21v3h-21zM1269 488h27v3h-27zM369 491h51v3h-51zM1251 491h27v3h-27zM363 494h84v3h-84zM1236 494h24v3h-24zM384 497h90v3h-90zM1218 497h21v3h-21zM417 500h87v3h-87zM1200 500h21v3h-21zM450 503h84v3h-84zM1185 503h18v3h-18zM486 506h81v3h-81zM1167 506h18v3h-18zM528 509h75v3h-75zM1149 509h15v3h-15zM1641 509h36v3h-36zM570 512h72v3h-72zM1131 512h15v3h-15zM1587 512h93v3h-93zM618 515h66v3h-66zM1110 515h15v3h-15zM1542 515h129v3h-129zM1680 515h6v3h-6zM669 518h60v3h-60zM1089 518h15v3h-15zM1500 518h105v3h-105zM1689 518h3v3h-3zM729 521h51v3h-51zM1068 521h12v3h-12zM1458 521h90v3h-90zM1695 521h3v3h-3zM792 524h42v3h-42zM1041 524h12v3h-12zM1401 524h96v3h-96zM864 527h33v3h-33zM1008 527h12v3h-12zM1323 527h129v3h-129zM1704 527h3v3h-3zM948 530h27v3h-27zM1263 530h96v3h-96zM1710 530h3v3h-3zM1209 533h63v3h-63zM1716 533h3v3h-3zM1155 536h51v3h-51zM1089 539h48v3h-48zM1725 539h3v3h-3zM918 542h24v3h-24zM1731 542h3v3h-3zM846 545h30v3h-30zM780 548h39v3h-39zM723 551h42v3h-42zM666 554h51v3h-51zM609 557h57v3h-57zM558 560h63v3h-63zM504 563h72v3h-72zM453 566h78v3h-78z"/>
<path fill="#27e335" d="M831 128h3v3h-3zM831 131h3v3h-3zM1299 131h3v3h-3zM831 134h3v3h-3zM1299 134h3v3h-3zM834 158h3v3h-3zM840 182h3v3h-3zM843 191h3v3h-3zM849 206h3v3h-3zM1068 209h33v3h-33zM1065 212h36v3h-36zM1302 221h3v3h-3zM1104 224h3v3h-3zM1302 224h12v3h-12zM1107 227h3v3h-3zM1308 227h15v3h-15zM1110 230h3v3h-3zM1317 230h15v3h-15zM1326 233h15v3h-15zM1053 236h3v3h-3zM1335 236h18v3h-18zM1344 239h18v3h-18zM825 242h3v3h-3zM1356 242h15v3h-15zM1125 245h3v3h-3zM1365 245h18v3h-18zM1374 248h18v3h-18zM1041 251h3v3h-3zM1383 251h18v3h-18zM837 254h3v3h-3zM1038 254h3v3h-3zM1392 254h18v3h-18zM1035 257h3v3h-3zM1401 257h21v3h-21zM1410 260h21v3h-21zM1422 263h18v3h-18zM837 266h3v3h-3zM1431 266h18v3h-18zM1440 269h21v3h-21zM1014 272h3v3h-3zM1449 272h21v3h-21zM1458 275h21v3h-21zM1467 278h24v3h-24zM780 281h3v3h-3zM1476 281h24v3h-24zM777 284h3v3h-3zM999 284h3v3h-3zM1488 284h21v3h-21zM1497 287h21v3h-21zM1506 290h24v3h-24zM1515 293h24v3h-24zM1524 296h24v3h-24zM1533 299h24v3h-24zM756 302h3v3h-3zM1542 302h27v3h-27zM753 305h3v3h-3zM1119 305h3v3h-3zM1551 305h27v3h-27zM1116 308h3v3h-3zM1563 308h24v3h-24zM1572 311h27v3h-27zM651 314h3v3h-3zM675 314h3v3h-3zM1002 314h3v3h-3zM1581 314h27v3h-27zM684 317h3v3h-3zM1590 317h27v3h-27zM642 320h3v3h-3zM1599 320h27v3h-27zM636 323h3v3h-3zM705 323h3v3h-3zM729 323h3v3h-3zM1017 323h3v3h-3zM1608 323h30v3h-30zM1617 326h30v3h-30zM627 329h3v3h-3zM1095 329h3v3h-3zM1629 329h27v3h-27zM1032 332h3v3h-3zM1638 332h30v3h-30zM618 335h3v3h-3zM1092 335h3v3h-3zM1647 335h30v3h-30zM612 338h3v3h-3zM1656 338h30v3h-30zM1665 341h30v3h-30zM603 344h3v3h-3zM1674 344h33v3h-33zM1683 347h33v3h-33zM1083 350h3v3h-3zM1695 350h30v3h-30zM588 353h3v3h-3zM1704 353h30v3h-30zM1068 356h3v3h-3zM1710 356h24v3h-24zM579 359h3v3h-3zM1710 359h24v3h-24zM1710 362h24v3h-24zM1710 365h24v3h-24zM564 368h3v3h-3zM1707 368h27v3h-27zM1707 371h27v3h-27zM555 374h3v3h-3zM1707 374h27v3h-27zM549 377h3v3h-3zM1707 377h27v3h-27zM1704 380h30v3h-30zM540 383h3v3h-3zM1704 383h30v3h-30zM1704 386h30v3h-30zM531 389h3v3h-3zM1704 389h30v3h-30zM525 392h3v3h-3zM1704 392h30v3h-30zM1701 395h33v3h-33zM516 398h3v3h-3zM1701 398h33v3h-33zM1701 401h33v3h-33zM507 404h3v3h-3zM1701 404h33v3h-33zM501 407h3v3h-3zM1698 407h36v3h-36zM1698 410h36v3h-36zM492 413h3v3h-3zM1698 413h36v3h-36zM486 416h3v3h-3zM1698 416h36v3h-36zM1695 419h39v3h-39zM477 422h3v3h-3zM1695 422h39v3h-39zM1695 425h39v3h-39zM468 428h3v3h-3zM1695 428h39v3h-39zM462 431h3v3h-3zM1692 431h42v3h-42zM1692 434h42v3h-42zM453 437h3v3h-3zM1692 437h42v3h-42zM1692 440h42v3h-42zM444 443h3v3h-3zM1689 443h45v3h-45zM438 446h3v3h-3zM1689 446h45v3h-45zM1689 449h45v3h-45zM429 452h3v3h-3zM1686 452h48v3h-48zM423 455h3v3h-3zM1686 455h48v3h-48zM420 458h3v3h-3zM1686 458h48v3h-48zM414 461h3v3h-3zM1659 461h48v3h-48zM1602 464h27v3h-27zM405 467h3v3h-3zM1536 467h27v3h-27zM399 470h3v3h-3zM1470 470h15v3h-15zM396 473h3v3h-3zM1419 473h9v3h-9zM390 476h3v3h-3zM1380 476h6v3h-6zM1356 479h3v3h-3zM381 482h3v3h-3zM1335 482h6v3h-6zM375 485h3v3h-3zM1317 485h3v3h-3zM372 488h3v3h-3zM1296 488h6v3h-6zM366 491h3v3h-3zM1278 491h3v3h-3zM360 494h3v3h-3zM1260 494h3v3h-3zM375 497h9v3h-9zM1239 497h6v3h-6zM408 500h9v3h-9zM1221 500h3v3h-3zM441 503h9v3h-9zM1203 503h3v3h-3zM480 506h6v3h-6zM1185 506h3v3h-3zM1680 506h54v3h-54zM519 509h9v3h-9zM1164 509h3v3h-3zM1617 509h24v3h-24zM1677 509h57v3h-57zM564 512h6v3h-6zM1146 512h3v3h-3zM1572 512h15v3h-15zM1680 512h54v3h-54zM609 515h9v3h-9zM1125 515h3v3h-3zM1533 515h9v3h-9zM1686 515h48v3h-48zM660 518h9v3h-9zM1104 518h3v3h-3zM1491 518h9v3h-9zM1692 518h42v3h-42zM717 521h12v3h-12zM1080 521h3v3h-3zM1449 521h9v3h-9zM1698 521h36v3h-36zM780 524h12v3h-12zM1053 524h6v3h-6zM1386 524h15v3h-15zM1701 524h33v3h-33zM852 527h12v3h-12zM1020 527h6v3h-6zM1311 527h12v3h-12zM1707 527h27v3h-27zM936 530h12v3h-12zM975 530h6v3h-6zM1251 530h12v3h-12zM1713 530h21v3h-21zM1197 533h12v3h-12zM1719 533h15v3h-15zM1143 536h12v3h-12zM1722 536h12v3h-12zM969 539h6v3h-6zM1071 539h18v3h-18zM1728 539h6v3h-6zM906 542h12v3h-12zM834 545h12v3h-12zM771 548h9v3h-9zM711 551h12v3h-12zM654 554h12v3h-12zM600 557h9v3h-9zM549 560h9v3h-9zM495 563h9v3h-9zM444 566h9v3h-9z"/>
<path fill="#38e62c" d="M1299 128h3v3h-3zM831 137h3v3h-3zM831 140h3v3h-3zM834 161h3v3h-3zM837 173h3v3h-3zM846 200h3v3h-3zM1065 215h39v3h-39zM1302 215h3v3h-3zM849 218h3v3h-3zM1065 218h39v3h-39zM1302 218h6v3h-6zM1062 221h42v3h-42zM1305 221h12v3h-12zM1314 224h12v3h-12zM1323 227h15v3h-15zM1332 230h15v3h-15zM1341 233h18v3h-18zM831 236h3v3h-3zM1353 236h15v3h-15zM828 239h3v3h-3zM1362 239h18v3h-18zM1371 242h18v3h-18zM1383 245h15v3h-15zM1392 248h18v3h-18zM834 251h3v3h-3zM1401 251h18v3h-18zM1410 254h21v3h-21zM837 257h3v3h-3zM1422 257h18v3h-18zM837 260h3v3h-3zM1431 260h18v3h-18zM837 263h3v3h-3zM1440 263h21v3h-21zM798 266h12v3h-12zM1449 266h21v3h-21zM810 269h3v3h-3zM1461 269h21v3h-21zM1470 272h21v3h-21zM1152 275h3v3h-3zM1479 275h24v3h-24zM783 278h3v3h-3zM1149 278h3v3h-3zM1491 278h21v3h-21zM1146 281h3v3h-3zM1500 281h21v3h-21zM1143 284h3v3h-3zM1509 284h24v3h-24zM1518 287h24v3h-24zM1530 290h24v3h-24zM1539 293h24v3h-24zM762 296h3v3h-3zM1548 296h24v3h-24zM759 299h3v3h-3zM1557 299h27v3h-27zM1569 302h24v3h-24zM1578 305h27v3h-27zM1587 308h27v3h-27zM660 311h6v3h-6zM1599 311h27v3h-27zM1608 314h27v3h-27zM645 317h3v3h-3zM687 317h3v3h-3zM738 317h3v3h-3zM1008 317h3v3h-3zM1617 317h27v3h-27zM696 320h3v3h-3zM735 320h3v3h-3zM1626 320h30v3h-30zM708 323h3v3h-3zM1638 323h27v3h-27zM630 326h3v3h-3zM1023 326h3v3h-3zM1647 326h30v3h-30zM1656 329h30v3h-30zM621 332h3v3h-3zM1668 332h27v3h-27zM1038 335h3v3h-3zM1677 335h30v3h-30zM1686 338h30v3h-30zM606 341h3v3h-3zM1047 341h3v3h-3zM1695 341h33v3h-33zM1707 344h27v3h-27zM597 347h3v3h-3zM1056 347h3v3h-3zM1716 347h18v3h-18zM591 350h3v3h-3zM1725 350h9v3h-9zM1065 353h3v3h-3zM582 356h3v3h-3zM573 362h3v3h-3zM567 365h3v3h-3zM558 371h3v3h-3zM552 374h3v3h-3zM543 380h3v3h-3zM534 386h3v3h-3zM528 389h3v3h-3zM519 395h3v3h-3zM513 398h3v3h-3zM510 401h3v3h-3zM504 404h3v3h-3zM495 410h3v3h-3zM489 413h3v3h-3zM480 419h3v3h-3zM474 422h3v3h-3zM471 425h3v3h-3zM465 428h3v3h-3zM456 434h3v3h-3zM450 437h3v3h-3zM447 440h3v3h-3zM441 443h3v3h-3zM432 449h3v3h-3zM426 452h3v3h-3zM417 458h3v3h-3zM411 461h3v3h-3zM1707 461h27v3h-27zM408 464h3v3h-3zM1629 464h105v3h-105zM402 467h3v3h-3zM1563 467h171v3h-171zM1485 470h18v3h-18zM1536 470h198v3h-198zM393 473h3v3h-3zM1428 473h9v3h-9zM1542 473h192v3h-192zM387 476h3v3h-3zM1386 476h6v3h-6zM1545 476h189v3h-189zM384 479h3v3h-3zM1359 479h6v3h-6zM1551 479h183v3h-183zM378 482h3v3h-3zM1341 482h3v3h-3zM1557 482h177v3h-177zM372 485h3v3h-3zM1320 485h3v3h-3zM1560 485h174v3h-174zM369 488h3v3h-3zM1302 488h3v3h-3zM1566 488h168v3h-168zM363 491h3v3h-3zM1281 491h3v3h-3zM1569 491h165v3h-165zM1263 494h3v3h-3zM1575 494h159v3h-159zM369 497h6v3h-6zM1581 497h153v3h-153zM402 500h6v3h-6zM1224 500h3v3h-3zM1584 500h150v3h-150zM435 503h6v3h-6zM1206 503h3v3h-3zM1590 503h144v3h-144zM471 506h9v3h-9zM1188 506h3v3h-3zM1593 506h87v3h-87zM513 509h6v3h-6zM1167 509h3v3h-3zM1596 509h21v3h-21zM555 512h9v3h-9zM1149 512h3v3h-3zM1563 512h9v3h-9zM603 515h6v3h-6zM1128 515h3v3h-3zM1524 515h9v3h-9zM654 518h6v3h-6zM1107 518h3v3h-3zM1485 518h6v3h-6zM711 521h6v3h-6zM1083 521h3v3h-3zM1443 521h6v3h-6zM771 524h9v3h-9zM1059 524h3v3h-3zM1371 524h15v3h-15zM843 527h9v3h-9zM1026 527h6v3h-6zM1302 527h9v3h-9zM924 530h12v3h-12zM981 530h9v3h-9zM1245 530h6v3h-6zM1191 533h6v3h-6zM1137 536h6v3h-6zM975 539h15v3h-15zM1059 539h12v3h-12zM897 542h9v3h-9zM828 545h6v3h-6zM762 548h9v3h-9zM705 551h6v3h-6zM648 554h6v3h-6zM594 557h6v3h-6zM540 560h9v3h-9zM486 563h9v3h-9zM435 566h9v3h-9z"/>
<path fill="#48ea22" d="M1299 125h3v3h-3zM831 143h3v3h-3zM831 146h3v3h-3zM834 164h3v3h-3zM837 176h3v3h-3zM840 185h3v3h-3zM843 194h3v3h-3zM849 209h3v3h-3zM1302 209h3v3h-3zM1302 212h3v3h-3zM1305 215h6v3h-6zM1308 218h12v3h-12zM1317 221h15v3h-15zM1062 224h42v3h-42zM1326 224h15v3h-15zM1059 227h48v3h-48zM1338 227h15v3h-15zM1059 230h51v3h-51zM1347 230h18v3h-18zM834 233h3v3h-3zM1056 233h57v3h-57zM1359 233h15v3h-15zM1056 236h60v3h-60zM1368 236h18v3h-18zM1053 239h27v3h-27zM1092 239h27v3h-27zM1380 239h15v3h-15zM1050 242h12v3h-12zM1110 242h12v3h-12zM1389 242h18v3h-18zM1047 245h6v3h-6zM1119 245h6v3h-6zM1398 245h18v3h-18zM1044 248h3v3h-3zM1125 248h6v3h-6zM1410 248h18v3h-18zM831 251h3v3h-3zM1128 251h9v3h-9zM1419 251h18v3h-18zM1131 254h12v3h-12zM1431 254h18v3h-18zM807 257h3v3h-3zM1134 257h15v3h-15zM1440 257h21v3h-21zM807 260h3v3h-3zM1137 260h12v3h-12zM1449 260h21v3h-21zM801 263h9v3h-9zM1140 263h12v3h-12zM1461 263h21v3h-21zM1023 266h6v3h-6zM1140 266h12v3h-12zM1470 266h21v3h-21zM834 269h3v3h-3zM1020 269h9v3h-9zM1143 269h9v3h-9zM1482 269h21v3h-21zM789 272h3v3h-3zM1017 272h9v3h-9zM1143 272h12v3h-12zM1491 272h21v3h-21zM786 275h3v3h-3zM1011 275h15v3h-15zM1143 275h9v3h-9zM1503 275h21v3h-21zM1008 278h21v3h-21zM1143 278h6v3h-6zM1512 278h21v3h-21zM1005 281h24v3h-24zM1143 281h3v3h-3zM1521 281h24v3h-24zM1002 284h27v3h-27zM1140 284h3v3h-3zM1533 284h24v3h-24zM996 287h36v3h-36zM1542 287h24v3h-24zM768 290h3v3h-3zM993 290h39v3h-39zM1554 290h24v3h-24zM765 293h3v3h-3zM990 293h45v3h-45zM1563 293h24v3h-24zM987 296h51v3h-51zM1572 296h27v3h-27zM987 299h57v3h-57zM1584 299h24v3h-24zM990 302h57v3h-57zM1122 302h3v3h-3zM1593 302h27v3h-27zM993 305h63v3h-63zM1116 305h3v3h-3zM1605 305h24v3h-24zM996 308h69v3h-69zM1104 308h12v3h-12zM1614 308h27v3h-27zM654 311h6v3h-6zM666 311h3v3h-3zM744 311h3v3h-3zM999 311h114v3h-114zM1626 311h27v3h-27zM648 314h3v3h-3zM678 314h3v3h-3zM741 314h3v3h-3zM1005 314h105v3h-105zM1635 314h27v3h-27zM1011 317h96v3h-96zM1644 317h30v3h-30zM639 320h3v3h-3zM699 320h3v3h-3zM1014 320h90v3h-90zM1656 320h27v3h-27zM633 323h3v3h-3zM711 323h6v3h-6zM723 323h6v3h-6zM1020 323h81v3h-81zM1665 323h30v3h-30zM1026 326h72v3h-72zM1677 326h27v3h-27zM624 329h3v3h-3zM1029 329h66v3h-66zM1686 329h30v3h-30zM618 332h3v3h-3zM1035 332h60v3h-60zM1695 332h30v3h-30zM615 335h3v3h-3zM1041 335h51v3h-51zM1707 335h27v3h-27zM609 338h3v3h-3zM1044 338h48v3h-48zM1716 338h18v3h-18zM1050 341h39v3h-39zM1728 341h6v3h-6zM600 344h3v3h-3zM1053 344h36v3h-36zM594 347h3v3h-3zM1059 347h27v3h-27zM1062 350h21v3h-21zM585 353h3v3h-3zM1068 353h15v3h-15zM579 356h3v3h-3zM1071 356h9v3h-9zM576 359h3v3h-3zM1074 359h6v3h-6zM570 362h3v3h-3zM561 368h3v3h-3zM555 371h3v3h-3zM546 377h3v3h-3zM540 380h3v3h-3zM537 383h3v3h-3zM531 386h3v3h-3zM522 392h3v3h-3zM516 395h3v3h-3zM507 401h3v3h-3zM501 404h3v3h-3zM498 407h3v3h-3zM492 410h3v3h-3zM486 413h3v3h-3zM483 416h3v3h-3zM477 419h3v3h-3zM468 425h3v3h-3zM462 428h3v3h-3zM459 431h3v3h-3zM453 434h3v3h-3zM447 437h3v3h-3zM444 440h3v3h-3zM438 443h3v3h-3zM435 446h3v3h-3zM429 449h3v3h-3zM423 452h3v3h-3zM420 455h3v3h-3zM414 458h3v3h-3zM408 461h3v3h-3zM405 464h3v3h-3zM399 467h3v3h-3zM393 470h6v3h-6zM1503 470h33v3h-33zM390 473h3v3h-3zM1437 473h6v3h-6zM1506 473h36v3h-36zM384 476h3v3h-3zM1392 476h6v3h-6zM1509 476h36v3h-36zM381 479h3v3h-3zM1365 479h3v3h-3zM1515 479h36v3h-36zM375 482h3v3h-3zM1344 482h3v3h-3zM1518 482h39v3h-39zM369 485h3v3h-3zM1323 485h3v3h-3zM1524 485h36v3h-36zM366 488h3v3h-3zM1527 488h39v3h-39zM360 491h3v3h-3zM1284 491h3v3h-3zM1533 491h36v3h-36zM354 494h6v3h-6zM1266 494h3v3h-3zM1536 494h39v3h-39zM363 497h6v3h-6zM1245 497h3v3h-3zM1542 497h39v3h-39zM396 500h6v3h-6zM1227 500h3v3h-3zM1545 500h39v3h-39zM429 503h6v3h-6zM1209 503h3v3h-3zM1551 503h39v3h-39zM465 506h6v3h-6zM1191 506h3v3h-3zM1554 506h39v3h-39zM507 509h6v3h-6zM1170 509h3v3h-3zM1560 509h36v3h-36zM549 512h6v3h-6zM1152 512h3v3h-3zM1551 512h12v3h-12zM594 515h9v3h-9zM1131 515h3v3h-3zM1518 515h6v3h-6zM645 518h9v3h-9zM1110 518h3v3h-3zM1479 518h6v3h-6zM702 521h9v3h-9zM1086 521h3v3h-3zM1437 521h6v3h-6zM762 524h9v3h-9zM1062 524h3v3h-3zM1359 524h12v3h-12zM834 527h9v3h-9zM1032 527h3v3h-3zM1293 527h9v3h-9zM912 530h12v3h-12zM990 530h6v3h-6zM1236 530h9v3h-9zM1185 533h6v3h-6zM1128 536h9v3h-9zM966 539h3v3h-3zM990 539h27v3h-27zM1029 539h30v3h-30zM888 542h9v3h-9zM819 545h9v3h-9zM756 548h6v3h-6zM696 551h9v3h-9zM639 554h9v3h-9zM585 557h9v3h-9zM531 560h9v3h-9zM480 563h6v3h-6zM429 566h6v3h-6z"/>
<path fill="#5bec1b" d="M1299 122h3v3h-3zM831 149h3v3h-3zM831 152h3v3h-3zM834 167h3v3h-3zM837 179h3v3h-3zM840 188h3v3h-3zM843 197h3v3h-3zM1302 200h3v3h-3zM846 203h3v3h-3zM1302 203h3v3h-3zM1302 206h3v3h-3zM1305 212h9v3h-9zM1311 215h12v3h-12zM1320 218h15v3h-15zM846 221h3v3h-3zM1332 221h15v3h-15zM843 224h3v3h-3zM1341 224h15v3h-15zM840 227h3v3h-3zM1353 227h15v3h-15zM837 230h3v3h-3zM1365 230h15v3h-15zM1374 233h18v3h-18zM1386 236h15v3h-15zM1080 239h12v3h-12zM1395 239h18v3h-18zM822 242h3v3h-3zM1062 242h48v3h-48zM1407 242h18v3h-18zM819 245h3v3h-3zM1053 245h66v3h-66zM1416 245h18v3h-18zM816 248h3v3h-3zM1047 248h27v3h-27zM1095 248h30v3h-30zM1428 248h18v3h-18zM813 251h18v3h-18zM1044 251h18v3h-18zM1107 251h21v3h-21zM1437 251h21v3h-21zM810 254h3v3h-3zM834 254h3v3h-3zM1041 254h15v3h-15zM1113 254h18v3h-18zM1449 254h18v3h-18zM810 257h3v3h-3zM1038 257h12v3h-12zM1119 257h15v3h-15zM1461 257h18v3h-18zM804 260h3v3h-3zM810 260h3v3h-3zM1032 260h15v3h-15zM1122 260h15v3h-15zM1470 260h21v3h-21zM798 263h3v3h-3zM810 263h3v3h-3zM1029 263h15v3h-15zM1125 263h15v3h-15zM1482 263h21v3h-21zM795 266h3v3h-3zM810 266h3v3h-3zM1029 266h15v3h-15zM1128 266h12v3h-12zM1491 266h21v3h-21zM792 269h3v3h-3zM813 269h3v3h-3zM831 269h3v3h-3zM1029 269h12v3h-12zM1128 269h15v3h-15zM1503 269h21v3h-21zM1026 272h15v3h-15zM1128 272h15v3h-15zM1512 272h24v3h-24zM1026 275h15v3h-15zM1128 275h15v3h-15zM1524 275h21v3h-21zM1029 278h12v3h-12zM1128 278h15v3h-15zM1533 278h24v3h-24zM777 281h3v3h-3zM1029 281h12v3h-12zM1128 281h15v3h-15zM1545 281h24v3h-24zM774 284h3v3h-3zM1029 284h15v3h-15zM1125 284h15v3h-15zM1557 284h21v3h-21zM771 287h3v3h-3zM1032 287h15v3h-15zM1125 287h15v3h-15zM1566 287h24v3h-24zM1032 290h18v3h-18zM1122 290h15v3h-15zM1578 290h24v3h-24zM1035 293h18v3h-18zM1119 293h15v3h-15zM1587 293h27v3h-27zM1038 296h21v3h-21zM1113 296h18v3h-18zM1599 296h24v3h-24zM756 299h3v3h-3zM1044 299h21v3h-21zM1104 299h24v3h-24zM1608 299h27v3h-27zM753 302h3v3h-3zM1047 302h75v3h-75zM1620 302h27v3h-27zM750 305h3v3h-3zM1056 305h60v3h-60zM1629 305h27v3h-27zM747 308h3v3h-3zM1065 308h39v3h-39zM1641 308h27v3h-27zM651 311h3v3h-3zM669 311h6v3h-6zM1653 311h27v3h-27zM645 314h3v3h-3zM681 314h3v3h-3zM1662 314h27v3h-27zM642 317h3v3h-3zM690 317h3v3h-3zM735 317h3v3h-3zM1674 317h27v3h-27zM636 320h3v3h-3zM702 320h3v3h-3zM732 320h3v3h-3zM1683 320h30v3h-30zM630 323h3v3h-3zM717 323h6v3h-6zM1695 323h30v3h-30zM627 326h3v3h-3zM1704 326h30v3h-30zM621 329h3v3h-3zM1716 329h18v3h-18zM1725 332h9v3h-9zM612 335h3v3h-3zM606 338h3v3h-3zM603 341h3v3h-3zM597 344h3v3h-3zM591 347h3v3h-3zM588 350h3v3h-3zM582 353h3v3h-3zM576 356h3v3h-3zM573 359h3v3h-3zM567 362h3v3h-3zM561 365h6v3h-6zM558 368h3v3h-3zM552 371h3v3h-3zM549 374h3v3h-3zM543 377h3v3h-3zM537 380h3v3h-3zM534 383h3v3h-3zM528 386h3v3h-3zM522 389h6v3h-6zM519 392h3v3h-3zM513 395h3v3h-3zM507 398h6v3h-6zM504 401h3v3h-3zM498 404h3v3h-3zM492 407h6v3h-6zM489 410h3v3h-3zM483 413h3v3h-3zM480 416h3v3h-3zM474 419h3v3h-3zM468 422h6v3h-6zM465 425h3v3h-3zM459 428h3v3h-3zM453 431h6v3h-6zM450 434h3v3h-3zM444 437h3v3h-3zM438 440h6v3h-6zM435 443h3v3h-3zM429 446h6v3h-6zM423 449h6v3h-6zM420 452h3v3h-3zM414 455h6v3h-6zM411 458h3v3h-3zM405 461h3v3h-3zM399 464h6v3h-6zM396 467h3v3h-3zM390 470h3v3h-3zM384 473h6v3h-6zM1443 473h18v3h-18zM1473 473h33v3h-33zM381 476h3v3h-3zM1398 476h6v3h-6zM1482 476h27v3h-27zM375 479h6v3h-6zM1368 479h3v3h-3zM1485 479h30v3h-30zM369 482h6v3h-6zM1347 482h3v3h-3zM1491 482h27v3h-27zM366 485h3v3h-3zM1326 485h3v3h-3zM1494 485h30v3h-30zM360 488h6v3h-6zM1305 488h3v3h-3zM1500 488h27v3h-27zM354 491h6v3h-6zM1287 491h3v3h-3zM1503 491h30v3h-30zM351 494h3v3h-3zM1506 494h30v3h-30zM357 497h6v3h-6zM1248 497h3v3h-3zM1512 497h30v3h-30zM387 500h9v3h-9zM1230 500h3v3h-3zM1515 500h30v3h-30zM423 503h6v3h-6zM1212 503h3v3h-3zM1521 503h30v3h-30zM459 506h6v3h-6zM1524 506h30v3h-30zM498 509h9v3h-9zM1173 509h3v3h-3zM1530 509h30v3h-30zM543 512h6v3h-6zM1155 512h3v3h-3zM1533 512h18v3h-18zM588 515h6v3h-6zM1134 515h3v3h-3zM1509 515h9v3h-9zM639 518h6v3h-6zM1113 518h3v3h-3zM1473 518h6v3h-6zM696 521h6v3h-6zM1089 521h3v3h-3zM1431 521h6v3h-6zM756 524h6v3h-6zM1065 524h3v3h-3zM1350 524h9v3h-9zM822 527h12v3h-12zM1035 527h6v3h-6zM1284 527h9v3h-9zM900 530h12v3h-12zM996 530h9v3h-9zM1230 530h6v3h-6zM1176 533h9v3h-9zM1119 536h9v3h-9zM954 539h12v3h-12zM1017 539h12v3h-12zM876 542h12v3h-12zM807 545h12v3h-12zM747 548h9v3h-9zM690 551h6v3h-6zM633 554h6v3h-6zM579 557h6v3h-6zM525 560h6v3h-6zM474 563h6v3h-6zM423 566h6v3h-6z"/>
<path fill="#89ed14" d="M714 116h3v3h-3zM783 116h3v3h-3zM1299 116h3v3h-3zM714 119h3v3h-3zM783 119h3v3h-3zM714 122h3v3h-3zM783 122h3v3h-3zM714 125h3v3h-3zM783 125h3v3h-3zM714 128h3v3h-3zM783 128h3v3h-3zM714 131h3v3h-3zM783 131h3v3h-3zM714 134h3v3h-3zM714 137h6v3h-6zM717 140h3v3h-3zM717 143h3v3h-3zM717 146h3v3h-3zM786 146h3v3h-3zM717 149h3v3h-3zM786 149h3v3h-3zM717 152h3v3h-3zM786 152h3v3h-3zM717 155h3v3h-3zM786 155h3v3h-3zM717 158h3v3h-3zM786 158h3v3h-3zM717 161h3v3h-3zM786 161h3v3h-3zM717 164h3v3h-3zM717 167h3v3h-3zM717 170h3v3h-3zM789 170h3v3h-3zM720 173h3v3h-3zM789 173h3v3h-3zM720 176h3v3h-3zM789 176h3v3h-3zM720 179h3v3h-3zM789 179h3v3h-3zM1302 179h3v3h-3zM720 182h3v3h-3zM1302 182h3v3h-3zM720 185h3v3h-3zM792 185h3v3h-3zM1302 185h3v3h-3zM720 188h3v3h-3zM792 188h3v3h-3zM1302 188h3v3h-3zM720 191h6v3h-6zM792 191h3v3h-3zM723 194h3v3h-3zM723 197h3v3h-3zM795 197h3v3h-3zM723 200h3v3h-3zM795 200h3v3h-3zM723 203h3v3h-3zM1305 203h3v3h-3zM726 206h3v3h-3zM798 206h3v3h-3zM1305 206h12v3h-12zM726 209h3v3h-3zM798 209h3v3h-3zM1314 209h15v3h-15zM726 212h3v3h-3zM1326 212h15v3h-15zM726 215h3v3h-3zM801 215h3v3h-3zM1338 215h15v3h-15zM726 218h6v3h-6zM801 218h3v3h-3zM1350 218h15v3h-15zM729 221h3v3h-3zM1362 221h15v3h-15zM729 224h3v3h-3zM804 224h3v3h-3zM1374 224h15v3h-15zM729 227h3v3h-3zM804 227h3v3h-3zM1383 227h18v3h-18zM732 230h3v3h-3zM807 230h3v3h-3zM1395 230h18v3h-18zM732 233h3v3h-3zM807 233h3v3h-3zM1407 233h18v3h-18zM732 236h3v3h-3zM1419 236h18v3h-18zM732 239h6v3h-6zM810 239h3v3h-3zM1431 239h18v3h-18zM735 242h3v3h-3zM1443 242h18v3h-18zM735 245h3v3h-3zM804 245h3v3h-3zM1452 245h21v3h-21zM735 248h6v3h-6zM801 248h3v3h-3zM1464 248h21v3h-21zM738 251h3v3h-3zM798 251h3v3h-3zM1476 251h21v3h-21zM738 254h3v3h-3zM813 254h3v3h-3zM831 254h3v3h-3zM1074 254h21v3h-21zM1488 254h21v3h-21zM741 257h3v3h-3zM789 257h3v3h-3zM813 257h3v3h-3zM1065 257h39v3h-39zM1500 257h21v3h-21zM741 260h3v3h-3zM786 260h3v3h-3zM1059 260h15v3h-15zM1095 260h15v3h-15zM1512 260h21v3h-21zM741 263h3v3h-3zM783 263h3v3h-3zM1056 263h12v3h-12zM1104 263h9v3h-9zM1524 263h21v3h-21zM744 266h3v3h-3zM813 266h3v3h-3zM1053 266h9v3h-9zM1107 266h9v3h-9zM1533 266h24v3h-24zM744 269h3v3h-3zM774 269h3v3h-3zM1053 269h9v3h-9zM1110 269h9v3h-9zM1545 269h24v3h-24zM747 272h3v3h-3zM771 272h3v3h-3zM1050 272h9v3h-9zM1110 272h9v3h-9zM1557 272h24v3h-24zM747 275h3v3h-3zM768 275h3v3h-3zM1050 275h9v3h-9zM1110 275h9v3h-9zM1569 275h24v3h-24zM747 278h6v3h-6zM1050 278h9v3h-9zM1110 278h9v3h-9zM1581 278h24v3h-24zM750 281h3v3h-3zM759 281h3v3h-3zM1053 281h9v3h-9zM1107 281h12v3h-12zM1593 281h24v3h-24zM750 284h9v3h-9zM1053 284h12v3h-12zM1107 284h9v3h-9zM1602 284h27v3h-27zM1056 287h12v3h-12zM1101 287h12v3h-12zM1614 287h27v3h-27zM1062 290h18v3h-18zM1092 290h18v3h-18zM1626 290h27v3h-27zM1068 293h33v3h-33zM1638 293h27v3h-27zM1650 296h27v3h-27zM1662 299h27v3h-27zM1674 302h27v3h-27zM1683 305h30v3h-30zM1695 308h30v3h-30zM1707 311h27v3h-27zM1719 314h15v3h-15zM1731 317h3v3h-3zM1413 476h42v3h-42zM1374 479h12v3h-12zM1428 479h33v3h-33zM1353 482h6v3h-6zM1431 482h33v3h-33zM1332 485h6v3h-6zM1437 485h30v3h-30zM258 488h3v3h-3zM1314 488h6v3h-6zM1440 488h33v3h-33zM273 491h15v3h-15zM1293 491h6v3h-6zM1443 491h33v3h-33zM300 494h18v3h-18zM1275 494h3v3h-3zM1449 494h30v3h-30zM333 497h15v3h-15zM1254 497h6v3h-6zM1452 497h33v3h-33zM366 500h12v3h-12zM1236 500h6v3h-6zM1455 500h33v3h-33zM399 503h15v3h-15zM1218 503h3v3h-3zM1458 503h33v3h-33zM438 506h12v3h-12zM1197 506h6v3h-6zM1464 506h33v3h-33zM480 509h12v3h-12zM1179 509h6v3h-6zM1467 509h33v3h-33zM522 512h12v3h-12zM1158 512h6v3h-6zM1470 512h36v3h-36zM570 515h12v3h-12zM1140 515h3v3h-3zM1476 515h21v3h-21zM621 518h12v3h-12zM1119 518h3v3h-3zM1452 518h12v3h-12zM678 521h9v3h-9zM1095 521h6v3h-6zM1392 521h30v3h-30zM735 524h12v3h-12zM1071 524h6v3h-6zM1320 524h18v3h-18zM801 527h12v3h-12zM1044 527h6v3h-6zM1260 527h15v3h-15zM876 530h15v3h-15zM1008 530h6v3h-6zM1209 530h12v3h-12zM963 533h6v3h-6zM1158 533h12v3h-12zM1098 536h15v3h-15zM933 539h12v3h-12zM855 542h12v3h-12zM789 545h12v3h-12zM729 548h12v3h-12zM675 551h9v3h-9zM618 554h9v3h-9zM561 557h12v3h-12zM507 560h12v3h-12zM453 563h12v3h-12zM399 566h15v3h-15z"/>
<path fill="#9fee11" d="M717 116h66v3h-66zM717 119h66v3h-66zM717 122h66v3h-66zM717 125h66v3h-66zM717 128h66v3h-66zM717 131h66v3h-66zM717 134h69v3h-69zM720 137h66v3h-66zM720 140h66v3h-66zM720 143h66v3h-66zM720 146h66v3h-66zM720 149h66v3h-66zM720 152h66v3h-66zM720 155h66v3h-66zM720 158h66v3h-66zM720 161h66v3h-66zM720 164h69v3h-69zM720 167h69v3h-69zM720 170h69v3h-69zM1302 170h3v3h-3zM723 173h66v3h-66zM1302 173h3v3h-3zM723 176h66v3h-66zM1302 176h3v3h-3zM723 179h66v3h-66zM723 182h69v3h-69zM723 185h69v3h-69zM723 188h69v3h-69zM726 191h66v3h-66zM726 194h69v3h-69zM726 197h69v3h-69zM726 200h69v3h-69zM1305 200h3v3h-3zM726 203h72v3h-72zM1308 203h9v3h-9zM729 206h69v3h-69zM1317 206h12v3h-12zM729 209h69v3h-69zM1329 209h12v3h-12zM729 212h72v3h-72zM1341 212h15v3h-15zM729 215h72v3h-72zM1353 215h15v3h-15zM732 218h69v3h-69zM1365 218h15v3h-15zM732 221h72v3h-72zM1377 221h15v3h-15zM732 224h72v3h-72zM1389 224h15v3h-15zM732 227h72v3h-72zM1401 227h15v3h-15zM735 230h72v3h-72zM1413 230h15v3h-15zM735 233h72v3h-72zM1425 233h18v3h-18zM735 236h75v3h-75zM1437 236h18v3h-18zM738 239h72v3h-72zM1449 239h18v3h-18zM738 242h72v3h-72zM1461 242h18v3h-18zM738 245h66v3h-66zM1473 245h18v3h-18zM741 248h60v3h-60zM1485 248h18v3h-18zM741 251h57v3h-57zM1497 251h18v3h-18zM741 254h54v3h-54zM816 254h15v3h-15zM1509 254h21v3h-21zM744 257h45v3h-45zM816 257h3v3h-3zM831 257h3v3h-3zM1521 257h21v3h-21zM744 260h42v3h-42zM813 260h3v3h-3zM831 260h3v3h-3zM1074 260h21v3h-21zM1533 260h21v3h-21zM744 263h39v3h-39zM813 263h3v3h-3zM831 263h3v3h-3zM1068 263h36v3h-36zM1545 263h21v3h-21zM747 266h33v3h-33zM816 266h18v3h-18zM1062 266h15v3h-15zM1092 266h15v3h-15zM1557 266h21v3h-21zM747 269h27v3h-27zM1062 269h9v3h-9zM1098 269h12v3h-12zM1569 269h21v3h-21zM750 272h21v3h-21zM1059 272h12v3h-12zM1101 272h9v3h-9zM1581 272h21v3h-21zM750 275h18v3h-18zM1059 275h9v3h-9zM1101 275h9v3h-9zM1593 275h24v3h-24zM753 278h12v3h-12zM1059 278h12v3h-12zM1101 278h9v3h-9zM1605 278h24v3h-24zM753 281h6v3h-6zM1062 281h12v3h-12zM1098 281h9v3h-9zM1617 281h24v3h-24zM1065 284h15v3h-15zM1089 284h18v3h-18zM1629 284h24v3h-24zM1068 287h33v3h-33zM1641 287h24v3h-24zM1080 290h12v3h-12zM1653 290h24v3h-24zM1665 293h27v3h-27zM1677 296h27v3h-27zM1689 299h27v3h-27zM1701 302h27v3h-27zM1713 305h21v3h-21zM1725 308h9v3h-9zM1386 479h42v3h-42zM1359 482h72v3h-72zM1338 485h99v3h-99zM1320 488h120v3h-120zM258 491h15v3h-15zM1299 491h144v3h-144zM258 494h42v3h-42zM1278 494h171v3h-171zM258 497h75v3h-75zM1260 497h192v3h-192zM258 500h108v3h-108zM1242 500h213v3h-213zM258 503h141v3h-141zM1221 503h237v3h-237zM258 506h180v3h-180zM1203 506h261v3h-261zM258 509h222v3h-222zM1185 509h282v3h-282zM258 512h264v3h-264zM1164 512h306v3h-306zM258 515h312v3h-312zM1143 515h333v3h-333zM258 518h363v3h-363zM1122 518h330v3h-330zM258 521h348v3h-348zM654 521h24v3h-24zM1101 521h291v3h-291zM258 524h345v3h-345zM690 524h45v3h-45zM1077 524h243v3h-243zM258 527h342v3h-342zM687 527h114v3h-114zM1050 527h210v3h-210zM258 530h342v3h-342zM684 530h192v3h-192zM1014 530h195v3h-195zM258 533h339v3h-339zM684 533h279v3h-279zM969 533h189v3h-189zM258 536h336v3h-336zM681 536h417v3h-417zM258 539h333v3h-333zM678 539h255v3h-255zM258 542h330v3h-330zM678 542h177v3h-177zM258 545h327v3h-327zM675 545h114v3h-114zM258 548h324v3h-324zM672 548h57v3h-57zM258 551h321v3h-321zM651 551h24v3h-24zM258 554h318v3h-318zM591 554h27v3h-27zM258 557h303v3h-303zM258 560h249v3h-249zM258 563h195v3h-195zM258 566h141v3h-141z"/>
<path fill="#b3ee0c" d="M1302 161h3v3h-3zM1302 164h3v3h-3zM1302 167h3v3h-3zM1305 197h3v3h-3zM1308 200h9v3h-9zM1317 203h12v3h-12zM1329 206h15v3h-15zM1341 209h15v3h-15zM1356 212h12v3h-12zM1368 215h15v3h-15zM1380 218h15v3h-15zM1392 221h15v3h-15zM1404 224h18v3h-18zM1416 227h18v3h-18zM1428 230h18v3h-18zM1443 233h18v3h-18zM1455 236h18v3h-18zM1467 239h18v3h-18zM1479 242h18v3h-18zM1491 245h21v3h-21zM1503 248h21v3h-21zM1515 251h21v3h-21zM1530 254h21v3h-21zM819 257h12v3h-12zM1542 257h21v3h-21zM816 260h15v3h-15zM1554 260h21v3h-21zM816 263h15v3h-15zM1566 263h24v3h-24zM1077 266h15v3h-15zM1578 266h24v3h-24zM1071 269h27v3h-27zM1590 269h24v3h-24zM1071 272h30v3h-30zM1602 272h24v3h-24zM1068 275h33v3h-33zM1617 275h24v3h-24zM1071 278h30v3h-30zM1629 278h24v3h-24zM1074 281h24v3h-24zM1641 281h24v3h-24zM1080 284h9v3h-9zM1653 284h27v3h-27zM1665 287h27v3h-27zM1677 290h27v3h-27zM1692 293h27v3h-27zM1704 296h27v3h-27zM1716 299h18v3h-18zM1728 302h6v3h-6zM606 521h48v3h-48zM603 524h87v3h-87zM600 527h87v3h-87zM600 530h84v3h-84zM597 533h87v3h-87zM594 536h87v3h-87zM591 539h87v3h-87zM588 542h90v3h-90zM585 545h90v3h-90zM582 548h90v3h-90zM579 551h72v3h-72zM576 554h15v3h-15z"/>
<path fill="#c5ed08" d="M1302 155h3v3h-3zM1302 158h3v3h-3zM1305 191h3v3h-3zM1305 194h3v3h-3zM1308 197h9v3h-9zM1317 200h15v3h-15zM1329 203h15v3h-15zM1344 206h12v3h-12zM1356 209h15v3h-15zM1368 212h15v3h-15zM1383 215h15v3h-15zM1395 218h15v3h-15zM1407 221h18v3h-18zM1422 224h15v3h-15zM1434 227h18v3h-18zM1446 230h18v3h-18zM1461 233h18v3h-18zM1473 236h18v3h-18zM1485 239h21v3h-21zM1497 242h21v3h-21zM1512 245h18v3h-18zM1524 248h21v3h-21zM1536 251h21v3h-21zM1551 254h21v3h-21zM1563 257h21v3h-21zM1575 260h24v3h-24zM1590 263h21v3h-21zM1602 266h24v3h-24zM1614 269h24v3h-24zM1626 272h27v3h-27zM1641 275h24v3h-24zM1653 278h27v3h-27zM1665 281h27v3h-27zM1680 284h24v3h-24zM1692 287h27v3h-27zM1704 290h27v3h-27zM1719 293h15v3h-15zM1731 296h3v3h-3z"/>
<path fill="#d7ec03" d="M1302 152h3v3h-3zM1305 188h3v3h-3zM1308 194h9v3h-9zM1317 197h12v3h-12zM1332 200h12v3h-12zM1344 203h15v3h-15zM1356 206h15v3h-15zM1371 209h15v3h-15zM1383 212h15v3h-15zM1398 215h15v3h-15zM1410 218h18v3h-18zM1425 221h15v3h-15zM1437 224h18v3h-18zM1452 227h18v3h-18zM1464 230h18v3h-18zM1479 233h18v3h-18zM1491 236h18v3h-18zM1506 239h18v3h-18zM1518 242h21v3h-21zM1530 245h21v3h-21zM1545 248h21v3h-21zM1557 251h24v3h-24zM1572 254h21v3h-21zM1584 257h24v3h-24zM1599 260h21v3h-21zM1611 263h24v3h-24zM1626 266h24v3h-24zM1638 269h24v3h-24zM1653 272h24v3h-24zM1665 275h27v3h-27zM1680 278h24v3h-24zM1692 281h27v3h-27zM1704 284h27v3h-27zM1719 287h15v3h-15zM1731 290h3v3h-3z"/>
<path fill="#e6e400" d="M1302 146h3v3h-3zM1302 149h3v3h-3zM1305 185h3v3h-3zM1308 191h6v3h-6zM1317 194h12v3h-12zM1329 197h15v3h-15zM1344 200h15v3h-15zM1359 203h12v3h-12zM1371 206h15v3h-15zM1386 209h15v3h-15zM1398 212h18v3h-18zM1413 215h15v3h-15zM1428 218h15v3h-15zM1440 221h18v3h-18zM1455 224h18v3h-18zM1470 227h18v3h-18zM1482 230h18v3h-18zM1497 233h18v3h-18zM1509 236h21v3h-21zM1524 239h21v3h-21zM1539 242h21v3h-21zM1551 245h21v3h-21zM1566 248h21v3h-21zM1581 251h21v3h-21zM1593 254h24v3h-24zM1608 257h24v3h-24zM1620 260h24v3h-24zM1635 263h24v3h-24zM1650 266h24v3h-24zM1662 269h27v3h-27zM1677 272h27v3h-27zM1692 275h24v3h-24zM1704 278h27v3h-27zM1719 281h15v3h-15zM1731 284h3v3h-3z"/>
<path fill="#ebc900" d="M1302 143h3v3h-3zM1305 179h3v3h-3zM1305 182h3v3h-3zM1308 188h3v3h-3zM1314 191h12v3h-12zM1329 194h12v3h-12zM1344 197h12v3h-12zM1359 200h12v3h-12zM1371 203h15v3h-15zM1386 206h15v3h-15zM1401 209h15v3h-15zM1416 212h15v3h-15zM1428 215h18v3h-18zM1443 218h18v3h-18zM1458 221h18v3h-18zM1473 224h18v3h-18zM1488 227h18v3h-18zM1500 230h21v3h-21zM1515 233h21v3h-21zM1530 236h21v3h-21zM1545 239h21v3h-21zM1560 242h21v3h-21zM1572 245h24v3h-24zM1587 248h24v3h-24zM1602 251h24v3h-24zM1617 254h24v3h-24zM1632 257h24v3h-24zM1644 260h27v3h-27zM1659 263h27v3h-27zM1674 266h24v3h-24zM1689 269h24v3h-24zM1704 272h24v3h-24zM1716 275h18v3h-18zM1731 278h3v3h-3z"/>
<path fill="#f1ae00" d="M1302 137h3v3h-3zM1302 140h3v3h-3zM1305 176h3v3h-3zM1308 185h3v3h-3zM1311 188h12v3h-12zM1326 191h15v3h-15zM1341 194h15v3h-15zM1356 197h15v3h-15zM1371 200h15v3h-15zM1386 203h15v3h-15zM1401 206h15v3h-15zM1416 209h15v3h-15zM1431 212h18v3h-18zM1446 215h18v3h-18zM1461 218h18v3h-18zM1476 221h18v3h-18zM1491 224h18v3h-18zM1506 227h18v3h-18zM1521 230h21v3h-21zM1536 233h21v3h-21zM1551 236h21v3h-21zM1566 239h21v3h-21zM1581 242h21v3h-21zM1596 245h21v3h-21zM1611 248h21v3h-21zM1626 251h24v3h-24zM1641 254h24v3h-24zM1656 257h24v3h-24zM1671 260h24v3h-24zM1686 263h24v3h-24zM1698 266h27v3h-27zM1713 269h21v3h-21zM1728 272h6v3h-6z"/>
<path fill="#f28b00" d="M1302 134h3v3h-3zM1305 173h3v3h-3zM1311 185h9v3h-9zM1323 188h15v3h-15zM1341 191h12v3h-12zM1356 194h12v3h-12zM1371 197h15v3h-15zM1386 200h15v3h-15zM1401 203h15v3h-15zM1416 206h18v3h-18zM1431 209h18v3h-18zM1449 212h15v3h-15zM1464 215h18v3h-18zM1479 218h18v3h-18zM1494 221h18v3h-18zM1509 224h21v3h-21zM1524 227h21v3h-21zM1542 230h18v3h-18zM1557 233h21v3h-21zM1572 236h21v3h-21zM1587 239h21v3h-21zM1602 242h24v3h-24zM1617 245h24v3h-24zM1632 248h24v3h-24zM1650 251h24v3h-24zM1665 254h24v3h-24zM1680 257h24v3h-24zM1695 260h27v3h-27zM1710 263h24v3h-24zM1725 266h9v3h-9z"/>
<path fill="#ef6200" d="M1302 128h3v3h-3zM1302 131h3v3h-3zM1305 167h3v3h-3zM1305 170h3v3h-3zM1308 182h9v3h-9zM1320 185h15v3h-15zM1338 188h12v3h-12zM1353 191h15v3h-15zM1368 194h15v3h-15zM1386 197h15v3h-15zM1401 200h15v3h-15zM1416 203h18v3h-18zM1434 206h15v3h-15zM1449 209h18v3h-18zM1464 212h18v3h-18zM1482 215h18v3h-18zM1497 218h18v3h-18zM1512 221h21v3h-21zM1530 224h18v3h-18zM1545 227h21v3h-21zM1560 230h21v3h-21zM1578 233h21v3h-21zM1593 236h21v3h-21zM1608 239h24v3h-24zM1626 242h21v3h-21zM1641 245h24v3h-24zM1656 248h27v3h-27zM1674 251h24v3h-24zM1689 254h27v3h-27zM1704 257h27v3h-27zM1722 260h12v3h-12z"/>
<path fill="#eb3900" d="M1302 122h3v3h-3zM1302 125h3v3h-3zM1305 158h3v3h-3zM1305 161h3v3h-3zM1305 164h3v3h-3zM1308 179h6v3h-6zM1317 182h12v3h-12zM1335 185h12v3h-12zM1350 188h15v3h-15zM1368 191h12v3h-12zM1383 194h15v3h-15zM1401 197h15v3h-15zM1416 200h18v3h-18zM1434 203h15v3h-15zM1449 206h18v3h-18zM1467 209h18v3h-18zM1482 212h18v3h-18zM1500 215h18v3h-18zM1515 218h21v3h-21zM1533 221h21v3h-21zM1548 224h21v3h-21zM1566 227h21v3h-21zM1581 230h24v3h-24zM1599 233h21v3h-21zM1614 236h24v3h-24zM1632 239h24v3h-24zM1647 242h27v3h-27zM1665 245h24v3h-24zM1683 248h24v3h-24zM1698 251h27v3h-27zM1716 254h18v3h-18zM1731 257h3v3h-3z"/>
<path fill="#e81000" d="M1302 116h432v3h-432zM1302 119h432v3h-432zM1305 122h429v3h-429zM1305 125h429v3h-429zM1305 128h429v3h-429zM1305 131h429v3h-429zM1305 134h429v3h-429zM1305 137h429v3h-429zM1305 140h429v3h-429zM1305 143h429v3h-429zM1305 146h429v3h-429zM1305 149h429v3h-429zM1305 152h429v3h-429zM1305 155h429v3h-429zM1308 158h426v3h-426zM1308 161h426v3h-426zM1308 164h426v3h-426zM1308 167h426v3h-426zM1308 170h426v3h-426zM1308 173h426v3h-426zM1308 176h426v3h-426zM1314 179h420v3h-420zM1329 182h405v3h-405zM1347 185h387v3h-387zM1365 188h369v3h-369zM1380 191h354v3h-354zM1398 194h336v3h-336zM1416 197h318v3h-318zM1434 200h300v3h-300zM1449 203h285v3h-285zM1467 206h267v3h-267zM1485 209h249v3h-249zM1500 212h234v3h-234zM1518 215h216v3h-216zM1536 218h198v3h-198zM1554 221h180v3h-180zM1569 224h165v3h-165zM1587 227h147v3h-147zM1605 230h129v3h-129zM1620 233h114v3h-114zM1638 236h96v3h-96zM1656 239h78v3h-78zM1674 242h60v3h-60zM1689 245h45v3h-45zM1707 248h27v3h-27zM1725 251h9v3h-9z"/>
</g>
<defs><clipPath id="beamclip"><path clip-rule="evenodd" d="M0 0H1836V686H0Z M984 298L1010 276L1038 256L1056 234L1067 208L1074 182L1098 194L1106 224L1124 244L1150 258L1156 276L1132 298L1102 324L1078 364L1040 338L1000 314Z"/></clipPath></defs>
<g clip-path="url(#beamclip)">
<path d="M964.6 127.0L905.4 264.7L912.7 269.4L964.9 127.3Z" fill="#19d459" fill-opacity="0.92"/>
<path d="M905.4 264.7L875.8 333.6L886.5 340.5L912.7 269.4Z" fill="#1bc37f" fill-opacity="0.85"/>
<path d="M875.8 333.6L811.9 482.3L830.1 494.1L886.5 340.5Z" fill="#21b3a1" fill-opacity="0.85"/>
<path d="M966.2 127.8L938.4 280.8L946.9 282.9L966.6 127.9Z" fill="#20e139" fill-opacity="0.92"/>
<path d="M938.4 280.8L924.6 357.3L937.0 360.4L946.9 282.9Z" fill="#18cc6c" fill-opacity="0.85"/>
<path d="M924.6 357.3L894.6 522.5L915.7 527.7L937.0 360.4Z" fill="#1fb69a" fill-opacity="0.85"/>
<path d="M967.7 128.0L971.2 284.9L978.4 284.4L968.1 128.0Z" fill="#31e52f" fill-opacity="0.92"/>
<path d="M971.2 284.9L972.9 363.4L983.5 362.6L978.4 284.4Z" fill="#18cf65" fill-opacity="0.85"/>
<path d="M972.9 363.4L976.6 532.9L994.7 531.6L983.5 362.6Z" fill="#1fb69a" fill-opacity="0.85"/>
<path d="M969.3 127.7L1003.7 278.5L1011.4 275.3L969.6 127.5Z" fill="#20e139" fill-opacity="0.92"/>
<path d="M1003.7 278.5L1020.8 353.8L1032.3 349.1L1011.4 275.3Z" fill="#18cc6c" fill-opacity="0.85"/>
<path d="M1020.8 353.8L1058.0 516.7L1077.3 508.6L1032.3 349.1Z" fill="#1fb69a" fill-opacity="0.85"/>
<path d="M970.7 126.9L1034.0 261.6L1040.8 256.0L971.0 126.6Z" fill="#19d459" fill-opacity="0.92"/>
<path d="M1034.0 261.6L1065.6 329.0L1075.7 320.7L1040.8 256.0Z" fill="#1bc37f" fill-opacity="0.85"/>
<path d="M1065.6 329.0L1134.0 474.5L1151.1 460.4L1075.7 320.7Z" fill="#21b3a1" fill-opacity="0.85"/>
</g>
<path d="M973.4 296.6L974.5 331.9L981.5 331.4L979.2 296.2Z" fill="#31e52f" fill-opacity="0.9"/>
<path d="M788.2 252.0A207.0 263.8 0 0 0 1121.4 296.6" fill="none" stroke="#1adc46" stroke-width="1.3" stroke-opacity="0.9"/>
<path d="M785.0 254.4A210.7 268.5 0 0 0 1124.2 299.8" fill="none" stroke="#19d459" stroke-width="1.0" stroke-opacity="0.9"/>
<path d="M781.3 257.1A215.1 274.0 0 0 0 1127.4 303.5" fill="none" stroke="#1adc46" stroke-width="1.3" stroke-opacity="0.9"/>
<path d="M797.9 245.0A196.0 249.6 0 0 0 1113.2 287.2" fill="none" stroke="#1bc47d" stroke-width="1.0" stroke-opacity="0.9"/>
<path d="M806.4 238.7A186.1 237.1 0 0 0 1105.8 278.8" fill="none" stroke="#1cc085" stroke-width="0.9" stroke-opacity="0.9"/>
<path d="M843.5 199.1A138.6 176.6 0 0 0 980.8 296.0" fill="none" stroke="#54ec1c" stroke-width="2.2" stroke-opacity="1.0"/>
<path d="M831.4 207.0L850.0 235.0L870.0 258.0L892.0 277.0L926.0 298.0L952.6 303.7L985.0 306.0" fill="none" stroke="#64ec1a" stroke-width="2.0" stroke-opacity="0.9" stroke-linecap="round" stroke-linejoin="round"/>
<path d="M891.8 287.4A151.6 193.1 0 0 0 978.1 312.8" fill="none" stroke="#1adc46" stroke-width="1.0" stroke-opacity="0.7"/>
<path d="M945.5 134.2A24.6 31.4 0 0 0 990.2 132.6" fill="none" stroke="#23adad" stroke-width="0.8" stroke-opacity="0.35"/>
<path d="M933.4 141.9A38.2 48.7 0 0 0 1002.6 139.5" fill="none" stroke="#23adad" stroke-width="0.8" stroke-opacity="0.35"/>
<path d="M921.2 149.6A51.8 65.9 0 0 0 1015.0 146.4" fill="none" stroke="#23adad" stroke-width="0.8" stroke-opacity="0.35"/>
<path d="M909.1 157.3A65.3 83.2 0 0 0 1027.5 153.2" fill="none" stroke="#23adad" stroke-width="0.8" stroke-opacity="0.35"/>
<path d="M897.0 165.0A78.9 100.5 0 0 0 1039.9 160.1" fill="none" stroke="#23adad" stroke-width="0.8" stroke-opacity="0.35"/>
<path d="M884.9 172.8A92.4 117.8 0 0 0 1052.4 167.0" fill="none" stroke="#23adad" stroke-width="0.8" stroke-opacity="0.35"/>
<path d="M872.7 180.5A106.0 135.0 0 0 0 1064.8 173.9" fill="none" stroke="#23adad" stroke-width="0.8" stroke-opacity="0.35"/>
<path d="M860.6 188.2A119.5 152.3 0 0 0 1077.2 180.7" fill="none" stroke="#23adad" stroke-width="0.8" stroke-opacity="0.35"/>
<path d="M812.0 262.0L836.0 259.5L860.0 262.0L900.0 264.5L930.0 263.5L960.0 261.0L993.0 257.5" fill="none" stroke="#64ec1a" stroke-width="3.2" stroke-opacity="1.0" stroke-linecap="round" stroke-linejoin="round"/>
<path d="M945.0 261.8L970.0 259.6L990.0 257.8" fill="none" stroke="#b1ee0d" stroke-width="1.8" stroke-opacity="1.0" stroke-linecap="round" stroke-linejoin="round"/>
<path d="M806.0 292.0L830.0 308.0L860.0 333.0L885.0 347.0L905.0 354.0L930.0 355.0L956.0 351.0" fill="none" stroke="#64ec1a" stroke-width="2.4" stroke-opacity="1.0" stroke-linecap="round" stroke-linejoin="round"/>
<path d="M956.0 351.0L966.0 340.0L978.0 327.0L990.0 312.0" fill="none" stroke="#31e52f" stroke-width="2.6" stroke-opacity="1.0" stroke-linecap="round" stroke-linejoin="round"/>
<path d="M1176.9 396.3A301.3 383.9 0 0 0 1242.8 276.3" fill="none" stroke="#64ec1a" stroke-width="1.8" stroke-opacity="1.0"/>
<path d="M1151.6 363.0A265.0 337.6 0 0 0 1187.2 308.9" fill="none" stroke="#3de729" stroke-width="1.6" stroke-opacity="1.0"/>
<path d="M1154.0 368.0L1168.0 336.0L1182.5 300.6" fill="none" stroke="#74ed17" stroke-width="2" stroke-opacity="1.0" stroke-linecap="round" stroke-linejoin="round"/>
<path d="M992.0 301.0L1016.0 282.0L1043.0 261.0L1061.0 239.0L1071.0 213.0L1077.0 192.0" fill="none" stroke="#beed0a" stroke-width="8" stroke-opacity="0.6" stroke-linecap="round" stroke-linejoin="round"/>
<path d="M984.0 298.0L1010.0 276.0L1038.0 256.0L1056.0 234.0L1067.0 208.0L1074.0 182.0" fill="none" stroke="#84ed15" stroke-width="2.2" stroke-opacity="0.9" stroke-linecap="round" stroke-linejoin="round"/>
<path d="M1000.0 314.0L1040.0 338.0L1075.0 362.0" fill="none" stroke="#48ea22" stroke-width="1.8" stroke-opacity="0.7" stroke-linecap="round" stroke-linejoin="round"/>
<path d="M660.0 384.4A371.0 472.6 0 0 0 683.4 423.9" fill="none" stroke="#2be432" stroke-width="1.6" stroke-opacity="1.0"/>
<path d="M583.2 369.6A431.3 549.5 0 0 0 610.0 427.4" fill="none" stroke="#3de729" stroke-width="1.8" stroke-opacity="1.0"/>
<path d="M574.2 458.2A474.5 604.4 0 0 0 598.8 500.5" fill="none" stroke="#a4ee10" stroke-width="1.8" stroke-opacity="1.0"/>
<path d="M647.7 323.3A357.4 455.3 0 0 0 661.2 354.6" fill="none" stroke="#2be432" stroke-width="2" stroke-opacity="1.0"/>
<path d="M1365.0 553.3A523.1 666.4 0 0 0 1405.9 483.7" fill="none" stroke="#75ed17" stroke-width="1.7" stroke-opacity="0.46"/>
<path d="M951.6 140.8A22.7 29.0 0 0 0 988.4 131.7" fill="none" stroke="#2999d3" stroke-width="1.1" stroke-opacity="0.45"/>
<path d="M1377.2 401.2A465.3 592.7 0 0 0 1394.4 355.9" fill="none" stroke="#20b3a0" stroke-width="1.1" stroke-opacity="0.7"/>
<path d="M1000.5 303.7A147.8 188.3 0 0 0 1016.9 297.7" fill="none" stroke="#1adc45" stroke-width="1.3" stroke-opacity="0.53"/>
<path d="M772.3 244.4A218.3 278.1 0 0 0 781.8 266.2" fill="none" stroke="#c3ed08" stroke-width="1.2" stroke-opacity="0.42"/>
<path d="M971.8 147.0A21.5 27.4 0 0 0 987.3 131.0" fill="none" stroke="#24aab2" stroke-width="1.7" stroke-opacity="0.53"/>
<path d="M953.9 236.5A92.3 117.6 0 0 0 1002.6 229.0" fill="none" stroke="#289ad1" stroke-width="1.0" stroke-opacity="0.56"/>
<path d="M835.0 507.1A331.4 422.2 0 0 0 857.8 518.5" fill="none" stroke="#289bd0" stroke-width="1.4" stroke-opacity="0.69"/>
<path d="M750.2 507.7A373.9 476.3 0 0 0 785.8 536.5" fill="none" stroke="#18cc6b" stroke-width="1.1" stroke-opacity="0.69"/>
<path d="M1026.1 260.4A124.7 158.9 0 0 0 1080.4 187.7" fill="none" stroke="#96ee12" stroke-width="1.0" stroke-opacity="0.55"/>
<path d="M1097.8 266.9A173.8 221.5 0 0 0 1126.2 210.7" fill="none" stroke="#29e334" stroke-width="1.5" stroke-opacity="0.66"/>
<path d="M773.3 491.4A350.2 446.2 0 0 0 787.4 502.7" fill="none" stroke="#23abb0" stroke-width="1.4" stroke-opacity="0.51"/>
<path d="M1117.6 419.1A278.5 354.8 0 0 0 1130.7 407.8" fill="none" stroke="#2996d6" stroke-width="1.8" stroke-opacity="0.39"/>
<path d="M1293.1 499.6A441.3 562.1 0 0 0 1317.6 462.4" fill="none" stroke="#22e237" stroke-width="1.2" stroke-opacity="0.59"/>
<path d="M913.5 269.2A128.9 164.2 0 0 0 982.8 283.2" fill="none" stroke="#26a2c3" stroke-width="1.4" stroke-opacity="0.63"/>
<path d="M904.9 333.4A178.7 227.7 0 0 0 930.4 342.9" fill="none" stroke="#23acae" stroke-width="1.2" stroke-opacity="0.55"/>
<path d="M1162.0 294.3A237.7 302.8 0 0 0 1184.3 244.4" fill="none" stroke="#1dbe89" stroke-width="1.4" stroke-opacity="0.53"/>
<path d="M755.6 458.8A340.0 433.1 0 0 0 769.6 472.3" fill="none" stroke="#2992db" stroke-width="1.7" stroke-opacity="0.67"/>
<path d="M972.4 259.2A109.2 139.1 0 0 0 1018.0 243.6" fill="none" stroke="#26a3c1" stroke-width="1.8" stroke-opacity="0.46"/>
<path d="M925.2 188.6A68.4 87.2 0 0 0 989.0 202.9" fill="none" stroke="#25a5bc" stroke-width="1.7" stroke-opacity="0.39"/>
<path d="M1326.4 446.6A440.9 561.7 0 0 0 1336.1 428.4" fill="none" stroke="#2995d8" stroke-width="1.1" stroke-opacity="0.36"/>
<path d="M809.6 313.7A219.1 279.2 0 0 0 851.2 356.7" fill="none" stroke="#27a1c6" stroke-width="1.5" stroke-opacity="0.41"/>
<path d="M935.8 140.4A35.5 45.2 0 0 0 991.0 154.2" fill="none" stroke="#24a8b7" stroke-width="1.4" stroke-opacity="0.58"/>
<path d="M992.9 338.0A172.9 220.2 0 0 0 1009.4 333.8" fill="none" stroke="#18d160" stroke-width="1.7" stroke-opacity="0.69"/>
<path d="M931.9 180.7A59.4 75.7 0 0 0 965.5 195.8" fill="none" stroke="#27a2c3" stroke-width="1.2" stroke-opacity="0.63"/>
<path d="M1006.6 268.4A122.7 156.3 0 0 0 1066.8 212.2" fill="none" stroke="#27a0c7" stroke-width="1.4" stroke-opacity="0.57"/>
<path d="M976.2 242.2A96.2 122.5 0 0 0 1029.2 214.2" fill="none" stroke="#24a8b8" stroke-width="1.5" stroke-opacity="0.46"/>
<path d="M834.4 204.9A148.9 189.6 0 0 0 856.0 245.8" fill="none" stroke="#4bea21" stroke-width="1.8" stroke-opacity="0.55"/>
<path d="M782.9 460.4A324.7 413.6 0 0 0 822.5 490.2" fill="none" stroke="#20b59c" stroke-width="1.2" stroke-opacity="0.39"/>
<path d="M981.5 280.2A126.4 161.1 0 0 0 1047.2 245.3" fill="none" stroke="#289ad1" stroke-width="1.1" stroke-opacity="0.54"/>
<path d="M869.8 368.7A218.2 278.0 0 0 0 912.8 389.2" fill="none" stroke="#25a6bb" stroke-width="1.2" stroke-opacity="0.55"/>
<path d="M1005.1 211.7A81.1 103.3 0 0 0 1023.8 194.5" fill="none" stroke="#2994d9" stroke-width="1.7" stroke-opacity="0.38"/>
<path d="M841.2 373.8A235.8 300.4 0 0 0 907.2 410.6" fill="none" stroke="#2995d7" stroke-width="1.7" stroke-opacity="0.5"/>
<path d="M1114.1 484.7A321.5 409.6 0 0 0 1132.3 471.9" fill="none" stroke="#1ebb8e" stroke-width="1.6" stroke-opacity="0.62"/>
<path d="M939.7 202.4A70.3 89.6 0 0 0 1004.1 196.7" fill="none" stroke="#2997d4" stroke-width="1.6" stroke-opacity="0.54"/>
<path d="M1052.1 304.0A167.2 213.0 0 0 0 1096.8 255.3" fill="none" stroke="#d8ec03" stroke-width="1.7" stroke-opacity="0.7"/>
<path d="M1069.7 529.7A337.4 429.8 0 0 0 1095.0 518.1" fill="none" stroke="#cced06" stroke-width="1.5" stroke-opacity="0.62"/>
<path d="M647.9 323.6A357.3 455.2 0 0 0 681.2 392.4" fill="none" stroke="#19c973" stroke-width="1.4" stroke-opacity="0.49"/>
<path d="M708.8 383.7A331.2 422.0 0 0 0 755.9 444.7" fill="none" stroke="#2994d8" stroke-width="1.6" stroke-opacity="0.6"/>
<path d="M1046.2 182.4A92.6 118.0 0 0 0 1052.5 167.1" fill="none" stroke="#27a0c7" stroke-width="1.6" stroke-opacity="0.51"/>
<path d="M1100.7 259.5A172.3 219.5 0 0 0 1117.2 228.9" fill="none" stroke="#8fed13" stroke-width="1.3" stroke-opacity="0.37"/>
<path d="M935.6 160.0A44.8 57.0 0 0 0 967.8 177.2" fill="none" stroke="#289dce" stroke-width="1.8" stroke-opacity="0.37"/>
<path d="M907.0 386.3A217.5 277.1 0 0 0 936.2 394.4" fill="none" stroke="#2991dc" stroke-width="1.0" stroke-opacity="0.53"/>
<path d="M1070.7 277.3A160.8 204.9 0 0 0 1102.3 231.9" fill="none" stroke="#55ec1c" stroke-width="1.1" stroke-opacity="0.58"/>
<path d="M843.2 255.0A163.3 208.0 0 0 0 858.5 275.0" fill="none" stroke="#20b59b" stroke-width="1.8" stroke-opacity="0.43"/>
<path d="M950.9 356.5A186.2 237.3 0 0 0 999.6 353.9" fill="none" stroke="#2991dc" stroke-width="1.4" stroke-opacity="0.46"/>
<path d="M911.4 177.7A72.1 91.8 0 0 0 949.9 209.2" fill="none" stroke="#25a6ba" stroke-width="1.6" stroke-opacity="0.64"/>
<path d="M769.9 339.2A262.0 333.7 0 0 0 819.8 395.7" fill="none" stroke="#23acb0" stroke-width="1.2" stroke-opacity="0.56"/>
<path d="M604.0 421.6A433.8 552.6 0 0 0 654.6 502.9" fill="none" stroke="#24a9b5" stroke-width="1.2" stroke-opacity="0.63"/>
<path d="M1422.7 485.7A538.1 685.5 0 0 0 1444.8 436.7" fill="none" stroke="#18cf64" stroke-width="1.7" stroke-opacity="0.59"/>
<path d="M1070.0 464.4A289.0 368.1 0 0 0 1096.3 449.7" fill="none" stroke="#289bd0" stroke-width="1.0" stroke-opacity="0.62"/>
<path d="M425.4 465.1A606.0 772.0 0 0 0 455.8 533.6" fill="none" stroke="#19da4a" stroke-width="1.5" stroke-opacity="0.49"/>
<path d="M955.8 229.8A86.9 110.7 0 0 0 1007.3 218.6" fill="none" stroke="#2991dc" stroke-width="1.5" stroke-opacity="0.51"/>
<path d="M578.1 439.2A463.1 589.9 0 0 0 610.9 496.3" fill="none" stroke="#26a3c1" stroke-width="1.7" stroke-opacity="0.42"/>
<path d="M921.2 339.3A178.2 227.0 0 0 0 987.1 345.8" fill="none" stroke="#27a0c8" stroke-width="1.3" stroke-opacity="0.63"/>
<path d="M1001.8 559.2A346.3 441.2 0 0 0 1043.0 550.7" fill="none" stroke="#2ce432" stroke-width="1.3" stroke-opacity="0.48"/>
<path d="M1155.0 404.3A291.4 371.2 0 0 0 1184.2 368.3" fill="none" stroke="#25a5bd" stroke-width="1.3" stroke-opacity="0.62"/>
<path d="M448.2 487.2A593.9 756.7 0 0 0 469.4 532.3" fill="none" stroke="#e1ec01" stroke-width="1.4" stroke-opacity="0.55"/>
<path d="M880.9 301.4A166.6 212.2 0 0 0 912.0 320.2" fill="none" stroke="#22aeaa" stroke-width="1.3" stroke-opacity="0.47"/>
<path d="M994.8 524.4A318.5 405.7 0 0 0 1073.2 502.9" fill="none" stroke="#1cc085" stroke-width="1.1" stroke-opacity="0.48"/>
<path d="M484.3 509.7A571.9 728.5 0 0 0 528.3 586.6" fill="none" stroke="#90ee13" stroke-width="1.1" stroke-opacity="0.52"/>
<path d="M1189.9 477.1A357.7 455.7 0 0 0 1241.4 413.3" fill="none" stroke="#289fca" stroke-width="1.3" stroke-opacity="0.62"/>
<path d="M995.4 526.1A319.9 407.5 0 0 0 1023.3 521.4" fill="none" stroke="#1bc37f" stroke-width="1.6" stroke-opacity="0.6"/>
<path d="M967.6 202.0A64.3 81.9 0 0 0 1025.1 156.6" fill="none" stroke="#2992db" stroke-width="1.1" stroke-opacity="0.59"/>
<path d="M826.2 406.5A265.5 338.2 0 0 0 842.4 418.5" fill="none" stroke="#24a8b8" stroke-width="1.1" stroke-opacity="0.6"/>
<path d="M890.4 251.9A129.0 164.4 0 0 0 952.7 283.4" fill="none" stroke="#23acaf" stroke-width="1.5" stroke-opacity="0.58"/>
<path d="M800.4 431.5A296.0 377.1 0 0 0 839.1 459.9" fill="none" stroke="#289bd0" stroke-width="1.3" stroke-opacity="0.4"/>
<path d="M870.5 230.2A129.9 165.5 0 0 0 896.0 258.3" fill="none" stroke="#2991dd" stroke-width="1.0" stroke-opacity="0.41"/>
<path d="M608.5 348.6A401.4 511.3 0 0 0 626.4 389.5" fill="none" stroke="#1cc184" stroke-width="1.6" stroke-opacity="0.44"/>
<path d="M995.1 330.1A167.1 212.8 0 0 0 1035.7 314.5" fill="none" stroke="#1cbf87" stroke-width="1.0" stroke-opacity="0.64"/>
<path d="M483.7 474.1A558.0 710.8 0 0 0 516.6 538.7" fill="none" stroke="#24e236" stroke-width="1.1" stroke-opacity="0.62"/>
<path d="M917.8 246.3A110.8 141.1 0 0 0 932.8 254.2" fill="none" stroke="#23abb0" stroke-width="1.5" stroke-opacity="0.7"/>
<path d="M1369.0 452.4A478.7 609.9 0 0 0 1396.9 389.8" fill="none" stroke="#27a1c5" stroke-width="0.9" stroke-opacity="0.53"/>
<path d="M1206.9 460.0A358.4 456.5 0 0 0 1252.2 397.5" fill="none" stroke="#289bcf" stroke-width="1.0" stroke-opacity="0.38"/>
<path d="M879.6 301.4A167.2 213.0 0 0 0 921.0 324.8" fill="none" stroke="#2998d4" stroke-width="1.5" stroke-opacity="0.66"/>
<path d="M966.3 147.0A21.1 26.9 0 0 0 986.9 130.9" fill="none" stroke="#24a8b8" stroke-width="1.1" stroke-opacity="0.59"/>
<path d="M1158.8 293.0A234.5 298.7 0 0 0 1175.9 257.3" fill="none" stroke="#1cbf87" stroke-width="1.6" stroke-opacity="0.4"/>
<path d="M966.5 264.6A113.4 144.5 0 0 0 982.9 263.3" fill="none" stroke="#24a9b5" stroke-width="1.1" stroke-opacity="0.38"/>
<path d="M1030.6 455.9A271.0 345.2 0 0 0 1074.1 437.6" fill="none" stroke="#1ebb90" stroke-width="1.6" stroke-opacity="0.45"/>
<path d="M1105.6 493.3A323.8 412.5 0 0 0 1159.5 452.4" fill="none" stroke="#22aeab" stroke-width="1.8" stroke-opacity="0.36"/>
<path d="M1248.8 477.6A397.3 506.1 0 0 0 1279.0 434.4" fill="none" stroke="#289ad1" stroke-width="1.0" stroke-opacity="0.46"/>
<path d="M863.8 331.5A195.7 249.3 0 0 0 886.8 347.2" fill="none" stroke="#289dcd" stroke-width="1.6" stroke-opacity="0.43"/>
<path d="M896.8 165.2A79.1 100.8 0 0 0 940.9 215.0" fill="none" stroke="#24a8b7" stroke-width="1.4" stroke-opacity="0.37"/>
<path d="M951.2 141.0A23.1 29.4 0 0 0 986.2 137.5" fill="none" stroke="#2992db" stroke-width="1.6" stroke-opacity="0.44"/>
<path d="M944.6 179.9A52.2 66.5 0 0 0 968.6 186.6" fill="none" stroke="#27a0c7" stroke-width="1.4" stroke-opacity="0.68"/>
<path d="M977.3 313.9A152.4 194.2 0 0 0 1044.7 287.6" fill="none" stroke="#1ce03b" stroke-width="1.6" stroke-opacity="0.54"/>
<path d="M787.0 492.8A343.8 438.0 0 0 0 822.2 517.1" fill="none" stroke="#289fc9" stroke-width="1.4" stroke-opacity="0.59"/>
<path d="M1005.8 244.6A104.9 133.6 0 0 0 1062.1 177.9" fill="none" stroke="#2997d5" stroke-width="1.7" stroke-opacity="0.41"/>
<path d="M771.5 386.9A286.8 365.4 0 0 0 808.2 424.0" fill="none" stroke="#2999d2" stroke-width="1.3" stroke-opacity="0.41"/>
<path d="M690.8 436.5A371.8 473.6 0 0 0 718.2 471.5" fill="none" stroke="#22b0a7" stroke-width="1.0" stroke-opacity="0.61"/>
<path d="M386.7 489.7A649.2 827.1 0 0 0 414.0 552.4" fill="none" stroke="#6eed18" stroke-width="1.5" stroke-opacity="0.51"/>
<path d="M672.4 515.8A428.4 545.8 0 0 0 690.1 536.0" fill="none" stroke="#90ed13" stroke-width="1.1" stroke-opacity="0.37"/>
<path d="M941.7 274.0A123.5 157.3 0 0 0 980.5 276.6" fill="none" stroke="#2998d4" stroke-width="1.2" stroke-opacity="0.36"/>
<path d="M1146.2 496.2A345.0 439.6 0 0 0 1181.1 465.5" fill="none" stroke="#23acaf" stroke-width="1.2" stroke-opacity="0.67"/>
<path d="M925.3 278.3A131.1 167.0 0 0 0 980.7 286.3" fill="none" stroke="#2994d8" stroke-width="1.3" stroke-opacity="0.6"/>
<path d="M1061.2 225.3A124.8 159.0 0 0 0 1082.1 183.4" fill="none" stroke="#18cc6c" stroke-width="1.0" stroke-opacity="0.67"/>
<path d="M901.8 204.4A93.3 118.8 0 0 0 974.3 238.7" fill="none" stroke="#23abb0" stroke-width="1.0" stroke-opacity="0.56"/>
<path d="M1480.5 425.8A566.3 721.4 0 0 0 1487.1 407.1" fill="none" stroke="#1dbc8d" stroke-width="1.6" stroke-opacity="0.49"/>
<path d="M1632.6 528.7A738.3 940.6 0 0 0 1645.0 494.3" fill="none" stroke="#2ee431" stroke-width="1.8" stroke-opacity="0.68"/>
<path d="M1229.2 353.7A319.5 407.0 0 0 0 1251.2 307.5" fill="none" stroke="#23adac" stroke-width="1.3" stroke-opacity="0.61"/>
<path d="M699.8 441.5A367.9 468.6 0 0 0 712.7 458.1" fill="none" stroke="#24a8b7" stroke-width="1.5" stroke-opacity="0.55"/>
<path d="M857.1 343.5A207.2 264.0 0 0 0 888.4 364.1" fill="none" stroke="#289ad0" stroke-width="1.5" stroke-opacity="0.46"/>
<path d="M820.7 227.0A169.1 215.4 0 0 0 861.2 287.6" fill="none" stroke="#58ec1b" stroke-width="1.5" stroke-opacity="0.45"/>
<path d="M935.1 161.7A46.0 58.6 0 0 0 985.6 174.1" fill="none" stroke="#289ad1" stroke-width="1.4" stroke-opacity="0.56"/>
<path d="M1026.8 285.9A143.0 182.1 0 0 0 1044.0 274.0" fill="none" stroke="#b8ed0b" stroke-width="1.1" stroke-opacity="0.42"/>
<path d="M1123.6 234.8A180.2 229.5 0 0 0 1132.9 211.5" fill="none" stroke="#21b1a4" stroke-width="1.8" stroke-opacity="0.7"/>
<path d="M944.3 180.3A52.7 67.1 0 0 0 997.6 175.2" fill="none" stroke="#2899d2" stroke-width="0.9" stroke-opacity="0.46"/>
<path d="M964.5 179.8A46.9 59.8 0 0 0 983.5 176.4" fill="none" stroke="#2899d2" stroke-width="0.9" stroke-opacity="0.37"/>
<path d="M1049.2 330.0A183.9 234.2 0 0 0 1062.1 321.1" fill="none" stroke="#2be333" stroke-width="1.7" stroke-opacity="0.69"/>
<path d="M541.2 525.1A531.8 677.5 0 0 0 563.8 561.2" fill="none" stroke="#5eec1a" stroke-width="0.9" stroke-opacity="0.43"/>
<path d="M996.4 269.0A120.3 153.3 0 0 0 1016.3 260.3" fill="none" stroke="#23abb1" stroke-width="1.2" stroke-opacity="0.47"/>
<path d="M997.9 225.8A88.3 112.5 0 0 0 1044.0 176.5" fill="none" stroke="#27a2c4" stroke-width="1.1" stroke-opacity="0.39"/>
<path d="M1374.3 467.3A489.6 623.7 0 0 0 1409.5 388.5" fill="none" stroke="#23acb0" stroke-width="0.9" stroke-opacity="0.53"/>
<path d="M989.1 274.0A122.7 156.3 0 0 0 1051.5 234.1" fill="none" stroke="#289dce" stroke-width="0.9" stroke-opacity="0.41"/>
<path d="M1593.0 536.7A705.7 899.1 0 0 0 1606.8 501.2" fill="none" stroke="#48ea23" stroke-width="1.2" stroke-opacity="0.49"/>
<path d="M586.2 362.8A426.3 543.0 0 0 0 600.8 396.8" fill="none" stroke="#1bc47c" stroke-width="1.4" stroke-opacity="0.6"/>
<path d="M809.0 405.1A274.2 349.3 0 0 0 879.8 451.1" fill="none" stroke="#2996d6" stroke-width="1.8" stroke-opacity="0.37"/>
<path d="M549.6 436.1A486.0 619.1 0 0 0 577.2 489.0" fill="none" stroke="#1fb797" stroke-width="1.8" stroke-opacity="0.5"/>
<path d="M907.5 282.6A141.0 179.6 0 0 0 978.0 299.2" fill="none" stroke="#25a5bc" stroke-width="1.1" stroke-opacity="0.55"/>
<path d="M360.5 506.4A678.6 864.5 0 0 0 386.0 565.6" fill="none" stroke="#74ed17" stroke-width="1.8" stroke-opacity="0.51"/>
<path d="M579.4 419.2A453.6 577.9 0 0 0 604.0 465.7" fill="none" stroke="#1dbd8c" stroke-width="1.1" stroke-opacity="0.37"/>
<path d="M951.8 157.5A33.3 42.4 0 0 0 989.7 151.8" fill="none" stroke="#2998d3" stroke-width="1.1" stroke-opacity="0.58"/>
<path d="M1385.7 480.7A504.9 643.2 0 0 0 1395.4 461.7" fill="none" stroke="#40e827" stroke-width="1.2" stroke-opacity="0.54"/>
<path d="M713.5 326.4A301.2 383.8 0 0 0 732.2 359.7" fill="none" stroke="#27a0c9" stroke-width="1.5" stroke-opacity="0.38"/>
<path d="M1104.6 230.5A162.1 206.5 0 0 0 1116.3 202.3" fill="none" stroke="#18cf65" stroke-width="1.5" stroke-opacity="0.66"/>
<path d="M860.1 188.5A120.1 153.0 0 0 0 907.4 252.6" fill="none" stroke="#2994d9" stroke-width="1.1" stroke-opacity="0.35"/>
<path d="M868.4 221.3A127.0 161.8 0 0 0 910.8 264.9" fill="none" stroke="#289cce" stroke-width="1.5" stroke-opacity="0.42"/>
<path d="M894.5 427.6A252.2 321.3 0 0 0 939.9 439.5" fill="none" stroke="#2997d5" stroke-width="1.2" stroke-opacity="0.6"/>
<path d="M1276.7 494.0A426.3 543.0 0 0 0 1315.5 433.9" fill="none" stroke="#2995d8" stroke-width="1.8" stroke-opacity="0.4"/>
<path d="M930.0 144.0A42.0 53.5 0 0 0 989.2 166.0" fill="none" stroke="#2995d8" stroke-width="1.0" stroke-opacity="0.42"/>
<path d="M737.3 312.8A275.4 350.9 0 0 0 783.3 381.0" fill="none" stroke="#26a4be" stroke-width="1.4" stroke-opacity="0.4"/>
<path d="M627.2 456.8A430.9 548.9 0 0 0 662.5 507.9" fill="none" stroke="#23abb2" stroke-width="1.1" stroke-opacity="0.61"/>
<path d="M1285.9 498.4A435.3 554.5 0 0 0 1315.9 452.7" fill="none" stroke="#19c874" stroke-width="1.7" stroke-opacity="0.45"/>
<path d="M1072.2 442.4A273.8 348.8 0 0 0 1110.2 417.8" fill="none" stroke="#21b0a6" stroke-width="1.8" stroke-opacity="0.36"/>
<path d="M544.4 475.4A506.8 645.6 0 0 0 573.1 525.6" fill="none" stroke="#1bc281" stroke-width="1.1" stroke-opacity="0.54"/>
<path d="M814.9 471.9A315.5 401.9 0 0 0 866.2 500.8" fill="none" stroke="#21b2a3" stroke-width="1.2" stroke-opacity="0.68"/>
<path d="M539.6 392.4A478.4 609.4 0 0 0 552.1 422.1" fill="none" stroke="#30e530" stroke-width="1.7" stroke-opacity="0.39"/>
<path d="M1011.7 254.8A114.5 145.9 0 0 0 1049.1 222.6" fill="none" stroke="#289ecb" stroke-width="1.4" stroke-opacity="0.45"/>
<path d="M942.4 198.0A66.1 84.2 0 0 0 1017.8 174.9" fill="none" stroke="#25a7ba" stroke-width="1.7" stroke-opacity="0.38"/>
<path d="M1330.3 536.6A488.3 622.1 0 0 0 1372.8 467.2" fill="none" stroke="#deec02" stroke-width="1.5" stroke-opacity="0.37"/>
<path d="M866.2 305.8A177.5 226.1 0 0 0 898.3 328.3" fill="none" stroke="#26a2c3" stroke-width="0.9" stroke-opacity="0.68"/>
<path d="M885.3 316.4A174.6 222.5 0 0 0 953.2 341.9" fill="none" stroke="#289ecb" stroke-width="1.5" stroke-opacity="0.62"/>
<path d="M754.9 293.5A252.5 321.6 0 0 0 783.3 340.0" fill="none" stroke="#27a1c5" stroke-width="1.3" stroke-opacity="0.37"/>
<path d="M1010.3 535.7A329.0 419.1 0 0 0 1064.1 520.8" fill="none" stroke="#e6e400" stroke-width="1.3" stroke-opacity="0.47"/>
<path d="M1350.8 555.9A513.7 654.5 0 0 0 1390.0 492.5" fill="none" stroke="#65ec19" stroke-width="1.3" stroke-opacity="0.64"/>
<path d="M1039.3 244.7A121.3 154.6 0 0 0 1064.1 213.7" fill="none" stroke="#27a2c5" stroke-width="1.0" stroke-opacity="0.53"/>
<path d="M751.8 311.8A263.0 335.1 0 0 0 803.6 382.2" fill="none" stroke="#2994d9" stroke-width="1.1" stroke-opacity="0.52"/>
<path d="M1047.8 551.1A347.7 442.9 0 0 0 1121.2 517.5" fill="none" stroke="#d3ed04" stroke-width="1.3" stroke-opacity="0.41"/>
<path d="M1340.5 353.8A415.6 529.4 0 0 0 1348.8 330.7" fill="none" stroke="#22aeab" stroke-width="1.3" stroke-opacity="0.67"/>
<path d="M984.7 412.0A229.8 292.7 0 0 0 1020.7 404.9" fill="none" stroke="#2992db" stroke-width="1.0" stroke-opacity="0.42"/>
<path d="M950.5 131.0A19.0 24.2 0 0 0 985.0 129.8" fill="none" stroke="#2992db" stroke-width="1.7" stroke-opacity="0.6"/>
<path d="M710.5 335.8A307.7 392.0 0 0 0 751.7 399.6" fill="none" stroke="#2992dc" stroke-width="1.8" stroke-opacity="0.48"/>
<path d="M845.5 486.3A312.2 397.8 0 0 0 866.9 496.7" fill="none" stroke="#24aab3" stroke-width="0.9" stroke-opacity="0.42"/>
<path d="M920.2 150.3A52.9 67.4 0 0 0 945.2 181.3" fill="none" stroke="#289ecc" stroke-width="1.5" stroke-opacity="0.61"/>
<path d="M524.5 457.7A516.3 657.7 0 0 0 540.9 490.5" fill="none" stroke="#18d063" stroke-width="1.4" stroke-opacity="0.39"/>
<path d="M1009.9 172.3A58.9 75.0 0 0 0 1021.6 150.0" fill="none" stroke="#27a0c9" stroke-width="1.7" stroke-opacity="0.6"/>
<path d="M966.0 221.2A79.3 101.0 0 0 0 1034.9 173.4" fill="none" stroke="#25a7b9" stroke-width="1.3" stroke-opacity="0.41"/>
<path d="M1112.0 505.6A335.2 427.1 0 0 0 1152.6 476.3" fill="none" stroke="#289dcd" stroke-width="1.2" stroke-opacity="0.52"/>
<path d="M803.3 294.7A213.9 272.5 0 0 0 835.4 334.4" fill="none" stroke="#24a9b5" stroke-width="1.2" stroke-opacity="0.65"/>
<path d="M1374.2 529.4A518.3 660.2 0 0 0 1397.3 489.2" fill="none" stroke="#afee0d" stroke-width="1.5" stroke-opacity="0.51"/>
<path d="M805.8 223.1A180.8 230.4 0 0 0 840.8 284.4" fill="none" stroke="#56ec1c" stroke-width="1.2" stroke-opacity="0.58"/>
<path d="M513.4 514.8A549.8 700.4 0 0 0 550.1 575.9" fill="none" stroke="#bced0a" stroke-width="1.3" stroke-opacity="0.57"/>
<path d="M1049.8 352.7A200.2 255.1 0 0 0 1089.6 322.3" fill="none" stroke="#75ed17" stroke-width="1.0" stroke-opacity="0.48"/>
<path d="M992.4 196.2A64.6 82.3 0 0 0 1017.9 171.7" fill="none" stroke="#289bd0" stroke-width="1.3" stroke-opacity="0.46"/>
<path d="M1086.8 510.1A328.5 418.5 0 0 0 1121.5 489.9" fill="none" stroke="#289dcd" stroke-width="0.9" stroke-opacity="0.55"/>
<path d="M710.3 544.9A421.1 536.5 0 0 0 744.0 574.8" fill="none" stroke="#1ac776" stroke-width="1.7" stroke-opacity="0.58"/>
<path d="M717.3 341.7A304.7 388.2 0 0 0 754.3 397.5" fill="none" stroke="#2991dc" stroke-width="1.0" stroke-opacity="0.66"/>
<path d="M961.1 515.7A310.6 395.7 0 0 0 983.3 515.3" fill="none" stroke="#2997d5" stroke-width="1.5" stroke-opacity="0.45"/>
<path d="M1114.5 379.6A251.1 319.9 0 0 0 1162.5 321.7" fill="none" stroke="#1eba91" stroke-width="1.6" stroke-opacity="0.45"/>
<path d="M1604.5 553.5A722.1 920.0 0 0 0 1630.1 486.1" fill="none" stroke="#2ae333" stroke-width="1.2" stroke-opacity="0.43"/>
<path d="M1395.3 500.9A521.8 664.8 0 0 0 1414.5 463.3" fill="none" stroke="#95ee12" stroke-width="1.5" stroke-opacity="0.36"/>
<path d="M1199.1 498.4A376.5 479.7 0 0 0 1222.3 473.4" fill="none" stroke="#26a5be" stroke-width="1.3" stroke-opacity="0.59"/>
<path d="M903.1 321.6A170.7 217.5 0 0 0 967.6 337.7" fill="none" stroke="#2993da" stroke-width="1.1" stroke-opacity="0.51"/>
<path d="M851.8 460.6A291.2 371.0 0 0 0 875.1 471.9" fill="none" stroke="#289ad1" stroke-width="1.3" stroke-opacity="0.48"/>
<path d="M1473.3 448.3A567.6 723.1 0 0 0 1485.9 414.7" fill="none" stroke="#23adae" stroke-width="1.3" stroke-opacity="0.38"/>
<path d="M1227.4 555.5A429.3 546.9 0 0 0 1261.7 518.6" fill="none" stroke="#19d850" stroke-width="1.1" stroke-opacity="0.53"/>
<path d="M823.5 406.1A266.7 339.8 0 0 0 899.4 448.6" fill="none" stroke="#2998d4" stroke-width="1.0" stroke-opacity="0.68"/>
<path d="M825.5 256.1A177.7 226.4 0 0 0 839.2 276.8" fill="none" stroke="#8fed13" stroke-width="1.7" stroke-opacity="0.49"/>
<path d="M1363.2 396.7A451.3 575.0 0 0 0 1381.6 348.9" fill="none" stroke="#27a2c4" stroke-width="1.0" stroke-opacity="0.54"/>
<path d="M998.2 170.7A50.1 63.9 0 0 0 1013.5 145.6" fill="none" stroke="#2993da" stroke-width="1.3" stroke-opacity="0.58"/>
<path d="M965.9 155.6A27.9 35.6 0 0 0 992.3 136.7" fill="none" stroke="#289ecc" stroke-width="1.3" stroke-opacity="0.54"/>
<path d="M1464.4 460.7A564.2 718.7 0 0 0 1485.1 406.0" fill="none" stroke="#289fca" stroke-width="1.1" stroke-opacity="0.52"/>
<path d="M893.6 208.1A101.1 128.9 0 0 0 918.2 232.6" fill="none" stroke="#25a6bb" stroke-width="1.5" stroke-opacity="0.65"/>
<path d="M886.2 452.5A273.3 348.2 0 0 0 930.0 465.0" fill="none" stroke="#289fca" stroke-width="1.0" stroke-opacity="0.62"/>
<path d="M932.0 424.8A241.7 308.0 0 0 0 993.2 426.4" fill="none" stroke="#25a5bd" stroke-width="1.1" stroke-opacity="0.39"/>
<path d="M817.8 403.1A267.9 341.3 0 0 0 877.3 441.5" fill="none" stroke="#25a6bc" stroke-width="1.2" stroke-opacity="0.36"/>
<path d="M1030.5 500.5A305.1 388.7 0 0 0 1100.8 469.9" fill="none" stroke="#2997d4" stroke-width="0.9" stroke-opacity="0.42"/>
<path d="M1040.8 256.2A129.5 164.9 0 0 0 1079.6 202.6" fill="none" stroke="#a7ee0f" stroke-width="1.2" stroke-opacity="0.37"/>
<path d="M926.6 196.1A72.3 92.1 0 0 0 982.6 210.3" fill="none" stroke="#289dce" stroke-width="1.8" stroke-opacity="0.42"/>
<path d="M599.1 449.8A450.2 573.5 0 0 0 617.6 480.9" fill="none" stroke="#289ccf" stroke-width="1.1" stroke-opacity="0.42"/>
<path d="M819.2 528.7A353.4 450.2 0 0 0 855.8 547.2" fill="none" stroke="#d7ec03" stroke-width="1.0" stroke-opacity="0.36"/>
<path d="M766.2 519.8A372.8 474.9 0 0 0 811.7 551.6" fill="none" stroke="#79ed16" stroke-width="1.6" stroke-opacity="0.65"/>
<path d="M718.6 278.6A278.3 354.5 0 0 0 747.0 336.3" fill="none" stroke="#57ec1c" stroke-width="1.7" stroke-opacity="0.58"/>
<path d="M1248.6 506.2A413.3 526.6 0 0 0 1280.7 463.8" fill="none" stroke="#18cd6a" stroke-width="1.2" stroke-opacity="0.52"/>
<path d="M864.7 226.5A132.4 168.7 0 0 0 895.0 261.3" fill="none" stroke="#23adad" stroke-width="1.8" stroke-opacity="0.68"/>
<path d="M899.4 409.0A236.8 301.6 0 0 0 913.1 413.7" fill="none" stroke="#2998d4" stroke-width="1.2" stroke-opacity="0.38"/>
<path d="M1103.8 430.8A279.4 355.9 0 0 0 1116.2 421.5" fill="none" stroke="#21b1a5" stroke-width="1.5" stroke-opacity="0.65"/>
<path d="M664.6 513.5A432.5 551.0 0 0 0 686.1 538.6" fill="none" stroke="#a1ee10" stroke-width="1.0" stroke-opacity="0.47"/>
<path d="M919.7 557.4A346.5 441.4 0 0 0 953.7 561.2" fill="none" stroke="#19d655" stroke-width="1.2" stroke-opacity="0.47"/>
<path d="M1061.6 312.6A178.0 226.7 0 0 0 1099.8 271.9" fill="none" stroke="#8fed13" stroke-width="1.6" stroke-opacity="0.6"/>
<path d="M1020.1 292.8A145.3 185.1 0 0 0 1048.2 274.1" fill="none" stroke="#3fe828" stroke-width="1.3" stroke-opacity="0.39"/>
<path d="M948.7 157.0A34.5 44.0 0 0 0 999.2 137.6" fill="none" stroke="#2994d9" stroke-width="1.7" stroke-opacity="0.57"/>
<path d="M927.2 152.2A47.5 60.5 0 0 0 952.4 177.5" fill="none" stroke="#2995d8" stroke-width="1.2" stroke-opacity="0.54"/>
<path d="M455.5 521.7A601.3 766.0 0 0 0 502.0 604.9" fill="none" stroke="#86ed14" stroke-width="1.3" stroke-opacity="0.45"/>
<path d="M844.7 350.6A218.6 278.5 0 0 0 879.2 374.9" fill="none" stroke="#289cce" stroke-width="1.3" stroke-opacity="0.36"/>
<path d="M805.6 223.2A181.0 230.6 0 0 0 831.3 272.0" fill="none" stroke="#5dec1b" stroke-width="1.2" stroke-opacity="0.54"/>
<path d="M985.2 195.3A61.6 78.5 0 0 0 1024.1 151.4" fill="none" stroke="#289ccf" stroke-width="1.1" stroke-opacity="0.48"/>
<path d="M938.4 138.7A32.6 41.5 0 0 0 973.4 161.0" fill="none" stroke="#289bd0" stroke-width="1.7" stroke-opacity="0.51"/>
<path d="M936.9 147.7A37.5 47.8 0 0 0 966.0 167.9" fill="none" stroke="#2996d6" stroke-width="1.3" stroke-opacity="0.37"/>
<path d="M776.5 269.8A224.3 285.7 0 0 0 810.7 324.4" fill="none" stroke="#289dcd" stroke-width="1.3" stroke-opacity="0.62"/>
<path d="M890.4 281.6A148.4 189.0 0 0 0 919.8 299.1" fill="none" stroke="#25a7b9" stroke-width="1.1" stroke-opacity="0.39"/>
<path d="M889.6 371.8A212.4 270.5 0 0 0 937.0 387.9" fill="none" stroke="#22adac" stroke-width="1.3" stroke-opacity="0.65"/>
<path d="M1146.3 263.9A211.4 269.3 0 0 0 1155.6 243.1" fill="none" stroke="#289ad0" stroke-width="1.4" stroke-opacity="0.58"/>
<path d="M1162.8 305.3A243.4 310.1 0 0 0 1185.2 259.1" fill="none" stroke="#24a8b7" stroke-width="1.7" stroke-opacity="0.38"/>
<path d="M911.2 227.9A101.6 129.5 0 0 0 983.8 248.0" fill="none" stroke="#23abb1" stroke-width="1.1" stroke-opacity="0.64"/>
<path d="M954.9 174.1A44.2 56.3 0 0 0 973.1 176.0" fill="none" stroke="#2990dd" stroke-width="1.1" stroke-opacity="0.46"/>
<path d="M958.8 156.1A29.5 37.6 0 0 0 977.7 155.5" fill="none" stroke="#26a4bf" stroke-width="1.7" stroke-opacity="0.48"/>
<path d="M710.3 313.9A298.8 380.7 0 0 0 756.0 389.0" fill="none" stroke="#27a1c7" stroke-width="1.4" stroke-opacity="0.43"/>
<path d="M1178.1 329.8A267.3 340.5 0 0 0 1199.3 289.8" fill="none" stroke="#2993da" stroke-width="1.8" stroke-opacity="0.47"/>
<path d="M913.9 358.6A194.7 248.1 0 0 0 995.2 365.7" fill="none" stroke="#2998d3" stroke-width="1.0" stroke-opacity="0.64"/>
<path d="M972.8 290.7A134.0 170.7 0 0 0 1023.9 275.0" fill="none" stroke="#6ded18" stroke-width="1.2" stroke-opacity="0.46"/>
<path d="M864.2 357.2A212.9 271.2 0 0 0 887.9 371.6" fill="none" stroke="#23abb2" stroke-width="1.5" stroke-opacity="0.48"/>
<path d="M1223.7 320.8A300.7 383.1 0 0 0 1241.5 278.1" fill="none" stroke="#289ecc" stroke-width="1.2" stroke-opacity="0.68"/>
<path d="M1573.1 553.3A694.5 884.7 0 0 0 1601.7 480.7" fill="none" stroke="#58ec1b" stroke-width="1.4" stroke-opacity="0.45"/>
<path d="M803.1 244.6A191.3 243.7 0 0 0 830.2 289.7" fill="none" stroke="#bfed09" stroke-width="0.9" stroke-opacity="0.62"/>
<path d="M1117.6 381.8A254.4 324.0 0 0 0 1171.8 313.3" fill="none" stroke="#2899d2" stroke-width="1.7" stroke-opacity="0.51"/>
<path d="M1142.8 441.1A306.9 391.0 0 0 0 1194.4 383.5" fill="none" stroke="#289bd0" stroke-width="1.2" stroke-opacity="0.66"/>
<path d="M967.7 484.3A285.9 364.2 0 0 0 1023.8 477.2" fill="none" stroke="#289ad1" stroke-width="1.8" stroke-opacity="0.7"/>
<path d="M991.3 174.3A48.7 62.1 0 0 0 1012.3 144.8" fill="none" stroke="#24a8b6" stroke-width="1.5" stroke-opacity="0.5"/>
<path d="M980.6 192.9A58.6 74.6 0 0 0 1021.3 149.8" fill="none" stroke="#2998d4" stroke-width="1.7" stroke-opacity="0.62"/>
<path d="M895.6 497.9A305.1 388.7 0 0 0 932.4 506.2" fill="none" stroke="#2a8ee1" stroke-width="1.2" stroke-opacity="0.43"/>
<path d="M1011.0 243.3A106.0 135.0 0 0 0 1046.2 210.6" fill="none" stroke="#2998d4" stroke-width="1.6" stroke-opacity="0.48"/>
<path d="M1031.0 198.8A88.5 112.8 0 0 0 1048.8 165.0" fill="none" stroke="#25a6ba" stroke-width="1.5" stroke-opacity="0.64"/>
<path d="M1474.9 559.7A613.6 781.6 0 0 0 1485.1 539.9" fill="none" stroke="#19d94d" stroke-width="1.6" stroke-opacity="0.51"/>
<path d="M919.8 442.6A257.6 328.1 0 0 0 991.3 446.9" fill="none" stroke="#2998d3" stroke-width="1.7" stroke-opacity="0.52"/>
<path d="M1118.9 351.6A236.5 301.2 0 0 0 1141.4 324.3" fill="none" stroke="#27a0c8" stroke-width="1.7" stroke-opacity="0.58"/>
<path d="M1136.5 481.6A330.2 420.6 0 0 0 1197.4 422.2" fill="none" stroke="#23abb0" stroke-width="1.0" stroke-opacity="0.39"/>
<path d="M1015.8 282.4A136.2 173.5 0 0 0 1069.5 235.2" fill="none" stroke="#39e62b" stroke-width="1.6" stroke-opacity="0.44"/>
<path d="M704.0 465.2A377.9 481.4 0 0 0 741.0 505.5" fill="none" stroke="#2997d5" stroke-width="1.2" stroke-opacity="0.41"/>
<path d="M934.7 199.0A70.1 89.3 0 0 0 995.3 202.1" fill="none" stroke="#22adac" stroke-width="1.5" stroke-opacity="0.66"/>
<path d="M1353.0 399.9A443.7 565.2 0 0 0 1374.6 345.0" fill="none" stroke="#23acaf" stroke-width="1.2" stroke-opacity="0.63"/>
<path d="M357.1 528.0A689.3 878.2 0 0 0 371.9 562.2" fill="none" stroke="#71ed18" stroke-width="1.8" stroke-opacity="0.44"/>
<path d="M933.8 141.7A37.8 48.1 0 0 0 978.3 166.3" fill="none" stroke="#25a7ba" stroke-width="1.1" stroke-opacity="0.48"/>
<path d="M910.9 174.7A71.0 90.4 0 0 0 950.7 208.0" fill="none" stroke="#25a5bd" stroke-width="1.4" stroke-opacity="0.55"/>
<path d="M732.4 336.4A290.0 369.4 0 0 0 749.9 364.3" fill="none" stroke="#26a3c2" stroke-width="1.6" stroke-opacity="0.57"/>
<path d="M996.5 178.8A54.4 69.3 0 0 0 1017.5 147.7" fill="none" stroke="#27a1c6" stroke-width="1.6" stroke-opacity="0.54"/>
<path d="M986.5 304.2A145.7 185.6 0 0 0 1024.0 291.3" fill="none" stroke="#1ade41" stroke-width="1.3" stroke-opacity="0.4"/>
<path d="M1093.8 365.6A230.4 293.5 0 0 0 1112.1 348.7" fill="none" stroke="#22aeaa" stroke-width="1.4" stroke-opacity="0.46"/>
<path d="M839.9 296.1A188.0 239.6 0 0 0 873.9 327.8" fill="none" stroke="#2991dc" stroke-width="1.8" stroke-opacity="0.64"/>
<path d="M821.6 307.8A207.3 264.1 0 0 0 849.8 337.5" fill="none" stroke="#2990dd" stroke-width="1.5" stroke-opacity="0.63"/>
<path d="M937.3 139.4A33.8 43.1 0 0 0 968.2 163.2" fill="none" stroke="#2999d3" stroke-width="1.1" stroke-opacity="0.65"/>
<path d="M676.9 397.4A363.1 462.6 0 0 0 716.1 453.8" fill="none" stroke="#2995d7" stroke-width="1.6" stroke-opacity="0.41"/>
<path d="M1039.4 327.8A178.1 226.9 0 0 0 1059.1 314.8" fill="none" stroke="#2fe431" stroke-width="1.0" stroke-opacity="0.51"/>
<path d="M973.3 252.5A104.0 132.5 0 0 0 1033.7 222.4" fill="none" stroke="#289bd0" stroke-width="1.4" stroke-opacity="0.42"/>
<path d="M1375.7 458.6A487.0 620.4 0 0 0 1384.6 440.4" fill="none" stroke="#21b3a1" stroke-width="1.2" stroke-opacity="0.7"/>
<path d="M1363.2 552.6A521.3 664.1 0 0 0 1376.9 531.4" fill="none" stroke="#1bc47d" stroke-width="1.7" stroke-opacity="0.36"/>
<path d="M405.0 527.1A646.9 824.1 0 0 0 440.6 598.2" fill="none" stroke="#c9ed07" stroke-width="1.4" stroke-opacity="0.39"/>
<path d="M1333.9 395.2A425.2 541.7 0 0 0 1357.7 335.6" fill="none" stroke="#23abb1" stroke-width="1.0" stroke-opacity="0.37"/>
<path d="M932.9 142.2A38.7 49.3 0 0 0 946.9 161.9" fill="none" stroke="#25a5bd" stroke-width="1.3" stroke-opacity="0.61"/>
<path d="M926.3 238.2A101.4 129.2 0 0 0 999.0 243.0" fill="none" stroke="#26a2c3" stroke-width="1.0" stroke-opacity="0.48"/>
<path d="M793.2 427.2A297.5 379.0 0 0 0 847.5 466.9" fill="none" stroke="#2996d6" stroke-width="1.1" stroke-opacity="0.55"/>
<path d="M1289.0 433.4A404.7 515.6 0 0 0 1323.9 364.6" fill="none" stroke="#23acae" stroke-width="1.7" stroke-opacity="0.47"/>
<path d="M1248.4 340.5A329.9 420.2 0 0 0 1270.2 287.3" fill="none" stroke="#24a9b6" stroke-width="1.6" stroke-opacity="0.54"/>
<path d="M1056.5 221.3A119.2 151.9 0 0 0 1076.9 180.6" fill="none" stroke="#18cd6b" stroke-width="1.4" stroke-opacity="0.43"/>
<path d="M881.3 175.0A96.4 122.8 0 0 0 912.6 221.0" fill="none" stroke="#23abb1" stroke-width="1.7" stroke-opacity="0.48"/>
<path d="M1165.4 331.3A258.1 328.8 0 0 0 1204.4 251.0" fill="none" stroke="#24aab4" stroke-width="1.5" stroke-opacity="0.6"/>
<path d="M1042.7 282.7A148.1 188.6 0 0 0 1069.3 257.3" fill="none" stroke="#5cec1b" stroke-width="1.4" stroke-opacity="0.42"/>
<path d="M829.5 376.9A244.3 311.3 0 0 0 847.2 391.0" fill="none" stroke="#25a7ba" stroke-width="1.3" stroke-opacity="0.36"/>
<path d="M534.7 451.8A505.1 643.4 0 0 0 553.6 488.8" fill="none" stroke="#18ce68" stroke-width="1.7" stroke-opacity="0.7"/>
<path d="M1039.3 295.8A155.5 198.1 0 0 0 1076.1 261.9" fill="none" stroke="#5fec1a" stroke-width="1.7" stroke-opacity="0.52"/>
<path d="M990.7 203.8A69.6 88.7 0 0 0 1031.4 155.4" fill="none" stroke="#2996d6" stroke-width="1.5" stroke-opacity="0.54"/>
<path d="M867.8 367.8A218.5 278.4 0 0 0 883.7 377.2" fill="none" stroke="#23adad" stroke-width="1.6" stroke-opacity="0.35"/>
<path d="M1157.4 307.9A240.3 306.1 0 0 0 1187.6 243.3" fill="none" stroke="#1eb994" stroke-width="1.8" stroke-opacity="0.45"/>
<path d="M966.6 252.1A103.6 132.0 0 0 0 988.2 249.5" fill="none" stroke="#25a7ba" stroke-width="1.2" stroke-opacity="0.37"/>
<path d="M1087.5 279.3A173.2 220.6 0 0 0 1100.9 260.9" fill="none" stroke="#9eee11" stroke-width="1.5" stroke-opacity="0.65"/>
<path d="M1497.3 439.9A586.2 746.8 0 0 0 1503.8 421.8" fill="none" stroke="#20b49f" stroke-width="1.6" stroke-opacity="0.61"/>
<path d="M994.4 224.6A86.2 109.9 0 0 0 1039.0 181.7" fill="none" stroke="#2990dd" stroke-width="1.0" stroke-opacity="0.54"/>
<path d="M624.9 423.5A417.2 531.5 0 0 0 668.6 490.9" fill="none" stroke="#25a6bb" stroke-width="1.8" stroke-opacity="0.43"/>
<path d="M1078.3 557.4A360.7 459.5 0 0 0 1094.6 550.2" fill="none" stroke="#18ce67" stroke-width="1.6" stroke-opacity="0.39"/>
<path d="M953.6 370.6A197.1 251.1 0 0 0 990.6 369.5" fill="none" stroke="#23acaf" stroke-width="1.5" stroke-opacity="0.53"/>
<path d="M769.5 271.5A231.0 294.2 0 0 0 797.4 319.1" fill="none" stroke="#2991dd" stroke-width="1.5" stroke-opacity="0.67"/>
<path d="M692.5 402.0A353.0 449.7 0 0 0 739.5 463.3" fill="none" stroke="#27a1c6" stroke-width="1.8" stroke-opacity="0.41"/>
<path d="M1050.7 435.3A261.0 332.5 0 0 0 1073.6 424.0" fill="none" stroke="#2992db" stroke-width="1.5" stroke-opacity="0.35"/>
<path d="M1071.1 472.2A295.1 376.0 0 0 0 1132.0 432.4" fill="none" stroke="#25a6bc" stroke-width="1.7" stroke-opacity="0.57"/>
<path d="M1407.7 541.0A550.3 701.1 0 0 0 1449.4 458.9" fill="none" stroke="#54ec1c" stroke-width="1.2" stroke-opacity="0.44"/>
<path d="M797.0 301.4A222.1 282.9 0 0 0 854.0 363.2" fill="none" stroke="#2995d7" stroke-width="1.1" stroke-opacity="0.62"/>
<path d="M1150.8 290.9A227.0 289.2 0 0 0 1175.8 235.2" fill="none" stroke="#26a4c0" stroke-width="1.1" stroke-opacity="0.4"/>
<path d="M984.4 213.1A74.9 95.4 0 0 0 1019.5 188.9" fill="none" stroke="#2998d3" stroke-width="0.9" stroke-opacity="0.4"/>
<path d="M1132.5 371.5A257.2 327.6 0 0 0 1183.0 299.0" fill="none" stroke="#25a6bb" stroke-width="1.2" stroke-opacity="0.42"/>
<path d="M1631.0 550.0A744.4 948.3 0 0 0 1650.2 498.1" fill="none" stroke="#30e530" stroke-width="1.8" stroke-opacity="0.68"/>
<path d="M1042.7 433.6A257.2 327.7 0 0 0 1081.0 414.2" fill="none" stroke="#289dcd" stroke-width="0.9" stroke-opacity="0.45"/>
<path d="M979.2 387.0A209.8 267.3 0 0 0 1055.9 362.6" fill="none" stroke="#2996d7" stroke-width="1.8" stroke-opacity="0.56"/>
<path d="M764.4 483.0A349.9 445.7 0 0 0 829.6 529.8" fill="none" stroke="#24a8b6" stroke-width="1.3" stroke-opacity="0.65"/>
<path d="M804.5 360.6A249.5 317.8 0 0 0 867.6 411.4" fill="none" stroke="#289ad1" stroke-width="1.2" stroke-opacity="0.66"/>
<path d="M858.9 329.7A197.1 251.1 0 0 0 887.6 349.7" fill="none" stroke="#289fcb" stroke-width="1.6" stroke-opacity="0.39"/>
<path d="M922.7 315.3A159.6 203.3 0 0 0 981.0 322.7" fill="none" stroke="#289bcf" stroke-width="1.4" stroke-opacity="0.55"/>
<path d="M1028.9 245.7A116.1 147.9 0 0 0 1065.8 198.9" fill="none" stroke="#2995d8" stroke-width="1.5" stroke-opacity="0.52"/>
<path d="M1083.8 317.7A193.8 246.8 0 0 0 1121.8 269.5" fill="none" stroke="#a3ee10" stroke-width="1.3" stroke-opacity="0.65"/>
<path d="M651.5 518.9A444.9 566.7 0 0 0 702.2 575.0" fill="none" stroke="#e7df00" stroke-width="1.6" stroke-opacity="0.41"/>
<path d="M453.7 459.7A578.8 737.4 0 0 0 494.3 544.8" fill="none" stroke="#1ade41" stroke-width="0.9" stroke-opacity="0.44"/>
<path d="M678.5 530.8A433.0 551.6 0 0 0 722.9 575.3" fill="none" stroke="#19da4a" stroke-width="1.5" stroke-opacity="0.63"/>
<path d="M989.7 204.8A70.0 89.2 0 0 0 1031.8 155.6" fill="none" stroke="#23acb0" stroke-width="1.4" stroke-opacity="0.6"/>
<path d="M839.1 544.2A356.8 454.5 0 0 0 885.2 562.4" fill="none" stroke="#18ce67" stroke-width="1.4" stroke-opacity="0.5"/>
<path d="M942.8 166.0A43.7 55.6 0 0 0 975.1 175.0" fill="none" stroke="#24a8b7" stroke-width="1.5" stroke-opacity="0.57"/>
<path d="M1171.1 438.4A322.2 410.5 0 0 0 1226.4 364.7" fill="none" stroke="#25a7b9" stroke-width="1.8" stroke-opacity="0.35"/>
<path d="M1047.9 343.1A192.5 245.3 0 0 0 1076.0 322.8" fill="none" stroke="#6fed18" stroke-width="1.3" stroke-opacity="0.63"/>
<path d="M413.1 499.2A629.2 801.6 0 0 0 423.8 523.5" fill="none" stroke="#caed07" stroke-width="1.5" stroke-opacity="0.68"/>
<path d="M949.5 131.6A20.2 25.7 0 0 0 985.8 131.1" fill="none" stroke="#2992db" stroke-width="1.4" stroke-opacity="0.44"/>
<path d="M1323.0 553.1A491.7 626.4 0 0 0 1369.8 480.5" fill="none" stroke="#e7e000" stroke-width="1.3" stroke-opacity="0.66"/>
<path d="M1075.6 218.9A133.0 169.5 0 0 0 1089.6 187.6" fill="none" stroke="#29e334" stroke-width="1.6" stroke-opacity="0.44"/>
<path d="M925.7 343.9A180.6 230.0 0 0 0 954.7 349.6" fill="none" stroke="#27a2c4" stroke-width="1.2" stroke-opacity="0.57"/>
<path d="M1062.1 286.1A161.0 205.0 0 0 0 1107.0 222.6" fill="none" stroke="#baed0b" stroke-width="1.4" stroke-opacity="0.7"/>
<path d="M995.2 324.3A162.6 207.2 0 0 0 1028.0 312.5" fill="none" stroke="#4deb20" stroke-width="1.4" stroke-opacity="0.51"/>
<path d="M1179.3 480.9A353.6 450.5 0 0 0 1233.7 416.7" fill="none" stroke="#24a9b5" stroke-width="1.7" stroke-opacity="0.54"/>
<path d="M640.2 446.4A415.6 529.5 0 0 0 661.6 478.5" fill="none" stroke="#24a8b7" stroke-width="1.3" stroke-opacity="0.48"/>
<path d="M746.0 454.0A343.2 437.2 0 0 0 762.1 470.3" fill="none" stroke="#2990dd" stroke-width="1.2" stroke-opacity="0.59"/>
<path d="M1280.3 411.2A387.3 493.4 0 0 0 1310.8 348.6" fill="none" stroke="#22afa8" stroke-width="1.8" stroke-opacity="0.62"/>
<path d="M916.0 185.0A72.4 92.3 0 0 0 990.3 207.7" fill="none" stroke="#23acae" stroke-width="1.0" stroke-opacity="0.41"/>
<path d="M1324.3 423.1A428.8 546.2 0 0 0 1339.8 391.3" fill="none" stroke="#20b59c" stroke-width="1.1" stroke-opacity="0.49"/>
<path d="M958.5 383.8A207.1 263.9 0 0 0 1005.0 379.7" fill="none" stroke="#2991dc" stroke-width="1.0" stroke-opacity="0.37"/>
<path d="M490.6 434.9A537.2 684.3 0 0 0 505.7 469.7" fill="none" stroke="#2ae333" stroke-width="1.8" stroke-opacity="0.47"/>
<path d="M726.1 551.5A415.9 529.8 0 0 0 737.7 561.7" fill="none" stroke="#18d161" stroke-width="1.3" stroke-opacity="0.46"/>
<path d="M614.9 363.9A401.2 511.1 0 0 0 631.6 399.6" fill="none" stroke="#1adc45" stroke-width="1.6" stroke-opacity="0.36"/>
<path d="M867.8 462.8A286.9 365.5 0 0 0 916.1 479.7" fill="none" stroke="#27a1c6" stroke-width="0.9" stroke-opacity="0.38"/>
<path d="M959.2 266.2A115.0 146.5 0 0 0 1029.0 243.9" fill="none" stroke="#2994d8" stroke-width="1.1" stroke-opacity="0.49"/>
<path d="M978.8 158.1A31.9 40.6 0 0 0 996.8 136.3" fill="none" stroke="#23aab2" stroke-width="1.6" stroke-opacity="0.69"/>
<path d="M809.1 320.5A223.2 284.4 0 0 0 848.7 360.9" fill="none" stroke="#24aab2" stroke-width="1.7" stroke-opacity="0.69"/>
<path d="M1021.1 489.2A294.6 375.3 0 0 0 1043.2 482.9" fill="none" stroke="#289bcf" stroke-width="1.0" stroke-opacity="0.37"/>
<path d="M903.8 245.1A116.9 148.9 0 0 0 936.3 263.7" fill="none" stroke="#2992db" stroke-width="1.5" stroke-opacity="0.39"/>
<path d="M895.8 176.5A84.3 107.4 0 0 0 947.8 224.6" fill="none" stroke="#289fca" stroke-width="1.3" stroke-opacity="0.44"/>
<path d="M760.5 522.8A377.9 481.4 0 0 0 822.6 564.7" fill="none" stroke="#c1ed09" stroke-width="1.7" stroke-opacity="0.5"/>
<path d="M1472.8 476.4A577.5 735.6 0 0 0 1497.4 412.8" fill="none" stroke="#1ebb90" stroke-width="1.5" stroke-opacity="0.54"/>
<path d="M979.9 201.6A65.1 83.0 0 0 0 1027.3 153.2" fill="none" stroke="#289ad1" stroke-width="1.7" stroke-opacity="0.51"/>
<path d="M1199.7 454.9A350.7 446.7 0 0 0 1230.5 415.7" fill="none" stroke="#289bd0" stroke-width="1.1" stroke-opacity="0.45"/>
<path d="M694.7 432.3A366.7 467.2 0 0 0 747.7 494.1" fill="none" stroke="#22afa9" stroke-width="0.9" stroke-opacity="0.38"/>
<path d="M979.0 143.3A21.5 27.4 0 0 0 987.3 131.0" fill="none" stroke="#2999d3" stroke-width="1.1" stroke-opacity="0.42"/>
<path d="M453.0 447.6A575.2 732.8 0 0 0 482.9 514.8" fill="none" stroke="#19d25d" stroke-width="1.1" stroke-opacity="0.43"/>
<path d="M851.8 438.3A275.3 350.7 0 0 0 895.4 458.6" fill="none" stroke="#26a4c0" stroke-width="1.5" stroke-opacity="0.64"/>
<path d="M1167.3 367.7A278.7 355.0 0 0 0 1194.0 327.0" fill="none" stroke="#21b2a3" stroke-width="1.0" stroke-opacity="0.55"/>
<path d="M1141.3 354.8A253.2 322.6 0 0 0 1172.8 309.1" fill="none" stroke="#2992db" stroke-width="1.4" stroke-opacity="0.43"/>
<path d="M957.5 164.8A36.5 46.5 0 0 0 995.9 149.4" fill="none" stroke="#24a8b6" stroke-width="1.8" stroke-opacity="0.67"/>
<path d="M388.3 488.7A647.4 824.8 0 0 0 396.2 508.0" fill="none" stroke="#23e237" stroke-width="1.0" stroke-opacity="0.68"/>
<path d="M787.5 497.9A346.9 441.9 0 0 0 816.5 517.9" fill="none" stroke="#2997d5" stroke-width="1.4" stroke-opacity="0.39"/>
<path d="M1126.2 557.9A378.5 482.1 0 0 0 1177.5 521.3" fill="none" stroke="#54ec1c" stroke-width="1.7" stroke-opacity="0.47"/>
<path d="M1060.0 522.5A329.1 419.2 0 0 0 1124.9 488.3" fill="none" stroke="#26a4bf" stroke-width="1.0" stroke-opacity="0.57"/>
<path d="M609.9 463.3A447.7 570.4 0 0 0 628.6 492.8" fill="none" stroke="#24aab4" stroke-width="1.8" stroke-opacity="0.69"/>
<path d="M790.3 304.7A228.9 291.6 0 0 0 826.2 349.5" fill="none" stroke="#289bd0" stroke-width="1.5" stroke-opacity="0.62"/>
<path d="M925.9 240.2A103.0 131.3 0 0 0 993.1 247.3" fill="none" stroke="#27a1c5" stroke-width="1.1" stroke-opacity="0.37"/>
<path d="M677.9 350.7A341.6 435.1 0 0 0 703.4 395.9" fill="none" stroke="#27a0c7" stroke-width="1.2" stroke-opacity="0.65"/>
<path d="M1159.7 455.3A325.8 415.1 0 0 0 1199.9 411.1" fill="none" stroke="#2993da" stroke-width="1.4" stroke-opacity="0.43"/>
<path d="M851.3 294.3A179.4 228.6 0 0 0 900.4 332.1" fill="none" stroke="#2998d4" stroke-width="1.5" stroke-opacity="0.55"/>
<path d="M930.1 162.9A50.3 64.0 0 0 0 960.9 183.6" fill="none" stroke="#2991dc" stroke-width="1.1" stroke-opacity="0.47"/>
<path d="M990.9 197.2A64.9 82.6 0 0 0 1027.0 153.0" fill="none" stroke="#23abb0" stroke-width="1.6" stroke-opacity="0.45"/>
<path d="M937.8 213.4A79.0 100.6 0 0 0 986.3 217.9" fill="none" stroke="#24a9b5" stroke-width="0.9" stroke-opacity="0.54"/>
<path d="M840.1 529.2A345.5 440.1 0 0 0 905.1 553.0" fill="none" stroke="#5eec1b" stroke-width="1.5" stroke-opacity="0.64"/>
<path d="M1127.7 544.9A369.9 471.2 0 0 0 1164.3 519.1" fill="none" stroke="#66ec19" stroke-width="0.9" stroke-opacity="0.5"/>
<path d="M923.8 218.6A88.8 113.1 0 0 0 993.2 228.5" fill="none" stroke="#289ecc" stroke-width="1.6" stroke-opacity="0.69"/>
<path d="M793.8 446.6A309.6 394.4 0 0 0 809.5 459.3" fill="none" stroke="#2998d3" stroke-width="1.4" stroke-opacity="0.62"/>
<path d="M1062.9 269.1A150.9 192.2 0 0 0 1075.4 254.6" fill="none" stroke="#ddec02" stroke-width="1.4" stroke-opacity="0.58"/>
<path d="M1205.6 449.7A351.6 447.9 0 0 0 1216.1 436.9" fill="none" stroke="#2991dc" stroke-width="1.2" stroke-opacity="0.53"/>
<path d="M996.7 555.1A342.6 436.5 0 0 0 1013.7 552.7" fill="none" stroke="#4cea20" stroke-width="1.0" stroke-opacity="0.59"/>
<path d="M902.4 334.8A180.7 230.2 0 0 0 940.5 347.7" fill="none" stroke="#289fca" stroke-width="1.5" stroke-opacity="0.37"/>
<path d="M1244.8 522.5A420.3 535.4 0 0 0 1257.6 507.7" fill="none" stroke="#ddec02" stroke-width="0.9" stroke-opacity="0.66"/>
<path d="M652.8 441.7A403.5 514.0 0 0 0 687.1 489.7" fill="none" stroke="#2994d8" stroke-width="1.1" stroke-opacity="0.66"/>
<path d="M776.1 376.0A277.5 353.5 0 0 0 839.4 433.6" fill="none" stroke="#289ccf" stroke-width="1.4" stroke-opacity="0.46"/>
<path d="M711.9 357.9A316.5 403.2 0 0 0 747.3 409.7" fill="none" stroke="#21b2a2" stroke-width="1.3" stroke-opacity="0.6"/>
<path d="M729.4 271.7A266.2 339.1 0 0 0 745.3 306.8" fill="none" stroke="#94ee12" stroke-width="1.8" stroke-opacity="0.5"/>
<path d="M1064.5 316.0A181.7 231.5 0 0 0 1111.8 261.0" fill="none" stroke="#ddec02" stroke-width="1.1" stroke-opacity="0.67"/>
<path d="M1446.1 506.7A566.7 721.9 0 0 0 1473.6 445.1" fill="none" stroke="#93ee13" stroke-width="1.4" stroke-opacity="0.37"/>
<path d="M900.2 377.7A213.1 271.5 0 0 0 939.6 389.3" fill="none" stroke="#26a2c3" stroke-width="1.1" stroke-opacity="0.6"/>
<path d="M1164.4 344.4A264.1 336.5 0 0 0 1178.6 322.4" fill="none" stroke="#289cce" stroke-width="1.4" stroke-opacity="0.49"/>
<path d="M1120.8 536.2A360.7 459.6 0 0 0 1150.3 516.4" fill="none" stroke="#6bed19" stroke-width="1.0" stroke-opacity="0.5"/>
<path d="M1161.1 474.4A338.9 431.7 0 0 0 1190.8 444.9" fill="none" stroke="#22aeab" stroke-width="1.2" stroke-opacity="0.36"/>
<path d="M1464.1 454.5A561.6 715.5 0 0 0 1482.9 404.8" fill="none" stroke="#22afa8" stroke-width="1.3" stroke-opacity="0.65"/>
<path d="M943.5 135.5A26.9 34.3 0 0 0 981.5 149.4" fill="none" stroke="#27a1c5" stroke-width="1.8" stroke-opacity="0.45"/>
<path d="M756.1 461.7A341.5 435.1 0 0 0 799.8 499.1" fill="none" stroke="#2998d4" stroke-width="1.5" stroke-opacity="0.39"/>
<path d="M1475.6 467.6A576.6 734.6 0 0 0 1486.3 440.9" fill="none" stroke="#18d062" stroke-width="1.1" stroke-opacity="0.63"/>
<path d="M738.6 308.8A272.7 347.4 0 0 0 785.6 379.0" fill="none" stroke="#27a1c5" stroke-width="1.7" stroke-opacity="0.5"/>
<path d="M993.2 370.0A197.8 252.0 0 0 0 1066.4 338.5" fill="none" stroke="#1eba91" stroke-width="1.1" stroke-opacity="0.36"/>
<path d="M912.1 155.4A62.0 78.9 0 0 0 951.2 196.3" fill="none" stroke="#26a4bf" stroke-width="1.3" stroke-opacity="0.6"/>
<path d="M956.7 141.6A20.1 25.5 0 0 0 985.0 132.8" fill="none" stroke="#24aab2" stroke-width="1.0" stroke-opacity="0.48"/>
<path d="M923.1 180.5A65.0 82.8 0 0 0 975.4 202.3" fill="none" stroke="#22aeab" stroke-width="1.4" stroke-opacity="0.63"/>
<path d="M1116.8 289.2A199.7 254.5 0 0 0 1144.9 237.2" fill="none" stroke="#35e62d" stroke-width="1.6" stroke-opacity="0.55"/>
<path d="M536.8 457.3A505.6 644.1 0 0 0 545.7 475.1" fill="none" stroke="#1eb993" stroke-width="1.0" stroke-opacity="0.36"/>
<path d="M1020.8 208.6A87.5 111.5 0 0 0 1045.9 169.9" fill="none" stroke="#27a2c5" stroke-width="1.3" stroke-opacity="0.57"/>
<path d="M1132.3 317.8A226.3 288.3 0 0 0 1150.3 290.1" fill="none" stroke="#25a6bb" stroke-width="1.2" stroke-opacity="0.47"/>
<path d="M1124.4 304.1A213.2 271.6 0 0 0 1144.9 270.8" fill="none" stroke="#47e923" stroke-width="1.2" stroke-opacity="0.66"/>
<path d="M1045.6 346.0A193.7 246.8 0 0 0 1104.6 294.6" fill="none" stroke="#2ae333" stroke-width="1.1" stroke-opacity="0.42"/>
<path d="M924.1 275.7A129.6 165.1 0 0 0 972.5 285.1" fill="none" stroke="#2992dc" stroke-width="1.0" stroke-opacity="0.42"/>
<path d="M789.3 318.0A236.4 301.2 0 0 0 850.5 381.9" fill="none" stroke="#2994d9" stroke-width="1.8" stroke-opacity="0.58"/>
<path d="M888.5 520.1A323.7 412.4 0 0 0 923.0 528.7" fill="none" stroke="#1adf3f" stroke-width="1.3" stroke-opacity="0.63"/>
<path d="M818.4 314.8A213.5 272.0 0 0 0 882.8 369.8" fill="none" stroke="#23abb1" stroke-width="1.6" stroke-opacity="0.64"/>
<path d="M1175.3 511.0A370.5 472.0 0 0 0 1196.0 491.7" fill="none" stroke="#26e335" stroke-width="1.8" stroke-opacity="0.36"/>
<path d="M955.2 185.0A52.4 66.7 0 0 0 996.8 175.6" fill="none" stroke="#23aab2" stroke-width="1.1" stroke-opacity="0.6"/>
<path d="M942.8 135.9A27.7 35.3 0 0 0 964.8 155.2" fill="none" stroke="#2997d5" stroke-width="1.8" stroke-opacity="0.59"/>
<path d="M476.5 432.6A548.8 699.2 0 0 0 495.2 476.1" fill="none" stroke="#1bc37e" stroke-width="1.4" stroke-opacity="0.41"/>
<path d="M1170.9 316.0A254.9 324.8 0 0 0 1200.4 252.5" fill="none" stroke="#27a0c8" stroke-width="0.9" stroke-opacity="0.37"/>
<path d="M946.4 325.3A162.4 206.9 0 0 0 978.2 326.6" fill="none" stroke="#2995d7" stroke-width="1.7" stroke-opacity="0.69"/>
<path d="M1142.7 473.7A328.2 418.1 0 0 0 1186.3 431.8" fill="none" stroke="#24a8b7" stroke-width="1.1" stroke-opacity="0.64"/>
<path d="M951.5 141.0A22.9 29.2 0 0 0 983.3 141.4" fill="none" stroke="#289dcd" stroke-width="1.7" stroke-opacity="0.51"/>
<path d="M1046.6 423.2A250.7 319.3 0 0 0 1072.5 410.1" fill="none" stroke="#25a5bd" stroke-width="1.6" stroke-opacity="0.35"/>
<path d="M976.0 398.4A218.5 278.4 0 0 0 1010.4 393.2" fill="none" stroke="#27a1c6" stroke-width="1.6" stroke-opacity="0.46"/>
<path d="M1297.9 360.8A380.5 484.8 0 0 0 1316.7 313.0" fill="none" stroke="#1fb799" stroke-width="1.3" stroke-opacity="0.38"/>
<path d="M1080.1 277.1A166.9 212.6 0 0 0 1112.8 224.7" fill="none" stroke="#4bea21" stroke-width="1.3" stroke-opacity="0.38"/>
<path d="M935.1 235.6A96.3 122.7 0 0 0 998.9 236.2" fill="none" stroke="#2995d8" stroke-width="1.0" stroke-opacity="0.48"/>
<path d="M1004.6 275.6A127.5 162.4 0 0 0 1069.3 218.1" fill="none" stroke="#68ec19" stroke-width="1.2" stroke-opacity="0.58"/>
<path d="M1023.3 310.3A159.3 203.0 0 0 0 1082.5 260.7" fill="none" stroke="#4eeb1f" stroke-width="1.2" stroke-opacity="0.39"/>
<path d="M1508.8 527.3A628.5 800.7 0 0 0 1517.0 509.1" fill="none" stroke="#31e52f" stroke-width="1.6" stroke-opacity="0.42"/>
<path d="M1063.7 352.6A206.3 262.8 0 0 0 1095.0 326.8" fill="none" stroke="#64ec1a" stroke-width="1.7" stroke-opacity="0.59"/>
<path d="M978.9 243.7A97.7 124.4 0 0 0 1044.6 196.5" fill="none" stroke="#289fcb" stroke-width="1.6" stroke-opacity="0.57"/>
<path d="M1697.1 583.2A815.1 1038.3 0 0 0 1715.4 533.2" fill="none" stroke="#19d556" stroke-width="1.8" stroke-opacity="0.61"/>
<path d="M506.4 445.4A527.1 671.5 0 0 0 514.7 463.9" fill="none" stroke="#19ca71" stroke-width="1.7" stroke-opacity="0.63"/>
<path d="M963.8 529.3A321.2 409.2 0 0 0 1013.6 525.1" fill="none" stroke="#18cc6d" stroke-width="1.4" stroke-opacity="0.35"/>
<path d="M1278.9 489.7A425.6 542.1 0 0 0 1296.5 464.1" fill="none" stroke="#19d15f" stroke-width="1.4" stroke-opacity="0.44"/>
<path d="M1033.8 245.5A118.6 151.1 0 0 0 1057.9 218.1" fill="none" stroke="#2993da" stroke-width="1.4" stroke-opacity="0.58"/>
<path d="M952.4 138.1A20.7 26.3 0 0 0 986.5 130.6" fill="none" stroke="#25a7ba" stroke-width="1.1" stroke-opacity="0.48"/>
<path d="M1132.1 325.3A230.3 293.3 0 0 0 1174.3 249.4" fill="none" stroke="#21b0a6" stroke-width="0.9" stroke-opacity="0.41"/>
<path d="M1035.4 411.3A238.4 303.7 0 0 0 1049.9 405.1" fill="none" stroke="#26a5be" stroke-width="1.6" stroke-opacity="0.48"/>
<path d="M896.1 301.5A159.3 202.9 0 0 0 941.4 320.3" fill="none" stroke="#25a7ba" stroke-width="1.0" stroke-opacity="0.35"/>
<path d="M963.5 284.8A129.3 164.7 0 0 0 1032.6 262.5" fill="none" stroke="#2998d3" stroke-width="1.4" stroke-opacity="0.4"/>
<rect x="967" y="119.6" width="1.2" height="1.6" fill="#7a1a3a"/>
<path d="M674.6 306.6A327.5 417.2 0 0 0 1268.0 286.1" fill="none" stroke="#1adc46" stroke-width="6" stroke-opacity="0.75"/>
<path d="M674.6 306.6A327.5 417.2 0 0 0 1268.0 286.1" fill="none" stroke="#54ec1c" stroke-width="2.8" stroke-opacity="1.0"/>
<ellipse cx="990" cy="293.8" rx="7.8" ry="2.8" transform="rotate(-8 990 293.8)" fill="#e81000" fill-opacity="1.0"/>
<ellipse cx="1077" cy="254.5" rx="2.4" ry="5.2" transform="rotate(30 1077 254.5)" fill="#e91e00" fill-opacity="1.0"/>
<ellipse cx="1072" cy="246" rx="2" ry="3" transform="rotate(30 1072 246)" fill="#ecc600" fill-opacity="1.0"/>
<ellipse cx="1048.6" cy="298.4" rx="3" ry="2" transform="rotate(20 1048.6 298.4)" fill="#f0b300" fill-opacity="1.0"/>
<ellipse cx="1065.8" cy="304" rx="3" ry="2.4" transform="rotate(30 1065.8 304)" fill="#f28300" fill-opacity="1.0"/>
<ellipse cx="1069.5" cy="326.8" rx="2.6" ry="3.2" transform="rotate(40 1069.5 326.8)" fill="#f07500" fill-opacity="1.0"/>
<ellipse cx="1067.6" cy="338" rx="3" ry="2.4" transform="rotate(30 1067.6 338)" fill="#ee5800" fill-opacity="1.0"/>
<ellipse cx="1071.4" cy="355" rx="3" ry="2.2" transform="rotate(30 1071.4 355)" fill="#f0b300" fill-opacity="1.0"/>
<ellipse cx="1024" cy="273.7" rx="3" ry="1.6" transform="rotate(-30 1024 273.7)" fill="#e8d900" fill-opacity="1.0"/>
<ellipse cx="1034" cy="283" rx="2.5" ry="1.6" transform="rotate(-30 1034 283)" fill="#e8d900" fill-opacity="1.0"/>
<ellipse cx="1058" cy="290" rx="2.2" ry="2.2" transform="rotate(0 1058 290)" fill="#ecc600" fill-opacity="1.0"/>
<ellipse cx="1084" cy="288" rx="2.4" ry="2" transform="rotate(0 1084 288)" fill="#e8d900" fill-opacity="1.0"/>
<ellipse cx="1093" cy="300" rx="2.4" ry="2" transform="rotate(0 1093 300)" fill="#e8d900" fill-opacity="1.0"/>
<ellipse cx="1044" cy="264" rx="2" ry="1.6" transform="rotate(0 1044 264)" fill="#e4ec00" fill-opacity="1.0"/>
<ellipse cx="1005" cy="290" rx="3" ry="1.4" transform="rotate(-30 1005 290)" fill="#d7ec03" fill-opacity="1.0"/>
<path d="M1096.0 319.0L1106.0 310.0L1120.0 298.0" fill="none" stroke="#f4a000" stroke-width="2.4" stroke-opacity="1.0" stroke-linecap="round" stroke-linejoin="round"/>
<path d="M920.0 300.0L935.0 302.5" fill="none" stroke="#ecc600" stroke-width="1.6" stroke-opacity="1.0" stroke-linecap="round" stroke-linejoin="round"/>
<path d="M1058.0 417.0L1075.0 406.0L1096.0 392.0" fill="none" stroke="#2be432" stroke-width="1.5" stroke-opacity="0.9" stroke-linecap="round" stroke-linejoin="round"/>
<ellipse cx="1010" cy="397" rx="5.5" ry="2" transform="rotate(-5 1010 397)" fill="#31e52f" fill-opacity="0.95"/>
<path d="M1003 448L1014 444L1022 452L1027 466L1022 478L1010 476L1004 462Z" fill="#1adc46" fill-opacity="0.6"/>
<ellipse cx="938" cy="420" rx="5" ry="1.4" transform="rotate(0 938 420)" fill="#19d459" fill-opacity="0.9"/>
<ellipse cx="958" cy="468" rx="3" ry="1.2" transform="rotate(0 958 468)" fill="#19d459" fill-opacity="0.9"/>
<ellipse cx="949" cy="485" rx="4" ry="1.3" transform="rotate(0 949 485)" fill="#19d459" fill-opacity="0.9"/>
<ellipse cx="939" cy="523" rx="4" ry="1.5" transform="rotate(0 939 523)" fill="#19d459" fill-opacity="0.9"/>
<ellipse cx="801" cy="444" rx="4" ry="1.2" transform="rotate(0 801 444)" fill="#18cc6c" fill-opacity="0.9"/>
<ellipse cx="1040" cy="470" rx="6" ry="1.5" transform="rotate(0 1040 470)" fill="#19d459" fill-opacity="0.9"/>
<ellipse cx="1060" cy="460" rx="5" ry="1.4" transform="rotate(0 1060 460)" fill="#18d062" fill-opacity="0.9"/>
<ellipse cx="890" cy="500" rx="5" ry="1.4" transform="rotate(0 890 500)" fill="#18cc6c" fill-opacity="0.9"/>
<ellipse cx="1080" cy="500" rx="6" ry="1.5" transform="rotate(0 1080 500)" fill="#18d062" fill-opacity="0.9"/>
<defs><linearGradient id="sfl" gradientUnits="userSpaceOnUse" x1="860" x2="1080" y1="0" y2="0"><stop offset="0" stop-color="#d7ec03" stop-opacity="0"/><stop offset="0.18" stop-color="#ecc600"/><stop offset="0.35" stop-color="#ec3b00"/><stop offset="0.65" stop-color="#e81000"/><stop offset="0.82" stop-color="#f0b300"/><stop offset="1" stop-color="#d7ec03" stop-opacity="0"/></linearGradient></defs>
<path d="M860 541Q965 533 1080 534" fill="none" stroke="url(#sfl)" stroke-width="6" stroke-opacity="0.9"/>
<path d="M922 537.8Q966 535 1014 535.3" fill="none" stroke="#e81400" stroke-width="3.4" stroke-linecap="round"/>
</g>
<path d="M228.11 120V566M351.35 120V566M474.59 120V566M597.83 120V566M721.07 120V566M844.31 120V566M967.55 120V566M1090.79 120V566M1214.03 120V566M1337.27 120V566M1460.51 120V566M1583.75 120V566M1706.99 120V566M136 159.40H1798M136 198.65H1798M136 237.90H1798M136 277.15H1798M136 316.40H1798M136 355.65H1798M136 394.90H1798M136 434.15H1798M136 473.40H1798M136 512.65H1798M136 551.90H1798" stroke="#000" stroke-opacity="0.1" stroke-width="1" fill="none"/>
<rect x="135.5" y="119.5" width="1663" height="446.8" fill="none" stroke="#7c7c7c" stroke-width="1"/>
<text x="122.5" y="130.1" font-size="18" text-anchor="end" fill="#555">0</text>
<text x="122.5" y="169.3" font-size="18" text-anchor="end" fill="#555">5</text>
<text x="122.5" y="208.6" font-size="18" text-anchor="end" fill="#555">10</text>
<text x="122.5" y="247.8" font-size="18" text-anchor="end" fill="#555">15</text>
<text x="122.5" y="287.1" font-size="18" text-anchor="end" fill="#555">20</text>
<text x="122.5" y="326.3" font-size="18" text-anchor="end" fill="#555">25</text>
<text x="122.5" y="365.6" font-size="18" text-anchor="end" fill="#555">30</text>
<text x="122.5" y="404.8" font-size="18" text-anchor="end" fill="#555">35</text>
<text x="122.5" y="444.1" font-size="18" text-anchor="end" fill="#555">40</text>
<text x="122.5" y="483.3" font-size="18" text-anchor="end" fill="#555">45</text>
<text x="122.5" y="522.6" font-size="18" text-anchor="end" fill="#555">50</text>
<text x="122.5" y="561.9" font-size="18" text-anchor="end" fill="#555">55</text>
<text x="228.1" y="597.3" font-size="18" text-anchor="middle" fill="#555">-120</text>
<text x="351.3" y="597.3" font-size="18" text-anchor="middle" fill="#555">-100</text>
<text x="474.6" y="597.3" font-size="18" text-anchor="middle" fill="#555">-80</text>
<text x="597.8" y="597.3" font-size="18" text-anchor="middle" fill="#555">-60</text>
<text x="721.1" y="597.3" font-size="18" text-anchor="middle" fill="#555">-40</text>
<text x="844.3" y="597.3" font-size="18" text-anchor="middle" fill="#555">-20</text>
<text x="967.5" y="597.3" font-size="18" text-anchor="middle" fill="#555">0</text>
<text x="1090.8" y="597.3" font-size="18" text-anchor="middle" fill="#555">20</text>
<text x="1214.0" y="597.3" font-size="18" text-anchor="middle" fill="#555">40</text>
<text x="1337.3" y="597.3" font-size="18" text-anchor="middle" fill="#555">60</text>
<text x="1460.5" y="597.3" font-size="18" text-anchor="middle" fill="#555">80</text>
<text x="1583.8" y="597.3" font-size="18" text-anchor="middle" fill="#555">100</text>
<text x="1707.0" y="597.3" font-size="18" text-anchor="middle" fill="#555">120</text>
<text x="966.75" y="626.6" font-size="18" text-anchor="middle" fill="#555" textLength="135" lengthAdjust="spacingAndGlyphs">Across Track (m)</text>
<text transform="translate(32 341.4) rotate(-90)" x="0" y="0" font-size="18" text-anchor="middle" fill="#555" textLength="197" lengthAdjust="spacingAndGlyphs">Depth (m) (unrefracted)</text>
<text x="7.6" y="672.8" font-size="20" fill="#000" textLength="235" lengthAdjust="spacingAndGlyphs" style="white-space:pre">Across -8.68  Depth 65.43</text>
</svg>
</body></html>
